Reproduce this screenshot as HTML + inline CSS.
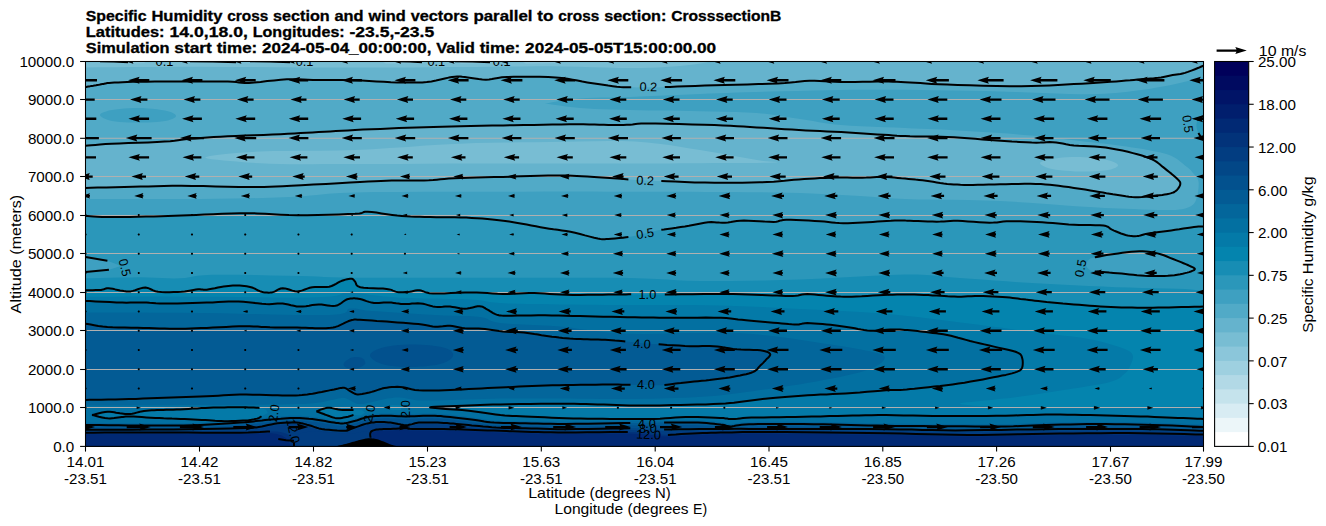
<!DOCTYPE html>
<html><head><meta charset="utf-8"><title>Specific Humidity cross section</title>
<style>html,body{margin:0;padding:0;background:#fff;}body{width:1326px;height:526px;overflow:hidden;font-family:"Liberation Sans",sans-serif;}svg{display:block;}</style>
</head><body>
<svg width="1326" height="526" viewBox="0 0 1326 526" font-family="'Liberation Sans', sans-serif">
<rect width="1326" height="526" fill="#fff"/>
<defs><clipPath id="ax"><rect x="85.5" y="61.5" width="1118.0" height="384.9"/></clipPath></defs>
<g clip-path="url(#ax)">
<g shape-rendering="geometricPrecision">
<rect x="83.5" y="59.5" width="1122.0" height="388.9" fill="#65b3cd"/>
<path d="M83.5 59.5 L83.5 67.4 L85.5 67.4 L97.5 67.3 L113.7 67.2 L133.1 67.0 L154.6 66.9 L177.2 66.8 L200.0 66.8 L224.1 66.9 L250.5 67.0 L278.1 67.2 L305.5 67.4 L331.6 67.5 L355.0 67.6 L375.6 67.6 L394.3 67.5 L411.6 67.4 L428.0 67.3 L443.9 67.1 L460.0 67.0 L476.0 66.9 L491.5 66.7 L506.6 66.5 L521.3 66.4 L535.8 66.3 L550.0 66.3 L564.3 66.5 L578.5 66.8 L592.5 67.2 L605.9 67.6 L618.5 67.9 L630.0 68.0 L640.3 67.9 L649.5 67.7 L657.9 67.4 L665.6 67.0 L672.9 66.5 L680.0 66.0 L687.0 65.3 L693.8 64.4 L700.1 63.4 L705.8 62.4 L710.5 61.6 L714.0 61.0 L720.0 59.5 Z" fill="#78bdd3"/>
<path d="M206.0 157.0 L210.0 156.1 L216.7 155.1 L225.6 154.1 L236.1 153.1 L247.7 152.2 L260.0 151.5 L273.3 151.1 L288.3 150.9 L304.3 150.8 L321.1 150.7 L338.1 150.5 L355.0 150.0 L372.1 149.2 L389.8 148.1 L407.8 146.9 L425.7 145.6 L443.3 144.5 L460.0 143.7 L475.9 143.1 L491.3 142.7 L506.2 142.5 L520.9 142.3 L535.5 142.2 L550.0 142.0 L564.7 141.8 L579.4 141.4 L594.1 141.2 L608.3 141.0 L622.0 141.1 L635.0 141.6 L647.1 142.5 L658.4 143.7 L669.2 145.1 L679.7 146.8 L689.9 148.4 L700.0 150.0 L710.4 151.7 L721.0 153.5 L731.4 155.4 L741.2 157.2 L749.8 158.7 L757.0 160.0 L763.3 160.9 L769.3 161.5 L774.2 161.8 L777.3 162.1 L777.8 162.3 L775.0 162.5 L767.8 162.7 L756.7 162.9 L743.0 163.0 L728.1 163.1 L713.3 163.1 L700.0 163.2 L688.7 163.3 L678.5 163.3 L668.4 163.4 L657.6 163.4 L645.1 163.5 L630.0 163.5 L612.0 163.5 L591.7 163.5 L569.7 163.5 L546.7 163.5 L523.2 163.5 L500.0 163.5 L475.9 163.6 L450.2 163.6 L424.1 163.8 L398.7 163.9 L375.3 163.9 L355.0 164.0 L338.2 164.1 L323.9 164.1 L311.6 164.2 L300.6 164.2 L290.2 164.2 L280.0 164.0 L269.9 163.7 L260.5 163.3 L251.8 162.8 L243.8 162.2 L236.5 161.6 L230.0 161.0 L223.6 160.4 L217.2 159.8 L211.5 159.2 L207.3 158.5 L205.2 157.8 Z" fill="#78bdd3"/>
<path d="M1040.0 163.0 L1040.8 162.1 L1042.6 161.3 L1045.2 160.5 L1048.3 159.7 L1051.6 159.1 L1055.0 158.5 L1058.6 158.0 L1062.6 157.6 L1066.9 157.3 L1071.3 157.1 L1075.7 157.0 L1080.0 157.0 L1084.3 157.2 L1088.8 157.4 L1093.2 157.8 L1097.6 158.3 L1101.5 158.9 L1105.0 159.5 L1108.1 160.2 L1111.1 161.1 L1113.7 162.1 L1115.8 163.1 L1117.3 164.1 L1118.0 165.0 L1117.9 165.9 L1117.0 166.8 L1115.6 167.8 L1113.5 168.6 L1111.0 169.4 L1108.0 170.0 L1104.4 170.5 L1100.0 170.9 L1095.1 171.2 L1090.0 171.4 L1084.9 171.5 L1080.0 171.5 L1075.1 171.4 L1070.1 171.1 L1065.0 170.7 L1060.1 170.2 L1055.7 169.7 L1052.0 169.0 L1048.8 168.2 L1045.8 167.2 L1043.3 166.1 L1041.4 165.0 L1040.3 164.0 Z" fill="#78bdd3"/>
<path d="M120.0 60.5 L148.0 60.5 L144.0 63.1 L126.0 63.4 Z" fill="#8bc6da"/>
<path d="M380.0 60.5 L420.0 60.5 L416.0 63.1 L386.0 63.4 Z" fill="#8bc6da"/>
<path d="M455.0 60.5 L485.0 60.5 L481.0 63.1 L461.0 63.4 Z" fill="#8bc6da"/>
<path d="M520.0 60.5 L560.0 60.5 L556.0 63.1 L526.0 63.4 Z" fill="#8bc6da"/>
<path d="M83.5 87.6 L85.5 87.1 L86.2 87.0 L87.1 86.8 L88.2 86.6 L89.5 86.4 L90.8 86.1 L92.0 85.9 L93.3 85.7 L94.6 85.4 L96.0 85.2 L97.4 84.9 L98.8 84.7 L100.0 84.5 L101.2 84.2 L102.3 84.0 L103.3 83.9 L104.3 83.7 L105.2 83.5 L106.0 83.4 L106.4 83.3 L106.5 83.2 L106.4 83.2 L106.6 83.2 L107.3 83.1 L109.0 83.0 L111.5 82.8 L114.5 82.6 L118.1 82.4 L122.4 82.2 L127.2 82.0 L132.8 81.8 L139.3 81.7 L146.8 81.7 L154.9 81.6 L163.4 81.6 L171.8 81.6 L180.0 81.6 L188.2 81.6 L196.9 81.5 L205.5 81.4 L213.8 81.4 L221.4 81.4 L227.8 81.5 L232.7 81.7 L236.2 82.0 L239.0 82.4 L241.6 82.7 L244.7 82.9 L248.9 82.9 L254.3 82.5 L260.5 81.9 L267.2 81.1 L274.1 80.4 L280.7 79.7 L286.9 79.3 L292.5 79.2 L297.8 79.3 L302.9 79.5 L307.9 79.7 L313.1 80.0 L318.6 80.1 L324.3 80.1 L330.2 80.1 L336.1 80.1 L342.3 80.1 L348.5 80.2 L355.0 80.3 L361.8 80.6 L369.1 81.0 L376.5 81.4 L383.9 81.8 L390.8 82.2 L397.2 82.4 L402.9 82.5 L408.2 82.6 L413.1 82.6 L417.7 82.6 L422.3 82.4 L426.8 82.0 L431.4 81.4 L436.0 80.5 L440.5 79.5 L444.8 78.5 L448.7 77.6 L452.1 77.0 L454.8 76.7 L457.0 76.5 L458.7 76.5 L460.4 76.6 L462.3 76.8 L464.8 77.0 L467.8 77.4 L471.2 77.9 L474.8 78.5 L478.6 79.1 L482.3 79.5 L485.9 79.7 L489.1 79.5 L491.9 79.1 L494.7 78.5 L497.9 77.9 L501.9 77.3 L507.0 77.0 L513.7 76.8 L521.8 76.7 L530.6 76.7 L539.6 76.8 L548.2 77.0 L555.6 77.4 L561.9 78.0 L567.5 78.8 L572.6 79.7 L577.5 80.6 L582.3 81.6 L587.3 82.4 L592.5 83.2 L597.9 84.0 L603.1 84.8 L608.2 85.6 L612.8 86.2 L616.8 86.7 L620.0 87.0 L622.6 87.2 L624.8 87.3 L626.8 87.3 L628.8 87.3 L631.2 87.3 L633.9 87.3 L636.6 87.4 L639.5 87.3 L642.3 87.3 L645.2 87.3 L648.0 87.3 L650.4 87.3 L652.4 87.3 L654.3 87.3 L656.8 87.3 L660.1 87.2 L664.8 87.1 L671.0 86.9 L678.4 86.6 L686.7 86.2 L695.7 85.9 L705.0 85.5 L714.5 85.2 L724.6 84.9 L735.8 84.7 L747.3 84.4 L758.5 84.1 L768.9 83.8 L777.8 83.5 L784.9 83.1 L790.7 82.5 L795.6 82.0 L800.1 81.4 L804.6 81.0 L809.5 80.8 L814.6 80.8 L819.6 81.0 L824.6 81.3 L829.8 81.6 L835.2 81.8 L841.1 82.0 L847.7 82.0 L855.0 81.9 L862.6 81.8 L870.1 81.7 L877.1 81.6 L883.4 81.6 L888.6 81.6 L893.0 81.7 L897.0 81.8 L900.9 82.0 L905.1 82.2 L910.0 82.4 L915.2 82.7 L920.3 83.1 L925.6 83.5 L931.7 83.9 L938.8 84.3 L947.2 84.6 L957.6 84.9 L969.9 85.3 L983.2 85.7 L996.7 86.0 L1009.6 86.2 L1021.1 86.2 L1031.2 86.1 L1040.7 85.8 L1049.5 85.4 L1057.9 85.0 L1066.0 84.5 L1073.9 84.1 L1081.8 83.7 L1089.4 83.2 L1096.8 82.8 L1103.8 82.3 L1110.3 81.8 L1116.2 81.4 L1121.4 81.0 L1126.0 80.6 L1130.2 80.3 L1133.9 79.9 L1137.5 79.6 L1141.0 79.3 L1144.4 79.0 L1147.5 78.8 L1150.4 78.6 L1153.1 78.4 L1155.8 78.1 L1158.4 77.8 L1161.0 77.4 L1163.5 76.9 L1165.9 76.4 L1168.2 75.9 L1170.5 75.4 L1172.7 75.0 L1174.8 74.7 L1176.7 74.4 L1178.6 74.2 L1180.5 74.0 L1182.6 73.5 L1185.0 72.9 L1187.9 71.9 L1191.4 70.6 L1195.0 69.2 L1198.5 67.8 L1201.4 66.5 L1203.5 65.7 L1205.5 65.0 L1205.5 448.4 L83.5 448.4 L83.5 187.9 L85.5 187.9 L90.6 187.8 L97.7 187.6 L106.1 187.4 L115.2 187.2 L124.3 187.0 L132.8 186.8 L140.6 186.6 L148.2 186.4 L155.8 186.2 L163.8 186.0 L172.2 185.8 L181.4 185.8 L191.8 185.9 L203.4 186.1 L215.5 186.4 L227.6 186.7 L238.9 186.9 L248.9 187.0 L257.1 187.0 L263.9 186.9 L269.9 186.7 L276.0 186.5 L282.8 186.2 L291.1 185.8 L301.4 185.3 L313.3 184.6 L325.9 183.9 L338.4 183.2 L350.0 182.5 L360.0 182.0 L368.1 181.6 L375.0 181.3 L380.9 181.0 L386.4 180.8 L391.7 180.6 L397.2 180.5 L402.9 180.4 L408.4 180.4 L413.8 180.4 L419.0 180.5 L424.1 180.4 L428.9 180.3 L433.2 180.1 L436.9 179.7 L440.5 179.3 L444.3 178.9 L448.7 178.5 L454.2 178.2 L460.9 177.9 L468.5 177.7 L476.8 177.5 L485.4 177.3 L494.2 177.1 L502.8 176.9 L511.6 176.6 L520.9 176.3 L530.3 176.0 L539.4 175.7 L548.0 175.5 L555.6 175.4 L562.0 175.4 L567.4 175.5 L572.2 175.7 L576.8 175.9 L581.7 176.2 L587.3 176.5 L593.9 176.9 L601.2 177.4 L608.8 177.9 L616.2 178.5 L622.9 179.0 L628.4 179.4 L632.6 179.7 L635.8 179.9 L638.2 180.1 L640.4 180.2 L642.5 180.4 L645.0 180.5 L647.3 180.6 L649.1 180.7 L650.9 180.8 L653.1 180.8 L656.5 180.9 L661.3 181.1 L668.0 181.3 L676.3 181.7 L685.6 182.0 L695.4 182.4 L705.2 182.6 L714.5 182.8 L723.6 182.8 L732.9 182.8 L742.2 182.7 L751.2 182.5 L759.6 182.3 L767.2 182.0 L773.7 181.7 L779.3 181.2 L784.4 180.8 L789.1 180.3 L793.9 179.8 L798.9 179.4 L804.2 179.0 L809.5 178.7 L814.8 178.4 L820.0 178.1 L825.3 177.9 L830.6 177.7 L836.0 177.6 L841.6 177.6 L847.1 177.6 L852.5 177.7 L857.6 177.7 L862.3 177.7 L866.4 177.6 L870.1 177.4 L873.5 177.2 L876.7 177.0 L880.0 176.9 L883.4 176.9 L887.0 177.0 L890.6 177.3 L894.2 177.6 L897.8 177.9 L901.4 178.3 L905.0 178.6 L908.5 178.9 L912.1 179.2 L915.6 179.6 L919.1 179.9 L922.6 180.3 L926.1 180.7 L929.6 181.2 L933.1 181.8 L936.7 182.4 L940.2 183.0 L943.7 183.5 L947.2 183.9 L950.6 184.2 L953.8 184.5 L957.1 184.6 L960.5 184.8 L964.2 184.9 L968.3 184.9 L972.9 184.9 L977.9 184.8 L983.2 184.7 L988.7 184.5 L994.4 184.4 L1000.0 184.3 L1005.8 184.2 L1012.0 184.0 L1018.2 183.9 L1024.4 183.8 L1030.4 183.8 L1035.9 183.9 L1040.9 184.1 L1045.5 184.4 L1049.9 184.8 L1054.2 185.3 L1058.7 185.8 L1063.4 186.4 L1068.5 187.1 L1074.0 187.9 L1079.6 188.7 L1085.1 189.6 L1090.3 190.4 L1095.0 191.2 L1099.2 191.9 L1102.9 192.5 L1106.4 193.2 L1109.7 193.7 L1112.9 194.3 L1116.2 194.8 L1119.5 195.3 L1122.7 195.8 L1125.8 196.3 L1128.9 196.7 L1132.1 197.0 L1135.2 197.2 L1138.4 197.2 L1141.7 197.1 L1145.0 196.8 L1148.2 196.5 L1151.3 196.2 L1154.2 195.9 L1157.0 195.6 L1159.7 195.3 L1162.3 195.0 L1164.7 194.6 L1166.9 194.2 L1168.9 193.8 L1170.6 193.4 L1172.0 192.9 L1173.3 192.5 L1174.4 192.0 L1175.3 191.3 L1176.3 190.6 L1177.2 189.7 L1178.1 188.6 L1178.9 187.4 L1179.6 186.2 L1180.1 185.0 L1180.3 184.0 L1180.3 183.1 L1180.2 182.4 L1179.9 181.8 L1179.3 181.0 L1178.5 180.1 L1177.4 179.0 L1175.8 177.5 L1173.8 175.8 L1171.6 173.9 L1169.2 172.0 L1166.8 170.1 L1164.7 168.4 L1162.8 166.9 L1161.1 165.4 L1159.4 164.0 L1157.7 162.7 L1155.8 161.4 L1153.7 160.2 L1151.5 159.1 L1149.2 158.1 L1146.8 157.1 L1144.1 156.2 L1141.0 155.2 L1137.3 154.2 L1132.9 153.1 L1127.9 151.8 L1122.4 150.6 L1116.7 149.4 L1111.1 148.4 L1105.6 147.5 L1100.2 146.9 L1094.6 146.5 L1089.1 146.2 L1083.7 146.0 L1078.6 145.8 L1073.9 145.4 L1069.8 144.9 L1066.1 144.3 L1062.7 143.6 L1059.4 143.0 L1056.2 142.5 L1052.8 142.2 L1049.5 142.1 L1046.5 142.2 L1043.6 142.4 L1040.3 142.6 L1036.4 142.7 L1031.7 142.6 L1025.9 142.3 L1019.2 141.9 L1011.9 141.5 L1004.4 140.9 L996.8 140.4 L989.5 139.9 L982.4 139.4 L975.2 138.8 L968.0 138.3 L960.9 137.7 L954.0 137.3 L947.2 136.9 L940.6 136.7 L934.0 136.6 L927.6 136.5 L921.4 136.5 L915.5 136.4 L910.0 136.3 L905.1 136.1 L900.9 135.9 L897.0 135.7 L893.0 135.4 L888.6 135.1 L883.4 134.8 L877.3 134.4 L870.5 134.0 L863.2 133.5 L855.8 133.0 L848.3 132.5 L841.1 132.1 L834.1 131.7 L827.0 131.4 L820.0 131.0 L813.0 130.7 L805.9 130.4 L798.9 130.0 L791.9 129.6 L784.8 129.2 L777.8 128.7 L770.8 128.3 L763.7 127.8 L756.7 127.4 L750.0 127.0 L743.6 126.6 L737.2 126.2 L730.4 125.8 L723.0 125.4 L714.5 125.1 L704.1 124.7 L692.0 124.4 L679.1 124.0 L666.6 123.7 L655.5 123.5 L646.9 123.4 L641.2 123.5 L637.7 123.7 L635.6 123.9 L634.1 124.2 L632.5 124.5 L630.0 124.7 L626.8 124.8 L623.5 124.9 L620.1 124.9 L616.5 124.9 L612.6 124.9 L608.4 124.9 L603.9 124.8 L599.4 124.7 L594.5 124.6 L589.2 124.4 L583.3 124.3 L576.7 124.3 L569.2 124.3 L561.1 124.5 L552.3 124.6 L543.1 124.8 L533.6 124.9 L523.9 125.1 L513.8 125.3 L503.2 125.4 L492.2 125.6 L481.3 125.8 L470.7 126.0 L460.6 126.2 L451.2 126.4 L442.2 126.7 L433.5 126.9 L425.0 127.2 L416.5 127.5 L407.8 127.8 L398.8 128.1 L389.6 128.5 L380.4 128.9 L371.4 129.3 L362.9 129.6 L355.0 130.0 L348.0 130.4 L341.7 130.7 L335.9 131.1 L330.2 131.4 L324.6 131.8 L318.6 132.1 L312.5 132.4 L306.6 132.8 L300.6 133.1 L294.4 133.5 L287.8 133.8 L280.6 134.2 L272.5 134.5 L263.5 134.9 L254.2 135.2 L244.9 135.6 L235.9 135.9 L227.8 136.3 L220.5 136.7 L213.6 137.1 L207.1 137.5 L201.0 137.9 L195.2 138.4 L189.8 138.8 L185.2 139.3 L181.4 139.7 L178.1 140.2 L174.5 140.7 L170.2 141.2 L164.5 141.6 L157.0 142.0 L148.0 142.4 L138.2 142.7 L128.3 143.0 L119.3 143.4 L111.7 143.7 L105.5 144.1 L100.0 144.5 L95.3 144.9 L91.3 145.3 L88.0 145.6 L85.5 145.8 L83.5 145.8 Z" fill="#51aac7"/>
<path d="M100.0 115.0 L100.4 114.1 L101.7 113.1 L103.6 112.2 L106.1 111.4 L108.9 110.6 L112.0 110.0 L115.5 109.4 L119.6 108.9 L124.1 108.5 L128.7 108.2 L133.4 108.0 L138.0 108.0 L142.6 108.1 L147.5 108.4 L152.4 108.8 L157.1 109.3 L161.4 109.9 L165.0 110.5 L168.0 111.2 L170.7 112.1 L172.9 113.1 L174.6 114.1 L175.6 115.1 L176.0 116.0 L175.6 116.9 L174.6 117.8 L172.9 118.8 L170.7 119.6 L168.0 120.4 L165.0 121.0 L161.4 121.5 L157.1 121.9 L152.4 122.2 L147.5 122.4 L142.6 122.5 L138.0 122.5 L133.4 122.5 L128.7 122.4 L124.1 122.2 L119.6 121.9 L115.5 121.5 L112.0 121.0 L108.9 120.2 L106.1 119.3 L103.6 118.2 L101.7 117.1 L100.4 116.0 Z" fill="#3ea0c1"/>
<path d="M545.0 103.5 L548.6 102.9 L553.5 102.1 L559.4 101.1 L565.9 100.1 L572.9 99.2 L580.0 98.5 L587.2 98.1 L594.8 97.8 L602.8 97.6 L611.3 97.5 L620.3 97.3 L630.0 97.0 L640.7 96.6 L652.3 96.1 L664.6 95.5 L676.9 95.0 L688.9 94.5 L700.0 94.0 L709.9 93.6 L718.9 93.3 L727.5 92.9 L736.2 92.6 L745.8 92.3 L756.7 92.0 L769.4 91.6 L783.5 91.3 L798.4 90.9 L813.4 90.5 L827.8 90.2 L841.0 90.0 L852.5 89.8 L862.7 89.7 L872.3 89.7 L882.1 89.7 L892.8 89.7 L905.0 89.8 L919.2 90.0 L934.9 90.2 L951.5 90.5 L968.3 90.8 L984.7 91.1 L1000.0 91.5 L1014.6 91.9 L1029.1 92.5 L1043.1 93.1 L1056.4 93.6 L1068.8 94.0 L1080.0 94.2 L1089.6 94.2 L1097.8 94.0 L1105.0 93.7 L1111.7 93.3 L1118.4 92.7 L1125.6 92.0 L1133.3 91.1 L1141.2 90.1 L1149.1 88.9 L1156.8 87.6 L1164.2 86.3 L1171.0 85.0 L1177.5 83.6 L1184.0 82.1 L1190.1 80.6 L1195.6 79.1 L1200.1 77.9 L1203.5 77.0 L1205.5 76.0 L1205.5 448.4 L83.5 448.4 L83.5 199.0 L85.5 199.0 L98.2 199.0 L116.1 199.1 L137.1 199.1 L159.4 199.1 L181.0 199.1 L200.0 199.0 L216.7 198.8 L232.7 198.6 L248.1 198.3 L262.8 197.9 L276.7 197.5 L290.0 197.0 L301.4 196.4 L310.6 195.5 L319.1 194.7 L328.3 193.8 L339.8 193.1 L355.0 192.5 L374.7 192.1 L398.0 191.9 L423.4 191.8 L449.8 191.8 L475.8 191.7 L500.0 191.7 L523.0 191.7 L545.9 191.6 L568.4 191.6 L590.2 191.6 L610.8 191.7 L630.0 191.7 L647.4 191.7 L663.3 191.8 L678.1 191.8 L692.2 191.8 L706.0 191.9 L720.0 192.0 L734.1 192.1 L748.1 192.2 L761.9 192.3 L775.2 192.5 L787.9 192.7 L800.0 193.0 L811.3 193.4 L822.0 193.9 L832.2 194.4 L841.9 194.9 L851.1 195.5 L860.0 196.0 L867.8 196.5 L874.3 197.0 L880.3 197.6 L886.9 198.1 L894.8 198.6 L905.0 199.0 L918.1 199.4 L933.5 199.6 L950.3 199.8 L967.6 200.1 L984.5 200.5 L1000.0 201.0 L1014.6 201.8 L1029.1 202.7 L1043.1 203.7 L1056.4 204.8 L1068.8 205.7 L1080.0 206.5 L1089.6 207.1 L1097.7 207.5 L1105.0 207.9 L1111.7 208.2 L1118.4 208.5 L1125.6 208.8 L1133.5 209.1 L1141.9 209.4 L1150.2 209.7 L1158.1 209.9 L1165.3 210.0 L1171.2 210.0 L1175.8 209.9 L1179.3 209.6 L1182.0 209.3 L1184.1 208.8 L1186.0 208.2 L1188.0 207.5 L1189.9 206.7 L1191.5 205.8 L1192.9 204.7 L1194.1 203.5 L1195.1 201.9 L1196.0 200.0 L1196.8 197.5 L1197.6 194.4 L1198.2 191.1 L1198.5 187.7 L1198.7 184.6 L1198.6 182.0 L1198.1 179.9 L1197.4 178.2 L1196.3 176.8 L1195.2 175.4 L1194.1 174.2 L1193.0 173.0 L1192.1 171.9 L1191.4 171.0 L1190.6 170.1 L1189.7 169.3 L1188.6 168.3 L1187.0 167.0 L1185.0 165.4 L1182.7 163.5 L1180.2 161.4 L1177.4 159.3 L1174.4 157.4 L1171.2 155.8 L1167.9 154.5 L1164.4 153.4 L1160.7 152.5 L1156.7 151.7 L1152.5 150.9 L1148.0 150.0 L1143.1 149.1 L1137.8 148.2 L1132.2 147.4 L1126.5 146.6 L1120.7 145.8 L1115.0 145.0 L1109.3 144.3 L1103.4 143.6 L1097.6 142.9 L1091.7 142.3 L1085.8 141.7 L1080.0 141.0 L1074.4 140.3 L1069.0 139.7 L1063.7 139.0 L1058.2 138.3 L1052.3 137.7 L1046.0 137.0 L1039.1 136.3 L1031.7 135.6 L1024.0 134.9 L1016.1 134.3 L1008.0 133.6 L1000.0 133.0 L991.8 132.4 L983.4 131.9 L974.9 131.4 L966.4 130.9 L958.1 130.4 L950.0 130.0 L942.4 129.6 L935.3 129.3 L928.4 129.0 L921.2 128.7 L913.5 128.4 L905.0 128.0 L895.2 127.6 L884.2 127.2 L872.8 126.8 L861.3 126.3 L850.6 125.7 L841.0 125.0 L832.9 124.2 L825.7 123.2 L819.2 122.2 L813.0 121.1 L806.7 120.0 L800.0 119.0 L793.2 118.0 L786.6 116.9 L780.0 115.8 L773.0 114.7 L765.3 113.8 L756.7 113.0 L746.9 112.4 L736.0 112.0 L724.4 111.7 L712.6 111.4 L701.0 111.2 L690.0 111.0 L679.5 110.8 L669.1 110.6 L659.0 110.5 L649.0 110.4 L639.3 110.2 L630.0 110.0 L620.9 109.8 L612.0 109.5 L603.4 109.2 L595.2 108.9 L587.3 108.5 L580.0 108.0 L572.9 107.3 L565.9 106.5 L559.4 105.6 L553.5 104.8 L548.6 104.0 L545.0 103.5 Z" fill="#3ea0c1"/>
<path d="M83.5 216.0 L85.5 216.0 L87.6 216.1 L90.3 216.3 L93.5 216.5 L97.5 216.7 L102.1 216.9 L107.4 217.0 L113.8 217.0 L121.2 217.0 L129.4 216.9 L137.8 216.7 L146.1 216.6 L153.9 216.4 L161.1 216.2 L167.9 216.0 L174.6 215.7 L181.4 215.4 L188.5 215.2 L196.1 214.9 L204.3 214.6 L213.1 214.2 L222.1 213.8 L231.2 213.5 L240.2 213.3 L248.9 213.2 L257.1 213.4 L265.1 213.8 L272.9 214.2 L280.8 214.7 L288.9 215.1 L297.5 215.3 L307.1 215.3 L317.7 215.1 L328.5 214.8 L338.8 214.5 L347.9 214.1 L355.0 213.8 L359.5 213.4 L361.9 212.9 L363.1 212.4 L363.9 212.0 L365.1 211.7 L367.7 211.7 L371.7 212.0 L376.4 212.6 L381.5 213.4 L386.9 214.2 L392.2 214.9 L397.2 215.5 L401.8 215.9 L406.2 216.2 L410.5 216.5 L415.0 216.7 L419.7 216.8 L424.7 217.0 L430.2 217.1 L436.2 217.2 L442.4 217.2 L448.6 217.2 L454.8 217.2 L460.6 217.4 L466.2 217.6 L471.7 217.9 L477.1 218.3 L482.3 218.6 L487.3 219.1 L492.2 219.5 L496.8 220.0 L501.1 220.5 L505.2 221.0 L509.2 221.6 L513.3 222.2 L517.6 222.9 L522.1 223.7 L526.7 224.5 L531.3 225.4 L535.9 226.3 L540.5 227.2 L545.0 228.0 L549.3 228.7 L553.5 229.3 L557.7 229.8 L561.9 230.4 L566.1 231.0 L570.4 231.8 L575.0 232.8 L580.0 234.0 L585.0 235.4 L589.8 236.6 L594.2 237.7 L597.8 238.5 L600.4 239.0 L602.2 239.2 L603.6 239.3 L604.8 239.2 L606.3 239.1 L608.4 239.0 L611.2 238.8 L614.5 238.6 L618.0 238.3 L621.6 237.9 L625.2 237.5 L628.4 237.1 L631.4 236.6 L634.2 236.0 L636.9 235.4 L639.6 234.8 L642.3 234.1 L645.0 233.5 L647.6 232.9 L650.2 232.2 L652.7 231.6 L655.3 230.9 L658.2 230.3 L661.3 229.7 L664.8 229.1 L668.6 228.6 L672.7 228.1 L676.8 227.6 L680.9 227.1 L684.9 226.5 L688.9 225.8 L692.9 225.0 L696.9 224.2 L700.8 223.4 L704.6 222.7 L708.1 222.3 L711.3 222.1 L714.1 222.2 L716.8 222.4 L719.4 222.6 L722.1 222.7 L725.0 222.7 L727.9 222.5 L730.8 222.1 L733.7 221.6 L736.8 221.1 L740.2 220.8 L744.0 220.6 L748.5 220.7 L753.7 220.9 L759.2 221.2 L764.6 221.6 L769.5 221.8 L773.6 221.9 L776.4 221.7 L778.3 221.3 L779.6 220.8 L781.1 220.4 L783.1 220.0 L786.2 219.8 L790.7 219.8 L796.3 220.0 L802.4 220.2 L808.7 220.6 L814.7 220.9 L820.0 221.2 L824.4 221.5 L828.3 222.0 L831.9 222.4 L835.5 222.8 L839.2 223.1 L843.3 223.3 L847.9 223.3 L852.8 223.1 L857.9 222.8 L863.0 222.5 L868.0 222.2 L872.8 221.9 L877.4 221.6 L882.1 221.3 L886.6 221.0 L890.9 220.8 L894.8 220.5 L898.2 220.4 L900.8 220.4 L902.6 220.4 L904.0 220.4 L905.5 220.6 L907.3 220.7 L910.0 220.8 L913.7 220.9 L918.0 221.1 L922.8 221.3 L927.7 221.5 L932.4 221.6 L936.7 221.7 L940.4 221.6 L943.8 221.4 L946.9 221.2 L950.2 221.0 L953.7 220.8 L957.8 220.8 L962.6 221.0 L968.0 221.4 L973.6 221.8 L979.3 222.2 L984.7 222.5 L989.5 222.7 L993.5 222.6 L996.9 222.4 L1000.1 222.0 L1003.2 221.6 L1006.6 221.3 L1010.6 221.2 L1015.3 221.2 L1020.4 221.3 L1025.7 221.5 L1031.3 221.7 L1036.8 222.0 L1042.2 222.3 L1047.5 222.7 L1052.8 223.1 L1058.2 223.6 L1063.5 224.0 L1068.7 224.5 L1073.9 224.8 L1079.2 225.0 L1084.7 225.1 L1090.2 225.1 L1095.3 225.2 L1099.8 225.3 L1103.5 225.6 L1106.1 226.1 L1107.7 226.7 L1108.8 227.4 L1109.6 228.1 L1110.5 228.9 L1112.0 229.7 L1114.0 230.6 L1116.2 231.5 L1118.6 232.5 L1121.0 233.5 L1123.4 234.3 L1125.6 235.0 L1127.6 235.5 L1129.6 235.8 L1131.4 236.0 L1133.3 236.2 L1135.1 236.2 L1137.0 236.1 L1138.8 235.9 L1140.4 235.5 L1142.0 235.0 L1143.8 234.5 L1145.8 233.9 L1148.4 233.4 L1151.5 232.9 L1155.2 232.4 L1159.1 231.9 L1163.2 231.4 L1167.3 230.9 L1171.2 230.4 L1175.2 229.8 L1179.3 229.2 L1183.4 228.5 L1187.4 227.9 L1191.0 227.4 L1194.0 227.0 L1196.5 226.8 L1198.5 226.6 L1200.2 226.6 L1201.5 226.6 L1202.6 226.6 L1203.5 226.6 L1205.5 226.6 L1205.5 448.4 L83.5 448.4 Z" fill="#2b97ba"/>
<path d="M1204.0 116.0 L1203.4 116.2 L1202.6 116.4 L1201.7 116.6 L1200.7 117.0 L1199.7 117.4 L1199.0 118.0 L1198.4 118.8 L1197.9 119.7 L1197.4 120.7 L1197.0 121.8 L1196.7 122.9 L1196.5 124.0 L1196.4 125.1 L1196.5 126.4 L1196.7 127.6 L1196.9 128.9 L1197.2 130.0 L1197.5 131.0 L1197.8 131.9 L1198.2 132.6 L1198.6 133.3 L1199.0 133.9 L1199.5 134.5 L1200.0 135.0 L1200.6 135.5 L1201.4 136.0 L1202.2 136.5 L1202.9 136.9 L1203.5 137.2 L1204.0 137.5 L1206.0 137.5 L1206.0 116.0 Z" fill="#2b97ba"/>
<path d="M1086.0 264.5 L1086.1 263.6 L1086.5 262.7 L1087.0 261.8 L1087.6 261.0 L1088.3 260.2 L1089.0 259.5 L1089.6 259.0 L1090.2 258.6 L1090.9 258.3 L1091.8 258.0 L1093.0 257.7 L1094.8 257.3 L1097.2 256.8 L1100.0 256.2 L1103.3 255.6 L1106.8 255.0 L1110.5 254.4 L1114.2 253.9 L1118.1 253.4 L1122.4 252.8 L1126.8 252.3 L1131.2 251.8 L1135.5 251.5 L1139.3 251.3 L1142.7 251.3 L1145.9 251.5 L1148.8 251.8 L1151.7 252.2 L1154.5 252.7 L1157.5 253.4 L1160.6 254.3 L1163.8 255.3 L1166.9 256.5 L1170.0 257.8 L1173.0 259.0 L1175.8 260.1 L1178.4 261.1 L1181.0 262.2 L1183.5 263.2 L1185.7 264.1 L1187.8 265.0 L1189.5 265.8 L1191.0 266.5 L1192.4 267.1 L1193.5 267.6 L1194.3 268.2 L1194.8 268.7 L1194.8 269.2 L1194.4 269.8 L1193.5 270.4 L1192.3 270.9 L1190.8 271.5 L1189.1 272.1 L1187.2 272.6 L1185.1 273.1 L1182.7 273.7 L1180.2 274.2 L1177.3 274.7 L1174.4 275.2 L1171.2 275.5 L1167.8 275.8 L1164.1 275.9 L1160.2 276.1 L1156.3 276.1 L1152.3 276.1 L1148.4 276.0 L1144.6 275.8 L1140.8 275.5 L1137.0 275.2 L1133.2 274.8 L1129.4 274.4 L1125.6 274.0 L1121.6 273.6 L1117.5 273.3 L1113.3 272.9 L1109.3 272.6 L1105.7 272.2 L1102.8 272.0 L1100.6 271.8 L1099.0 271.8 L1097.7 271.8 L1096.8 271.7 L1095.8 271.7 L1094.8 271.5 L1093.7 271.3 L1092.6 271.1 L1091.6 270.8 L1090.6 270.4 L1089.8 270.0 L1089.0 269.5 L1088.3 268.8 L1087.6 268.1 L1087.0 267.2 L1086.5 266.3 L1086.1 265.4 Z" fill="#3ea0c1"/>
<path d="M83.5 256.6 L107.4 260.7 L121.0 266.0 L108.9 269.7 L83.5 272.2 Z" fill="#3ea0c1"/>
<path d="M83.5 278.3 L85.5 278.3 L91.6 278.2 L100.2 278.0 L110.2 277.7 L120.9 277.5 L131.1 277.4 L140.0 277.3 L147.6 277.4 L154.7 277.7 L161.4 278.0 L167.8 278.2 L174.0 278.4 L180.0 278.3 L185.1 277.9 L189.2 277.3 L193.0 276.5 L197.5 275.8 L203.5 275.2 L212.0 274.8 L223.8 274.7 L238.4 274.8 L254.6 275.1 L271.0 275.4 L286.6 275.7 L300.0 276.0 L310.0 276.3 L317.4 276.6 L323.9 276.9 L331.2 277.2 L341.0 277.5 L355.0 277.7 L374.1 277.8 L397.2 277.8 L422.8 277.8 L449.4 277.7 L475.7 277.7 L500.0 277.7 L523.2 277.7 L546.7 277.7 L569.7 277.7 L591.7 277.7 L612.0 277.8 L630.0 278.0 L644.8 278.4 L656.7 279.0 L666.9 279.6 L676.7 280.2 L687.3 280.7 L700.0 281.0 L714.9 281.1 L730.9 281.0 L747.8 280.8 L765.2 280.4 L782.7 280.0 L800.0 279.5 L817.8 278.8 L836.5 277.8 L855.3 276.7 L873.5 275.7 L890.3 274.9 L905.0 274.5 L916.9 274.6 L926.4 275.0 L934.6 275.6 L942.3 276.4 L950.4 277.2 L960.0 278.0 L970.8 278.8 L982.2 279.6 L994.0 280.5 L1006.2 281.3 L1018.8 282.2 L1031.7 283.0 L1045.2 283.8 L1059.4 284.5 L1074.0 285.3 L1088.6 286.0 L1102.7 286.6 L1116.0 287.2 L1129.0 287.6 L1142.0 287.9 L1154.6 288.2 L1166.3 288.4 L1176.6 288.7 L1185.0 289.0 L1191.2 289.5 L1195.6 290.0 L1198.6 290.6 L1200.6 291.2 L1202.1 291.7 L1203.5 292.0 L1205.5 292.0 L1205.5 448.4 L83.5 448.4 Z" fill="#178db4"/>
<path d="M83.5 290.3 L85.5 290.3 L87.3 290.3 L89.8 290.2 L92.8 290.2 L95.9 290.1 L98.8 290.0 L101.1 289.9 L102.7 289.6 L103.9 289.3 L104.9 288.9 L105.9 288.5 L107.0 288.2 L108.5 288.2 L110.5 288.4 L112.8 288.8 L115.3 289.4 L117.8 289.9 L120.1 290.4 L122.2 290.8 L123.8 291.1 L125.2 291.3 L126.4 291.5 L127.6 291.6 L129.0 291.6 L130.7 291.4 L132.8 290.9 L135.2 290.2 L137.8 289.3 L140.5 288.4 L143.1 287.8 L145.5 287.6 L147.6 287.9 L149.5 288.6 L151.3 289.5 L153.2 290.4 L155.4 291.3 L158.1 291.8 L161.4 292.1 L165.3 292.2 L169.5 292.2 L173.7 292.1 L177.8 292.0 L181.4 291.8 L184.7 291.5 L187.8 291.0 L190.7 290.5 L193.5 290.0 L196.0 289.6 L198.2 289.3 L200.0 289.2 L201.3 289.4 L202.4 289.5 L203.6 289.7 L204.9 289.8 L206.7 289.7 L209.1 289.3 L211.8 288.8 L214.8 288.2 L217.9 287.5 L220.9 286.9 L223.6 286.5 L226.1 286.2 L228.4 285.9 L230.6 285.7 L232.9 285.6 L235.1 285.5 L237.3 285.5 L239.6 285.6 L242.0 285.8 L244.3 286.0 L246.7 286.3 L248.9 286.7 L251.0 287.2 L252.9 287.8 L254.8 288.7 L256.5 289.6 L258.2 290.5 L259.9 291.2 L261.6 291.8 L263.4 292.2 L265.1 292.5 L266.9 292.6 L268.6 292.7 L270.3 292.6 L272.1 292.4 L273.8 291.9 L275.5 291.1 L277.1 290.1 L278.9 289.2 L280.7 288.5 L282.7 288.2 L284.9 288.4 L287.3 289.0 L289.8 289.8 L292.4 290.6 L295.0 291.2 L297.5 291.4 L299.9 291.1 L302.4 290.4 L304.8 289.5 L307.2 288.6 L309.7 287.8 L312.3 287.2 L315.0 287.0 L317.9 287.0 L320.9 287.1 L323.8 287.1 L326.6 287.1 L329.2 286.7 L331.6 286.0 L333.8 285.0 L336.0 283.9 L338.0 282.7 L339.9 281.6 L341.8 280.8 L343.6 280.2 L345.4 279.6 L347.1 279.2 L348.7 278.9 L350.1 278.7 L351.3 278.7 L352.2 278.8 L352.9 279.2 L353.4 279.6 L353.9 280.2 L354.4 280.8 L355.0 281.5 L355.5 282.3 L355.9 283.3 L356.2 284.4 L356.9 285.5 L358.2 286.4 L360.3 287.2 L363.7 287.7 L368.1 288.0 L373.2 288.2 L378.3 288.4 L383.0 288.6 L386.7 288.9 L389.4 289.4 L391.4 289.9 L392.9 290.6 L394.3 291.1 L395.6 291.6 L397.2 292.0 L398.9 292.2 L400.7 292.3 L402.4 292.3 L404.2 292.2 L406.0 292.1 L407.8 292.0 L409.7 291.8 L411.5 291.4 L413.4 291.0 L415.3 290.6 L417.3 290.3 L419.4 290.3 L421.3 290.6 L422.9 291.2 L424.6 291.9 L426.7 292.6 L429.4 293.2 L433.1 293.5 L438.1 293.5 L444.2 293.4 L451.0 293.1 L458.0 292.7 L464.9 292.5 L471.1 292.4 L476.7 292.5 L482.1 292.8 L487.3 293.1 L492.5 293.5 L497.6 293.8 L502.8 293.9 L508.1 293.9 L513.4 293.7 L518.7 293.5 L523.9 293.3 L529.2 293.1 L534.5 293.1 L539.6 293.3 L544.6 293.6 L549.6 293.9 L554.8 294.3 L560.2 294.6 L566.1 294.8 L572.8 294.9 L580.1 294.9 L587.8 294.8 L595.3 294.7 L602.4 294.7 L608.4 294.6 L613.4 294.6 L617.7 294.5 L621.4 294.4 L624.8 294.4 L628.0 294.3 L631.2 294.3 L634.3 294.3 L637.2 294.3 L640.0 294.4 L642.6 294.4 L645.3 294.5 L648.0 294.5 L650.3 294.5 L652.0 294.6 L653.7 294.6 L656.0 294.6 L659.5 294.6 L664.8 294.6 L672.5 294.5 L682.3 294.4 L693.3 294.2 L704.7 294.0 L715.5 293.9 L725.0 293.9 L733.3 294.0 L741.0 294.2 L748.3 294.5 L755.0 294.7 L761.3 295.0 L767.2 295.2 L772.5 295.4 L777.3 295.6 L781.6 295.8 L785.5 296.0 L789.2 296.0 L792.6 296.0 L795.6 295.8 L798.0 295.4 L800.1 295.0 L802.2 294.6 L804.6 294.2 L807.4 294.1 L810.8 294.2 L814.6 294.5 L818.6 294.9 L822.7 295.3 L826.8 295.7 L830.6 296.0 L834.1 296.2 L837.4 296.4 L840.6 296.6 L844.0 296.7 L847.6 296.7 L851.7 296.7 L856.4 296.5 L861.7 296.3 L867.2 295.9 L872.8 295.6 L878.3 295.2 L883.4 295.0 L888.1 294.8 L892.6 294.7 L897.0 294.5 L901.3 294.4 L905.6 294.4 L910.0 294.4 L914.5 294.5 L919.1 294.7 L923.7 294.9 L928.2 295.1 L932.6 295.4 L936.7 295.6 L940.5 295.8 L944.1 296.0 L947.6 296.3 L951.0 296.5 L954.3 296.6 L957.8 296.7 L961.2 296.7 L964.6 296.5 L967.9 296.3 L971.4 296.2 L975.0 296.0 L978.9 296.0 L983.2 296.1 L988.0 296.3 L992.9 296.5 L997.8 296.7 L1002.4 297.0 L1006.4 297.3 L1009.8 297.6 L1012.7 297.9 L1015.3 298.2 L1017.8 298.5 L1020.4 298.9 L1023.2 299.2 L1026.1 299.6 L1028.9 299.9 L1031.8 300.3 L1034.8 300.7 L1038.3 301.1 L1042.2 301.5 L1046.7 302.0 L1051.8 302.4 L1057.3 302.9 L1062.9 303.5 L1068.5 303.9 L1073.9 304.4 L1079.2 304.8 L1084.5 305.3 L1089.8 305.7 L1095.0 306.1 L1100.3 306.4 L1105.6 306.7 L1110.9 307.0 L1116.2 307.2 L1121.5 307.4 L1126.7 307.5 L1132.0 307.6 L1137.3 307.7 L1142.5 307.7 L1147.7 307.7 L1152.9 307.7 L1158.1 307.6 L1163.5 307.5 L1168.9 307.4 L1174.9 307.3 L1181.5 307.1 L1188.2 307.0 L1194.4 306.8 L1199.7 306.7 L1203.5 306.6 L1205.5 306.6 L1205.5 448.4 L83.5 448.4 Z" fill="#0484ae"/>
<path d="M83.5 296.7 L85.5 296.7 L98.1 296.7 L115.7 296.7 L136.5 296.6 L158.7 296.6 L180.4 296.7 L200.0 296.7 L218.3 296.8 L236.8 297.0 L255.0 297.2 L272.0 297.4 L287.3 297.5 L300.0 297.5 L309.8 297.4 L317.3 297.3 L322.9 297.1 L327.4 296.8 L331.2 296.5 L335.0 296.0 L338.5 295.3 L341.0 294.3 L342.9 293.2 L344.6 292.2 L346.1 291.4 L348.0 291.0 L349.7 291.0 L351.0 291.2 L352.3 291.7 L354.0 292.3 L356.4 292.9 L360.0 293.5 L364.7 294.1 L370.1 294.9 L376.4 295.6 L383.4 296.4 L391.3 297.1 L400.0 297.7 L410.4 298.1 L422.6 298.4 L435.6 298.6 L448.5 298.9 L460.3 299.1 L470.0 299.5 L477.0 300.0 L481.9 300.6 L485.6 301.3 L489.3 301.9 L493.7 302.5 L500.0 303.0 L508.1 303.4 L517.4 303.7 L527.5 303.9 L538.1 304.1 L549.1 304.3 L560.0 304.5 L570.9 304.6 L581.9 304.7 L593.1 304.8 L604.8 304.9 L617.1 304.9 L630.0 305.0 L644.0 305.0 L658.9 305.1 L674.4 305.1 L690.0 305.1 L705.3 305.2 L720.0 305.5 L734.1 305.9 L748.1 306.5 L761.9 307.1 L775.2 307.8 L787.9 308.4 L800.0 309.0 L811.3 309.5 L822.0 310.0 L832.2 310.5 L841.9 311.0 L851.1 311.5 L860.0 312.0 L867.9 312.5 L874.6 312.9 L881.0 313.4 L887.6 313.9 L895.4 314.7 L905.0 315.7 L917.2 317.1 L931.5 318.8 L946.9 320.8 L962.4 322.7 L976.9 324.6 L989.5 326.2 L999.9 327.6 L1009.0 328.8 L1017.1 329.9 L1024.7 331.0 L1032.2 332.0 L1040.0 333.0 L1048.2 334.0 L1056.4 334.8 L1064.5 335.7 L1072.4 336.6 L1079.9 337.6 L1087.0 338.7 L1093.8 340.1 L1100.5 341.6 L1106.8 343.3 L1112.6 344.9 L1117.7 346.5 L1122.0 348.0 L1125.3 349.3 L1127.8 350.4 L1129.7 351.4 L1130.9 352.5 L1131.9 353.6 L1132.6 355.0 L1133.0 356.6 L1132.8 358.5 L1132.3 360.4 L1131.6 362.4 L1130.8 364.3 L1130.0 366.0 L1129.4 367.5 L1128.7 368.8 L1128.0 370.1 L1127.1 371.3 L1126.0 372.5 L1124.5 373.8 L1123.0 375.1 L1121.5 376.5 L1119.8 377.9 L1117.5 379.3 L1114.4 380.6 L1110.0 382.0 L1104.1 383.4 L1096.9 384.7 L1088.9 386.1 L1080.3 387.4 L1071.8 388.7 L1063.7 390.0 L1055.8 391.3 L1047.8 392.5 L1039.8 393.8 L1031.9 394.9 L1024.2 396.0 L1017.0 397.0 L1010.1 397.9 L1003.3 398.6 L996.8 399.3 L990.7 399.9 L985.1 400.5 L980.0 401.0 L975.2 401.5 L970.6 401.9 L966.4 402.3 L963.1 402.7 L960.8 403.1 L960.0 403.5 L960.6 403.9 L962.2 404.4 L965.0 404.8 L968.9 405.3 L973.9 405.7 L980.0 406.0 L987.5 406.3 L996.3 406.5 L1006.2 406.7 L1017.0 406.8 L1028.4 406.9 L1040.0 407.0 L1052.1 407.1 L1065.1 407.1 L1078.5 407.1 L1092.3 407.1 L1106.2 407.0 L1120.0 407.0 L1134.7 406.9 L1150.7 406.9 L1166.8 406.8 L1181.7 406.6 L1194.4 406.6 L1203.5 406.5 L1205.5 406.5 L1205.5 448.4 L83.5 448.4 Z" fill="#047aa8"/>
<path d="M83.5 300.9 L85.5 300.9 L89.7 301.1 L95.6 301.4 L102.5 301.8 L109.8 302.1 L116.6 302.4 L122.2 302.6 L126.6 302.7 L130.4 302.6 L133.7 302.5 L136.8 302.4 L140.0 302.4 L143.3 302.4 L146.6 302.5 L149.6 302.8 L152.6 303.0 L155.9 303.3 L159.8 303.5 L164.5 303.6 L170.4 303.6 L177.4 303.4 L184.9 303.2 L192.6 303.0 L200.0 302.8 L206.7 302.6 L212.6 302.4 L218.2 302.1 L223.5 301.8 L228.5 301.6 L233.5 301.5 L238.4 301.5 L243.3 301.8 L248.2 302.2 L253.0 302.8 L257.6 303.3 L261.9 303.8 L265.8 304.1 L269.2 304.2 L272.2 304.0 L274.9 303.8 L277.5 303.6 L280.0 303.5 L282.7 303.6 L285.5 304.0 L288.3 304.5 L291.0 305.2 L293.8 305.8 L296.7 306.4 L299.6 306.6 L302.7 306.5 L305.9 306.2 L309.1 305.7 L312.3 305.1 L315.5 304.7 L318.6 304.5 L321.6 304.6 L324.6 305.0 L327.6 305.4 L330.4 305.8 L333.1 306.0 L335.5 305.8 L337.7 305.2 L339.6 304.2 L341.4 303.0 L343.0 301.7 L344.6 300.6 L346.0 299.8 L347.3 299.3 L348.4 298.9 L349.4 298.7 L350.3 298.5 L351.3 298.5 L352.4 298.4 L353.5 298.3 L354.6 298.3 L355.7 298.4 L356.9 298.5 L358.3 298.7 L360.0 299.0 L362.0 299.5 L364.2 300.3 L366.5 301.1 L369.0 301.9 L371.5 302.6 L374.0 303.0 L376.4 303.1 L378.9 303.1 L381.3 302.8 L383.8 302.6 L386.3 302.4 L388.8 302.4 L391.2 302.6 L393.7 302.9 L396.1 303.3 L398.5 303.6 L401.0 303.9 L403.6 304.1 L406.3 304.1 L409.2 303.9 L412.1 303.6 L415.0 303.4 L417.8 303.3 L420.5 303.4 L423.1 303.8 L425.6 304.4 L428.0 305.1 L430.4 305.8 L432.8 306.4 L435.2 306.8 L437.7 306.9 L440.1 306.9 L442.6 306.8 L445.1 306.6 L447.5 306.5 L450.0 306.6 L452.5 306.9 L454.9 307.3 L457.4 307.8 L459.9 308.3 L462.3 308.6 L464.8 308.7 L467.4 308.5 L470.0 308.0 L472.7 307.4 L475.2 306.8 L477.6 306.3 L479.6 306.2 L481.2 306.4 L482.5 306.7 L483.6 307.3 L484.7 307.9 L485.7 308.6 L487.0 309.3 L488.5 310.1 L490.0 311.1 L491.6 312.1 L493.2 313.1 L494.8 313.9 L496.5 314.6 L497.9 315.0 L498.9 315.3 L500.0 315.5 L501.4 315.6 L503.6 315.7 L507.0 315.7 L511.7 315.7 L517.5 315.6 L524.0 315.5 L531.0 315.4 L538.1 315.3 L545.0 315.3 L551.7 315.4 L558.6 315.5 L565.5 315.7 L572.6 315.9 L579.9 316.1 L587.3 316.3 L595.1 316.5 L603.2 316.7 L611.5 316.8 L619.7 317.0 L627.6 317.2 L635.0 317.3 L641.7 317.4 L647.8 317.5 L653.5 317.6 L659.3 317.7 L665.5 317.8 L672.2 317.8 L679.9 317.8 L688.4 317.7 L697.2 317.7 L705.9 317.6 L713.9 317.7 L720.8 317.8 L726.3 318.1 L730.7 318.4 L734.5 318.9 L738.1 319.4 L741.8 319.8 L746.1 320.3 L751.2 320.8 L756.7 321.3 L762.3 321.8 L767.9 322.3 L773.2 322.7 L777.8 323.1 L781.8 323.4 L785.4 323.8 L788.6 324.1 L791.6 324.3 L794.3 324.4 L796.8 324.5 L798.9 324.4 L800.5 324.1 L801.8 323.8 L803.2 323.4 L805.0 323.2 L807.4 323.1 L810.6 323.2 L814.3 323.4 L818.3 323.7 L822.6 324.0 L826.7 324.4 L830.6 324.8 L834.3 325.2 L837.9 325.7 L841.4 326.2 L844.9 326.7 L848.3 327.2 L851.7 327.7 L854.9 328.2 L858.0 328.9 L861.1 329.5 L864.1 330.0 L867.3 330.4 L870.7 330.7 L874.4 330.7 L878.4 330.5 L882.5 330.2 L886.5 329.8 L890.4 329.5 L893.9 329.4 L897.0 329.4 L899.8 329.5 L902.4 329.7 L904.9 329.9 L907.4 330.1 L910.0 330.3 L912.6 330.5 L915.2 330.8 L917.7 331.1 L920.4 331.4 L923.1 331.7 L926.1 332.1 L929.3 332.5 L932.7 332.9 L936.2 333.3 L939.8 333.8 L943.5 334.3 L947.2 335.0 L950.9 335.8 L954.5 336.7 L958.2 337.8 L962.0 338.8 L966.0 339.9 L970.1 341.0 L974.6 342.1 L979.4 343.2 L984.4 344.4 L989.3 345.5 L994.0 346.6 L998.2 347.6 L1002.0 348.5 L1005.6 349.3 L1009.0 350.0 L1012.0 350.8 L1014.7 351.5 L1016.9 352.3 L1018.6 353.1 L1019.8 353.8 L1020.6 354.5 L1021.2 355.3 L1021.6 356.2 L1022.0 357.4 L1022.4 358.9 L1022.7 360.7 L1022.8 362.7 L1022.7 364.6 L1022.5 366.4 L1022.0 367.9 L1021.4 369.0 L1020.6 369.9 L1019.6 370.6 L1018.4 371.2 L1016.7 371.9 L1014.6 372.6 L1012.0 373.4 L1009.1 374.1 L1005.8 374.9 L1002.1 375.6 L998.0 376.4 L993.5 377.3 L988.5 378.3 L982.9 379.4 L976.9 380.5 L970.7 381.6 L964.5 382.7 L958.5 383.6 L952.5 384.4 L946.4 385.2 L940.2 386.0 L934.2 386.6 L928.6 387.2 L923.4 387.8 L918.7 388.3 L914.4 388.8 L910.4 389.1 L906.7 389.5 L903.2 389.8 L900.0 390.0 L897.4 390.1 L895.6 390.1 L894.1 390.1 L892.3 390.1 L889.8 390.1 L886.0 390.3 L880.8 390.7 L874.4 391.2 L867.2 391.7 L859.8 392.4 L852.4 392.9 L845.5 393.4 L839.1 393.8 L832.7 394.1 L826.5 394.4 L820.3 394.6 L814.0 394.9 L807.8 395.3 L801.4 395.7 L794.8 396.2 L788.2 396.7 L781.8 397.2 L775.7 397.7 L770.2 398.2 L765.3 398.7 L760.9 399.2 L756.9 399.8 L753.0 400.3 L749.1 400.8 L745.1 401.3 L741.2 401.8 L737.5 402.2 L733.9 402.7 L730.0 403.1 L725.5 403.5 L720.0 403.8 L713.3 404.1 L705.6 404.4 L697.2 404.6 L688.7 404.8 L680.5 404.9 L672.9 405.1 L666.1 405.2 L659.7 405.4 L653.5 405.5 L647.5 405.5 L641.5 405.5 L635.3 405.5 L629.0 405.4 L622.7 405.2 L616.4 405.0 L610.2 404.8 L603.9 404.6 L597.6 404.4 L591.6 404.2 L585.9 404.1 L580.2 403.9 L574.2 403.8 L567.5 403.7 L560.0 403.7 L551.1 403.7 L541.0 403.8 L530.2 403.9 L519.5 404.1 L509.3 404.2 L500.4 404.4 L492.8 404.6 L486.0 404.8 L479.9 405.0 L474.1 405.2 L468.4 405.5 L462.7 405.7 L456.6 406.0 L450.2 406.3 L444.0 406.6 L438.4 406.9 L433.6 407.2 L430.1 407.4 L434.4 407.7 L440.5 408.2 L447.6 408.8 L455.1 409.4 L462.5 410.0 L469.0 410.7 L474.7 411.4 L480.3 412.2 L485.6 413.0 L490.7 413.8 L495.6 414.5 L500.4 415.1 L504.8 415.5 L508.7 415.7 L512.4 415.9 L516.2 416.0 L520.5 416.2 L525.5 416.4 L531.3 416.7 L537.7 417.0 L544.6 417.3 L551.7 417.7 L558.9 418.0 L566.0 418.2 L573.2 418.4 L580.5 418.5 L587.9 418.7 L595.4 418.8 L602.8 418.8 L610.2 418.9 L617.7 419.0 L625.3 419.0 L633.0 419.1 L640.4 419.1 L647.5 419.0 L654.1 418.9 L660.0 418.7 L665.4 418.3 L670.4 417.9 L675.3 417.5 L680.2 417.2 L685.5 417.0 L691.3 417.0 L697.6 417.1 L703.9 417.3 L710.0 417.5 L715.5 417.7 L720.0 417.9 L723.3 418.1 L725.6 418.4 L727.2 418.6 L728.7 418.9 L730.3 419.1 L732.5 419.1 L735.0 419.0 L737.4 418.8 L740.0 418.5 L743.0 418.1 L746.7 417.8 L751.4 417.6 L757.2 417.5 L763.9 417.4 L771.4 417.3 L779.3 417.2 L787.3 417.1 L795.3 417.0 L803.4 416.8 L811.9 416.6 L820.6 416.4 L829.3 416.1 L837.6 415.9 L845.5 415.7 L852.6 415.5 L859.1 415.4 L865.3 415.3 L871.7 415.2 L878.4 415.1 L886.0 415.1 L894.4 415.2 L903.5 415.4 L913.0 415.6 L922.7 415.8 L932.7 416.0 L942.7 416.1 L953.1 416.1 L964.0 416.1 L975.1 416.0 L986.0 415.9 L996.3 415.8 L1005.5 415.7 L1013.5 415.5 L1020.5 415.3 L1026.9 415.1 L1033.1 414.9 L1039.3 414.7 L1046.0 414.6 L1053.1 414.6 L1060.2 414.6 L1067.5 414.7 L1074.9 414.8 L1082.4 415.0 L1090.2 415.1 L1098.4 415.3 L1107.0 415.5 L1115.7 415.7 L1124.4 415.9 L1132.7 416.2 L1140.4 416.4 L1147.5 416.6 L1154.3 416.9 L1160.7 417.2 L1166.8 417.4 L1172.6 417.7 L1178.0 417.9 L1183.2 418.1 L1188.3 418.3 L1193.1 418.5 L1197.3 418.7 L1200.9 418.8 L1203.5 418.9 L1205.5 419.0 L1205.5 448.4 L83.5 448.4 Z" fill="#0370a1"/>
<path d="M92.0 415.0 L93.7 414.6 L96.2 414.0 L99.0 413.3 L102.1 412.6 L105.0 412.1 L107.6 411.8 L109.9 411.8 L112.1 412.0 L114.1 412.3 L116.1 412.7 L118.1 413.0 L120.0 413.3 L121.8 413.5 L123.4 413.7 L125.0 413.9 L126.6 414.1 L128.3 414.1 L130.2 414.0 L132.3 413.7 L134.5 413.2 L136.7 412.6 L139.1 412.0 L141.5 411.4 L144.0 411.0 L146.5 410.7 L149.0 410.5 L151.6 410.3 L154.3 410.2 L157.1 410.1 L160.0 410.0 L163.1 409.9 L166.3 409.8 L169.6 409.7 L173.1 409.7 L176.7 409.5 L180.4 409.4 L184.3 409.2 L188.5 408.9 L192.8 408.6 L197.2 408.4 L201.4 408.1 L205.5 407.9 L209.4 407.7 L213.3 407.6 L217.1 407.5 L220.8 407.4 L224.4 407.4 L227.8 407.3 L231.1 407.3 L234.3 407.2 L237.5 407.2 L240.4 407.2 L243.3 407.3 L246.0 407.3 L248.7 407.4 L251.3 407.5 L253.9 407.6 L256.2 407.7 L258.1 407.8 L259.5 407.9 L266.0 409.5 L268.0 413.0 L261.5 416.2 L261.1 416.5 L260.6 416.8 L259.9 417.3 L259.1 417.8 L258.2 418.2 L257.0 418.6 L255.7 418.9 L254.2 419.3 L252.6 419.6 L250.7 419.9 L248.5 420.2 L246.0 420.4 L243.0 420.6 L239.5 420.8 L235.6 421.0 L231.7 421.1 L227.9 421.2 L224.3 421.2 L221.1 421.1 L218.1 421.0 L215.1 420.8 L212.1 420.5 L209.0 420.3 L205.5 420.1 L201.7 419.9 L197.6 419.7 L193.3 419.5 L189.0 419.3 L184.7 419.1 L180.4 418.9 L176.2 418.7 L172.0 418.6 L167.9 418.4 L163.7 418.3 L159.5 418.1 L155.3 417.9 L150.9 417.7 L146.4 417.4 L141.8 417.1 L137.5 416.8 L133.5 416.6 L130.2 416.5 L127.7 416.5 L125.8 416.6 L124.3 416.7 L123.0 416.9 L121.7 417.0 L120.0 417.2 L118.1 417.4 L116.1 417.7 L114.1 418.0 L112.1 418.2 L109.9 418.4 L107.6 418.3 L105.0 418.0 L102.1 417.4 L99.0 416.7 L96.2 416.0 L93.7 415.4 L92.0 415.0 Z" fill="#047aa8"/>
<path d="M316.5 411.3 L317.7 410.9 L319.4 410.2 L321.4 409.4 L323.5 408.7 L325.7 408.1 L327.8 407.8 L329.8 407.8 L331.9 408.1 L334.0 408.6 L336.1 409.1 L338.3 409.5 L340.4 409.8 L342.7 410.0 L345.2 410.0 L347.7 410.1 L350.1 410.1 L352.1 410.1 L353.5 410.1 L362.0 410.3 L365.0 412.5 L361.0 415.5 L353.5 414.9 L352.8 415.1 L351.9 415.5 L350.7 415.9 L349.5 416.3 L348.1 416.7 L346.7 417.0 L345.2 417.3 L343.6 417.6 L341.9 417.9 L340.1 418.2 L338.3 418.3 L336.6 418.2 L334.9 417.9 L333.3 417.5 L331.6 417.0 L329.9 416.3 L328.3 415.7 L326.6 415.1 L324.8 414.5 L322.9 413.7 L320.9 413.0 L319.1 412.3 L317.6 411.7 L316.5 411.3 Z" fill="#047aa8"/>
<path d="M384.5 407.6 L392.0 405.0 L401.0 405.5 L401.0 410.0 L392.0 410.2 Z" fill="#047aa8"/>
<path d="M85.5 312.5 L97.8 312.5 L114.6 312.6 L134.6 312.6 L156.4 312.7 L178.7 312.8 L200.0 313.0 L222.0 313.3 L246.3 313.9 L270.9 314.4 L294.2 314.9 L314.5 315.1 L330.0 315.0 L339.7 314.3 L344.7 313.1 L346.8 311.7 L347.3 310.3 L347.8 309.2 L350.0 308.5 L353.1 308.4 L355.7 308.6 L358.3 309.1 L361.6 309.7 L365.9 310.4 L372.0 311.0 L380.3 311.6 L390.6 312.3 L402.1 313.0 L413.8 313.8 L425.1 314.4 L435.0 315.0 L443.8 315.4 L452.3 315.7 L460.2 315.9 L467.5 316.1 L474.2 316.5 L480.0 317.0 L484.3 317.8 L487.0 318.8 L489.1 319.9 L491.3 321.0 L494.6 322.1 L500.0 323.0 L507.7 323.7 L517.0 324.2 L527.5 324.7 L538.5 325.2 L549.5 325.7 L560.0 326.5 L569.9 327.6 L579.6 328.9 L589.4 330.2 L599.3 331.6 L609.4 332.7 L620.0 333.5 L631.4 333.8 L643.4 333.9 L655.8 333.7 L668.0 333.4 L679.5 333.1 L690.0 333.0 L699.2 332.9 L707.4 332.8 L715.0 332.7 L722.2 332.6 L729.5 332.7 L737.0 333.0 L744.8 333.5 L752.6 334.1 L760.4 334.8 L768.1 335.6 L775.9 336.6 L783.7 337.5 L791.6 338.5 L799.7 339.7 L807.8 340.9 L815.7 342.2 L823.3 343.4 L830.4 344.5 L837.1 345.5 L843.6 346.6 L849.7 347.5 L855.4 348.5 L860.7 349.4 L865.5 350.4 L869.9 351.3 L873.9 352.2 L877.5 353.1 L880.5 354.0 L882.8 355.0 L884.2 356.2 L884.7 357.6 L884.4 359.1 L883.3 360.8 L881.7 362.4 L879.6 364.1 L877.2 365.6 L874.5 367.0 L871.5 368.4 L868.0 369.7 L863.9 371.0 L859.2 372.4 L853.8 373.8 L847.4 375.3 L839.9 376.9 L831.9 378.5 L823.5 380.1 L815.1 381.7 L807.0 383.1 L799.2 384.4 L791.4 385.6 L783.6 386.8 L775.9 387.9 L768.1 389.0 L760.3 390.1 L752.5 391.2 L744.7 392.3 L736.9 393.3 L729.1 394.3 L721.3 395.2 L713.5 396.0 L705.7 396.6 L697.9 397.1 L690.1 397.5 L682.4 397.8 L674.6 398.1 L666.8 398.3 L659.2 398.5 L651.7 398.7 L644.2 398.8 L636.6 398.9 L628.6 399.0 L620.0 399.0 L610.8 399.0 L601.0 398.9 L590.8 398.8 L580.5 398.7 L570.2 398.6 L560.0 398.5 L549.9 398.5 L539.6 398.4 L529.4 398.4 L519.3 398.4 L509.4 398.4 L500.0 398.5 L490.9 398.7 L481.9 398.9 L473.1 399.2 L464.8 399.5 L457.1 399.8 L450.0 400.0 L443.7 400.2 L438.1 400.4 L433.1 400.5 L428.5 400.6 L424.2 400.6 L420.0 400.5 L416.0 400.2 L412.4 399.6 L409.1 398.9 L405.9 398.3 L402.9 397.8 L400.0 397.5 L397.2 397.5 L394.6 397.6 L392.1 397.9 L389.7 398.2 L387.3 398.6 L385.0 399.0 L382.7 399.4 L380.6 399.9 L378.4 400.5 L376.3 401.0 L374.2 401.5 L372.0 402.0 L369.7 402.5 L367.4 403.0 L365.0 403.6 L362.6 404.0 L360.3 404.1 L358.0 404.0 L355.8 403.4 L353.5 402.3 L351.3 401.0 L349.1 399.7 L347.0 398.7 L345.0 398.0 L343.1 397.8 L341.5 397.9 L339.9 398.2 L338.2 398.6 L336.3 399.0 L334.0 399.5 L331.5 400.0 L328.9 400.6 L326.0 401.2 L322.8 401.9 L319.2 402.5 L315.0 403.0 L310.6 403.4 L306.2 403.7 L301.3 403.9 L295.6 404.1 L288.6 404.3 L280.0 404.5 L269.7 404.6 L257.9 404.7 L245.0 404.8 L230.9 404.9 L215.9 404.9 L200.0 405.0 L181.6 405.1 L160.1 405.2 L137.8 405.3 L116.5 405.4 L98.4 405.4 L85.5 405.5 L83.5 405.5 L83.5 312.5 Z" fill="#03669b"/>
<path d="M83.5 422.7 L85.5 422.7 L91.2 422.8 L99.1 422.9 L108.4 423.0 L118.4 423.1 L128.6 423.2 L138.0 423.3 L147.0 423.3 L156.1 423.4 L165.3 423.4 L174.4 423.3 L183.3 423.2 L192.0 423.0 L200.7 422.7 L209.5 422.3 L218.2 421.8 L226.4 421.3 L233.8 420.8 L240.0 420.4 L244.8 420.1 L248.4 419.7 L251.2 419.5 L253.6 419.2 L256.0 418.9 L258.8 418.6 L261.9 418.3 L265.1 417.9 L268.2 417.6 L271.3 417.3 L274.5 417.0 L277.6 416.7 L280.7 416.5 L283.9 416.2 L287.1 416.0 L290.2 415.8 L293.4 415.7 L296.5 415.7 L299.6 415.8 L302.8 416.0 L305.9 416.2 L309.0 416.6 L312.2 416.9 L315.3 417.3 L318.5 417.8 L321.9 418.3 L325.3 418.9 L328.5 419.5 L331.5 420.0 L334.1 420.4 L336.3 420.7 L338.0 420.9 L339.6 421.1 L341.0 421.2 L342.5 421.2 L344.1 421.1 L345.9 420.9 L347.7 420.6 L349.6 420.1 L351.5 419.6 L353.4 419.1 L355.4 418.6 L357.4 418.0 L359.4 417.3 L361.4 416.6 L363.5 415.9 L365.7 415.3 L368.0 414.8 L370.4 414.4 L373.0 414.1 L375.6 413.9 L378.3 413.7 L381.2 413.6 L384.3 413.5 L387.6 413.5 L391.0 413.6 L394.6 413.8 L398.3 414.0 L402.1 414.1 L406.0 414.2 L410.1 414.1 L414.4 414.0 L418.9 413.8 L423.3 413.6 L427.5 413.5 L431.4 413.5 L434.8 413.6 L437.9 413.7 L440.8 413.9 L443.7 414.2 L446.8 414.5 L450.2 414.8 L454.1 415.2 L458.3 415.7 L462.8 416.3 L467.2 416.8 L471.4 417.4 L475.3 417.9 L478.7 418.4 L481.6 418.8 L484.3 419.3 L487.1 419.7 L490.3 420.1 L494.1 420.4 L498.5 420.6 L503.3 420.8 L508.4 420.9 L513.9 420.9 L519.6 421.0 L525.5 421.1 L531.4 421.2 L537.4 421.4 L543.7 421.5 L550.4 421.6 L557.8 421.7 L566.0 421.7 L575.9 421.6 L587.4 421.5 L599.6 421.3 L611.5 421.1 L622.1 420.9 L630.3 420.8 L635.8 420.7 L639.4 420.7 L641.6 420.7 L643.2 420.6 L644.7 420.6 L647.0 420.6 L649.6 420.6 L652.0 420.5 L654.5 420.5 L657.1 420.5 L660.3 420.4 L664.1 420.4 L668.9 420.4 L674.6 420.3 L680.7 420.3 L687.0 420.3 L692.8 420.3 L698.0 420.4 L702.5 420.6 L706.7 420.9 L710.5 421.2 L714.0 421.6 L717.2 422.0 L720.0 422.3 L722.3 422.7 L724.0 423.1 L725.4 423.5 L726.7 423.8 L728.2 424.1 L730.0 424.2 L732.0 424.1 L734.0 423.8 L736.2 423.4 L738.6 423.0 L741.5 422.6 L745.0 422.3 L749.0 422.1 L753.4 422.0 L758.2 421.8 L763.5 421.8 L769.6 421.7 L776.5 421.7 L784.5 421.7 L793.6 421.8 L803.4 421.9 L813.5 422.0 L823.5 422.1 L833.0 422.3 L842.0 422.5 L850.8 422.7 L859.5 423.0 L868.2 423.2 L877.0 423.4 L886.0 423.6 L895.2 423.7 L904.4 423.8 L913.7 423.9 L923.2 423.9 L932.9 424.0 L942.7 424.0 L953.1 424.1 L964.0 424.1 L975.1 424.2 L986.0 424.3 L996.3 424.3 L1005.5 424.2 L1013.4 424.1 L1020.3 423.8 L1026.5 423.6 L1032.6 423.3 L1038.9 423.0 L1046.0 422.8 L1053.8 422.6 L1061.9 422.4 L1070.3 422.2 L1078.9 422.1 L1087.6 421.9 L1096.5 421.9 L1105.6 421.9 L1115.1 422.0 L1124.7 422.1 L1134.3 422.3 L1143.8 422.5 L1152.9 422.7 L1162.3 423.0 L1172.1 423.4 L1181.7 423.8 L1190.6 424.2 L1198.1 424.6 L1203.5 424.8 L1205.5 424.8 L1205.5 448.4 L83.5 448.4 Z" fill="#03669b"/>
<path d="M83.5 323.5 L85.5 323.7 L87.7 324.1 L90.7 324.6 L94.2 325.2 L98.3 325.9 L102.7 326.5 L107.4 326.9 L112.6 327.2 L118.5 327.4 L124.7 327.5 L131.1 327.7 L137.4 327.8 L143.3 327.9 L148.8 328.1 L154.2 328.3 L159.4 328.5 L164.6 328.6 L169.8 328.8 L175.0 328.8 L180.2 328.8 L185.3 328.7 L190.5 328.5 L195.7 328.3 L201.1 328.1 L206.7 327.9 L212.8 327.6 L219.4 327.3 L226.1 326.9 L232.7 326.6 L239.0 326.3 L244.7 326.2 L249.6 326.2 L253.8 326.4 L257.7 326.6 L261.6 326.9 L265.6 327.1 L270.0 327.3 L275.1 327.4 L280.6 327.5 L286.2 327.5 L291.8 327.6 L297.1 327.6 L301.7 327.7 L305.7 327.8 L309.1 328.0 L312.3 328.1 L315.1 328.2 L317.9 328.3 L320.7 328.3 L323.4 328.2 L325.9 328.2 L328.4 328.0 L330.7 327.8 L333.1 327.4 L335.5 326.9 L338.0 326.1 L340.6 324.9 L343.2 323.7 L345.7 322.4 L348.1 321.3 L350.3 320.5 L352.0 320.0 L353.3 319.8 L354.4 319.6 L355.7 319.6 L357.5 319.7 L360.0 319.8 L363.4 319.9 L367.5 320.2 L372.0 320.5 L376.8 320.9 L381.8 321.2 L386.7 321.6 L391.9 322.0 L397.4 322.4 L403.1 322.8 L408.7 323.2 L413.8 323.7 L418.3 324.1 L422.0 324.6 L425.1 325.1 L427.8 325.6 L430.3 326.1 L432.7 326.5 L435.2 326.7 L437.8 326.7 L440.3 326.5 L442.7 326.3 L445.1 326.0 L447.6 325.8 L450.0 325.8 L452.4 326.0 L454.9 326.5 L457.3 327.0 L459.7 327.5 L462.2 328.0 L464.8 328.3 L467.4 328.5 L470.1 328.5 L472.9 328.5 L475.7 328.5 L478.6 328.6 L481.7 328.8 L485.0 329.1 L488.4 329.6 L492.0 330.1 L495.6 330.6 L499.2 331.1 L502.8 331.5 L506.3 331.8 L509.8 331.9 L513.4 332.0 L516.9 332.1 L520.4 332.3 L523.9 332.6 L527.4 333.0 L530.9 333.5 L534.4 334.1 L538.0 334.6 L541.5 335.2 L545.0 335.7 L548.5 336.2 L552.0 336.7 L555.5 337.1 L559.1 337.6 L562.6 338.0 L566.1 338.3 L569.6 338.6 L573.2 338.8 L576.7 338.9 L580.2 339.0 L583.8 339.2 L587.3 339.3 L590.9 339.4 L594.5 339.5 L598.1 339.6 L601.7 339.7 L605.1 339.8 L608.4 340.0 L611.5 340.2 L614.4 340.4 L617.1 340.6 L619.8 340.9 L622.5 341.1 L625.3 341.4 L628.1 341.7 L630.9 342.0 L633.7 342.3 L636.4 342.6 L639.2 342.9 L642.0 343.2 L644.6 343.4 L647.0 343.6 L649.4 343.7 L652.0 343.9 L655.0 344.1 L658.6 344.3 L663.1 344.6 L668.3 344.9 L673.9 345.3 L679.6 345.7 L685.1 346.0 L690.1 346.2 L694.5 346.3 L698.5 346.2 L702.3 346.1 L706.0 346.0 L709.7 346.0 L713.5 346.2 L717.4 346.6 L721.3 347.1 L725.2 347.7 L729.1 348.3 L733.0 348.9 L736.9 349.3 L741.0 349.6 L745.2 349.7 L749.4 349.8 L753.5 349.9 L757.2 350.0 L760.3 350.3 L762.9 350.7 L765.1 351.2 L766.9 351.8 L768.4 352.4 L769.4 353.1 L770.1 353.9 L770.3 354.7 L769.9 355.7 L769.1 356.7 L768.1 357.7 L767.0 358.7 L766.1 359.7 L765.3 360.7 L764.3 361.6 L763.4 362.6 L762.4 363.6 L761.4 364.6 L760.3 365.6 L759.3 366.7 L758.4 367.7 L757.5 368.9 L756.4 369.9 L755.0 371.0 L753.3 371.9 L751.2 372.7 L748.8 373.5 L746.1 374.2 L743.2 374.8 L740.1 375.5 L736.9 376.1 L733.4 376.7 L729.6 377.4 L725.6 378.0 L721.6 378.5 L717.5 379.1 L713.5 379.6 L709.6 380.1 L705.8 380.5 L701.9 380.8 L698.1 381.2 L694.1 381.6 L690.1 382.0 L685.9 382.5 L681.4 383.1 L676.9 383.6 L672.5 384.2 L668.3 384.7 L664.4 385.0 L660.9 385.2 L657.6 385.2 L654.6 385.2 L651.6 385.1 L648.8 385.0 L646.0 385.0 L643.3 385.0 L640.9 384.9 L638.5 384.9 L636.0 384.9 L633.4 384.8 L630.5 384.8 L627.4 384.8 L624.4 384.7 L621.1 384.7 L617.5 384.6 L613.3 384.6 L608.4 384.6 L602.5 384.6 L595.7 384.7 L588.4 384.7 L580.8 384.8 L573.3 384.9 L566.1 385.0 L559.2 385.2 L552.3 385.3 L545.5 385.6 L538.8 385.8 L532.1 386.0 L525.5 386.3 L519.0 386.6 L512.7 386.9 L506.5 387.2 L500.3 387.5 L494.0 387.8 L487.8 388.1 L481.5 388.4 L475.0 388.8 L468.6 389.1 L462.3 389.5 L456.1 389.8 L450.2 390.0 L444.5 390.2 L438.8 390.4 L433.3 390.5 L428.1 390.5 L423.2 390.5 L418.8 390.3 L414.9 389.9 L411.5 389.3 L408.4 388.5 L405.6 387.8 L402.8 387.2 L400.0 386.9 L397.2 386.8 L394.4 386.9 L391.8 387.0 L389.2 387.3 L386.7 387.7 L384.3 388.1 L382.0 388.6 L379.9 389.2 L377.9 389.9 L375.9 390.6 L373.8 391.3 L371.7 391.9 L369.4 392.5 L367.0 393.0 L364.5 393.6 L362.1 394.0 L359.8 394.3 L357.9 394.4 L356.3 394.2 L354.9 393.8 L353.7 393.2 L352.6 392.6 L351.5 391.9 L350.4 391.3 L349.3 390.7 L348.3 390.0 L347.4 389.3 L346.4 388.6 L345.4 388.1 L344.1 387.8 L342.7 387.7 L341.4 387.9 L339.9 388.1 L338.2 388.5 L336.3 388.9 L334.1 389.4 L331.4 389.9 L328.4 390.6 L325.1 391.3 L321.7 392.0 L318.4 392.6 L315.3 393.2 L312.5 393.7 L309.9 394.1 L307.3 394.5 L304.7 394.8 L302.0 395.1 L299.0 395.3 L295.9 395.4 L292.8 395.5 L289.6 395.5 L286.1 395.4 L282.2 395.4 L277.6 395.3 L272.2 395.2 L266.1 395.0 L259.5 394.8 L252.8 394.7 L246.2 394.6 L240.0 394.6 L234.3 394.7 L228.9 395.0 L223.6 395.3 L218.3 395.7 L212.7 396.0 L206.7 396.3 L200.2 396.6 L193.3 396.8 L186.2 397.1 L178.9 397.3 L171.6 397.6 L164.5 397.8 L157.4 398.1 L150.2 398.3 L143.0 398.6 L135.9 398.9 L128.9 399.1 L122.2 399.3 L115.3 399.5 L108.2 399.6 L101.2 399.7 L94.8 399.8 L89.4 399.8 L85.5 399.9 L83.5 400.0 Z" fill="#035b94"/>
<path d="M83.5 424.9 L85.5 424.9 L91.2 425.0 L99.1 425.1 L108.4 425.2 L118.4 425.3 L128.6 425.4 L138.0 425.5 L147.0 425.5 L156.1 425.6 L165.3 425.6 L174.4 425.5 L183.3 425.4 L192.0 425.2 L200.7 424.9 L209.5 424.5 L218.2 424.0 L226.4 423.5 L233.8 423.0 L240.0 422.6 L244.8 422.3 L248.4 421.9 L251.2 421.7 L253.6 421.4 L256.0 421.1 L258.8 420.8 L261.9 420.5 L265.1 420.1 L268.2 419.8 L271.3 419.5 L274.5 419.2 L277.6 418.9 L280.7 418.7 L283.9 418.4 L287.1 418.2 L290.2 418.0 L293.4 417.9 L296.5 417.9 L299.6 418.0 L302.8 418.2 L305.9 418.4 L309.0 418.8 L312.2 419.1 L315.3 419.5 L318.5 420.0 L321.9 420.5 L325.3 421.1 L328.5 421.7 L331.5 422.2 L334.1 422.6 L336.3 422.9 L338.0 423.1 L339.6 423.3 L341.0 423.4 L342.5 423.4 L344.1 423.3 L345.9 423.1 L347.7 422.8 L349.6 422.3 L351.5 421.8 L353.4 421.3 L355.4 420.8 L357.4 420.2 L359.4 419.5 L361.4 418.8 L363.5 418.1 L365.7 417.5 L368.0 417.0 L370.4 416.6 L373.0 416.3 L375.6 416.1 L378.3 415.9 L381.2 415.8 L384.3 415.7 L387.6 415.7 L391.0 415.8 L394.6 416.0 L398.3 416.2 L402.1 416.3 L406.0 416.4 L410.1 416.3 L414.4 416.2 L418.9 416.0 L423.3 415.8 L427.5 415.7 L431.4 415.7 L434.8 415.8 L437.9 415.9 L440.8 416.1 L443.7 416.4 L446.8 416.7 L450.2 417.0 L454.1 417.4 L458.3 417.9 L462.8 418.5 L467.2 419.0 L471.4 419.6 L475.3 420.1 L478.7 420.6 L481.6 421.0 L484.3 421.5 L487.1 421.9 L490.3 422.3 L494.1 422.6 L498.5 422.8 L503.3 423.0 L508.4 423.1 L513.9 423.1 L519.6 423.2 L525.5 423.3 L531.4 423.4 L537.4 423.6 L543.7 423.7 L550.4 423.8 L557.8 423.9 L566.0 423.9 L575.9 423.8 L587.4 423.7 L599.6 423.5 L611.5 423.3 L622.1 423.1 L630.3 423.0 L635.8 422.9 L639.4 422.9 L641.6 422.9 L643.2 422.8 L644.7 422.8 L647.0 422.8 L649.6 422.8 L652.0 422.7 L654.5 422.7 L657.1 422.7 L660.3 422.6 L664.1 422.6 L668.9 422.6 L674.6 422.5 L680.7 422.5 L687.0 422.5 L692.8 422.5 L698.0 422.6 L702.5 422.8 L706.7 423.1 L710.5 423.4 L714.0 423.8 L717.2 424.2 L720.0 424.5 L722.3 424.9 L724.0 425.3 L725.4 425.7 L726.7 426.0 L728.2 426.3 L730.0 426.4 L732.0 426.3 L734.0 426.0 L736.2 425.6 L738.6 425.2 L741.5 424.8 L745.0 424.5 L749.0 424.3 L753.4 424.2 L758.2 424.0 L763.5 424.0 L769.6 423.9 L776.5 423.9 L784.5 423.9 L793.6 424.0 L803.4 424.1 L813.5 424.2 L823.5 424.3 L833.0 424.5 L842.0 424.7 L850.8 424.9 L859.5 425.2 L868.2 425.4 L877.0 425.6 L886.0 425.8 L895.2 425.9 L904.4 426.0 L913.7 426.1 L923.2 426.1 L932.9 426.2 L942.7 426.2 L953.1 426.3 L964.0 426.3 L975.1 426.4 L986.0 426.5 L996.3 426.5 L1005.5 426.4 L1013.4 426.3 L1020.3 426.0 L1026.5 425.8 L1032.6 425.5 L1038.9 425.2 L1046.0 425.0 L1053.8 424.8 L1061.9 424.6 L1070.3 424.4 L1078.9 424.3 L1087.6 424.1 L1096.5 424.1 L1105.6 424.1 L1115.1 424.2 L1124.7 424.3 L1134.3 424.5 L1143.8 424.7 L1152.9 424.9 L1162.3 425.2 L1172.1 425.6 L1181.7 426.0 L1190.6 426.4 L1198.1 426.8 L1203.5 427.0 L1205.5 427.0 L1205.5 448.4 L83.5 448.4 Z" fill="#035b94"/>
<path d="M370.0 355.0 L370.8 353.5 L372.4 352.1 L374.9 350.6 L377.9 349.2 L381.3 348.0 L385.0 347.0 L389.1 346.2 L393.9 345.5 L399.1 345.0 L404.4 344.7 L409.8 344.5 L415.0 344.5 L420.3 344.7 L425.8 345.1 L431.4 345.6 L436.6 346.3 L441.3 347.1 L445.0 348.0 L447.8 349.1 L450.1 350.3 L451.7 351.7 L452.7 353.2 L453.1 354.6 L453.0 356.0 L452.2 357.4 L450.9 358.9 L448.9 360.3 L446.4 361.7 L443.4 363.0 L440.0 364.0 L436.0 364.9 L431.2 365.6 L425.9 366.2 L420.5 366.6 L415.1 366.9 L410.0 367.0 L405.0 366.9 L399.9 366.7 L394.9 366.2 L390.1 365.7 L385.7 364.9 L382.0 364.0 L378.8 362.8 L375.8 361.4 L373.3 359.8 L371.4 358.1 L370.3 356.5 Z" fill="#02518e"/>
<path d="M344.0 363.0 L344.7 362.1 L345.9 361.0 L347.2 359.9 L348.8 358.9 L350.4 358.1 L352.0 357.5 L353.6 357.2 L355.4 357.0 L357.3 357.0 L359.1 357.2 L360.7 357.5 L362.0 358.0 L363.0 358.7 L364.0 359.6 L364.7 360.8 L365.1 361.9 L365.3 363.0 L365.0 364.0 L364.2 364.9 L362.9 365.8 L361.3 366.7 L359.5 367.5 L357.7 368.1 L356.0 368.5 L354.3 368.7 L352.4 368.7 L350.6 368.6 L348.8 368.3 L347.2 367.9 L346.0 367.5 L345.1 367.0 L344.4 366.3 L343.9 365.5 L343.6 364.7 L343.7 363.8 Z" fill="#02518e"/>
<path d="M83.5 427.5 L85.5 427.5 L91.2 427.6 L99.1 427.7 L108.4 427.8 L118.4 427.9 L128.6 428.0 L138.0 428.1 L147.0 428.1 L156.1 428.2 L165.3 428.2 L174.4 428.1 L183.3 428.0 L192.0 427.8 L200.7 427.5 L209.5 427.1 L218.2 426.6 L226.4 426.1 L233.8 425.6 L240.0 425.2 L244.8 424.9 L248.4 424.5 L251.2 424.3 L253.6 424.0 L256.0 423.7 L258.8 423.4 L261.9 423.1 L265.1 422.7 L268.2 422.4 L271.3 422.1 L274.5 421.8 L277.6 421.5 L280.7 421.3 L283.9 421.0 L287.1 420.8 L290.2 420.6 L293.4 420.5 L296.5 420.5 L299.6 420.6 L302.8 420.8 L305.9 421.0 L309.0 421.4 L312.2 421.7 L315.3 422.1 L318.5 422.6 L321.9 423.1 L325.3 423.7 L328.5 424.3 L331.5 424.8 L334.1 425.2 L336.3 425.5 L338.0 425.7 L339.6 425.9 L341.0 426.0 L342.5 426.0 L344.1 425.9 L345.9 425.7 L347.7 425.4 L349.6 424.9 L351.5 424.4 L353.4 423.9 L355.4 423.4 L357.4 422.8 L359.4 422.1 L361.4 421.4 L363.5 420.7 L365.7 420.1 L368.0 419.6 L370.4 419.2 L373.0 418.9 L375.6 418.7 L378.3 418.5 L381.2 418.4 L384.3 418.3 L387.6 418.3 L391.0 418.4 L394.6 418.6 L398.3 418.8 L402.1 418.9 L406.0 419.0 L410.1 418.9 L414.4 418.8 L418.9 418.6 L423.3 418.4 L427.5 418.3 L431.4 418.3 L434.8 418.4 L437.9 418.5 L440.8 418.7 L443.7 419.0 L446.8 419.3 L450.2 419.6 L454.1 420.0 L458.3 420.5 L462.8 421.1 L467.2 421.6 L471.4 422.2 L475.3 422.7 L478.7 423.2 L481.6 423.6 L484.3 424.1 L487.1 424.5 L490.3 424.9 L494.1 425.2 L498.5 425.4 L503.3 425.6 L508.4 425.7 L513.9 425.7 L519.6 425.8 L525.5 425.9 L531.4 426.0 L537.4 426.2 L543.7 426.3 L550.4 426.4 L557.8 426.5 L566.0 426.5 L575.9 426.4 L587.4 426.3 L599.6 426.1 L611.5 425.9 L622.1 425.7 L630.3 425.6 L635.8 425.5 L639.4 425.5 L641.6 425.5 L643.2 425.4 L644.7 425.4 L647.0 425.4 L649.6 425.4 L652.0 425.3 L654.5 425.3 L657.1 425.3 L660.3 425.2 L664.1 425.2 L668.9 425.2 L674.6 425.1 L680.7 425.1 L687.0 425.1 L692.8 425.1 L698.0 425.2 L702.5 425.4 L706.7 425.7 L710.5 426.0 L714.0 426.4 L717.2 426.8 L720.0 427.1 L722.3 427.5 L724.0 427.9 L725.4 428.3 L726.7 428.6 L728.2 428.9 L730.0 429.0 L732.0 428.9 L734.0 428.6 L736.2 428.2 L738.6 427.8 L741.5 427.4 L745.0 427.1 L749.0 426.9 L753.4 426.8 L758.2 426.6 L763.5 426.6 L769.6 426.5 L776.5 426.5 L784.5 426.5 L793.6 426.6 L803.4 426.7 L813.5 426.8 L823.5 426.9 L833.0 427.1 L842.0 427.3 L850.8 427.5 L859.5 427.8 L868.2 428.0 L877.0 428.2 L886.0 428.4 L895.2 428.5 L904.4 428.6 L913.7 428.7 L923.2 428.7 L932.9 428.8 L942.7 428.8 L953.1 428.9 L964.0 428.9 L975.1 429.0 L986.0 429.1 L996.3 429.1 L1005.5 429.0 L1013.4 428.9 L1020.3 428.6 L1026.5 428.4 L1032.6 428.1 L1038.9 427.8 L1046.0 427.6 L1053.8 427.4 L1061.9 427.2 L1070.3 427.0 L1078.9 426.9 L1087.6 426.7 L1096.5 426.7 L1105.6 426.7 L1115.1 426.8 L1124.7 426.9 L1134.3 427.1 L1143.8 427.3 L1152.9 427.5 L1162.3 427.8 L1172.1 428.2 L1181.7 428.6 L1190.6 429.0 L1198.1 429.4 L1203.5 429.6 L1205.5 429.6 L1205.5 448.4 L83.5 448.4 Z" fill="#02518e"/>
<path d="M83.5 429.8 L85.5 429.8 L93.5 429.8 L104.6 429.8 L117.8 429.7 L132.0 429.7 L146.4 429.6 L160.0 429.5 L173.7 429.4 L188.5 429.2 L203.5 429.0 L217.7 428.7 L230.1 428.5 L240.0 428.3 L246.7 428.1 L250.8 428.0 L253.2 427.8 L254.8 427.6 L256.4 427.4 L258.8 427.0 L261.9 426.5 L265.1 425.8 L268.2 425.1 L271.3 424.4 L274.5 423.8 L277.6 423.3 L280.8 423.0 L284.1 422.7 L287.4 422.6 L290.7 422.5 L293.7 422.5 L296.5 422.6 L299.0 422.8 L301.1 423.2 L303.1 423.6 L305.1 424.1 L307.0 424.7 L309.0 425.2 L311.0 425.8 L312.8 426.4 L314.7 427.1 L316.7 427.8 L318.9 428.4 L321.6 428.9 L324.9 429.4 L328.9 429.8 L333.1 430.2 L337.2 430.6 L341.0 430.8 L344.1 430.8 L346.3 430.7 L347.9 430.4 L349.1 429.9 L350.2 429.4 L351.4 428.9 L352.9 428.3 L354.8 427.6 L356.8 426.9 L359.0 426.1 L361.2 425.3 L363.4 424.5 L365.5 423.9 L367.6 423.4 L369.7 423.0 L371.7 422.6 L373.8 422.4 L375.9 422.1 L378.0 422.0 L380.1 421.9 L382.1 421.9 L384.1 422.0 L386.2 422.2 L388.3 422.4 L390.6 422.6 L393.0 423.0 L395.6 423.5 L398.3 424.1 L401.0 424.6 L403.6 425.0 L406.0 425.2 L408.2 425.0 L410.2 424.6 L412.2 424.1 L414.2 423.5 L416.3 422.9 L418.8 422.6 L421.6 422.4 L424.6 422.4 L427.8 422.4 L431.1 422.4 L434.4 422.5 L437.6 422.6 L440.7 422.7 L443.9 422.9 L447.1 423.1 L450.2 423.4 L453.4 423.6 L456.5 423.9 L459.6 424.2 L462.5 424.5 L465.5 424.8 L468.6 425.1 L471.8 425.5 L475.3 425.8 L479.1 426.1 L483.2 426.5 L487.5 426.8 L491.8 427.2 L496.1 427.5 L500.4 427.7 L504.4 427.9 L508.2 428.0 L512.0 428.1 L516.0 428.1 L520.4 428.2 L525.5 428.3 L531.1 428.5 L537.0 428.6 L543.3 428.8 L550.2 429.0 L557.7 429.2 L566.0 429.2 L575.9 429.1 L587.4 429.0 L599.6 428.8 L611.5 428.5 L622.1 428.4 L630.3 428.3 L635.8 428.3 L639.4 428.4 L641.6 428.6 L643.2 428.7 L644.7 428.9 L647.0 429.0 L649.4 429.1 L651.2 429.2 L653.1 429.3 L655.5 429.4 L659.0 429.5 L664.1 429.5 L671.2 429.5 L680.1 429.4 L690.0 429.2 L700.4 429.1 L710.6 429.0 L720.0 428.9 L727.9 428.9 L734.7 428.8 L741.2 428.8 L748.7 428.9 L757.9 428.9 L770.0 428.9 L786.1 428.9 L805.5 428.9 L826.8 429.0 L848.3 429.0 L868.6 429.1 L886.0 429.2 L900.0 429.4 L911.8 429.6 L922.2 429.9 L932.3 430.1 L943.1 430.3 L955.3 430.4 L969.4 430.3 L984.8 430.1 L1000.7 429.9 L1016.6 429.6 L1031.9 429.4 L1046.0 429.2 L1059.0 429.1 L1071.3 429.0 L1083.0 428.9 L1094.2 428.9 L1104.8 428.9 L1115.0 428.9 L1124.6 428.9 L1133.7 429.0 L1142.2 429.1 L1150.3 429.2 L1158.0 429.3 L1165.5 429.5 L1173.0 429.7 L1180.5 429.9 L1187.7 430.2 L1194.1 430.4 L1199.5 430.7 L1203.5 430.8 L1205.5 430.8 L1205.5 448.4 L83.5 448.4 Z" fill="#024787"/>
<path d="M83.5 431.5 L85.5 431.5 L93.5 431.5 L104.6 431.5 L117.8 431.4 L132.0 431.4 L146.4 431.3 L160.0 431.2 L173.7 431.1 L188.5 430.9 L203.5 430.7 L217.7 430.4 L230.1 430.2 L240.0 430.0 L246.7 429.8 L250.8 429.7 L253.2 429.5 L254.8 429.3 L256.4 429.1 L258.8 428.7 L261.9 428.2 L265.1 427.5 L268.2 426.8 L271.3 426.1 L274.5 425.5 L277.6 425.0 L280.8 424.7 L284.1 424.4 L287.4 424.3 L290.7 424.2 L293.7 424.2 L296.5 424.3 L299.0 424.5 L301.1 424.9 L303.1 425.3 L305.1 425.8 L307.0 426.4 L309.0 426.9 L311.0 427.5 L312.8 428.1 L314.7 428.8 L316.7 429.5 L318.9 430.1 L321.6 430.6 L324.9 431.1 L328.9 431.5 L333.1 431.9 L337.2 432.3 L341.0 432.5 L344.1 432.5 L346.3 432.4 L347.9 432.1 L349.1 431.6 L350.2 431.1 L351.4 430.6 L352.9 430.0 L354.8 429.3 L356.8 428.6 L359.0 427.8 L361.2 427.0 L363.4 426.2 L365.5 425.6 L367.6 425.1 L369.7 424.7 L371.7 424.3 L373.8 424.1 L375.9 423.8 L378.0 423.7 L380.1 423.6 L382.1 423.6 L384.1 423.7 L386.2 423.9 L388.3 424.1 L390.6 424.3 L393.0 424.7 L395.6 425.2 L398.3 425.8 L401.0 426.3 L403.6 426.7 L406.0 426.9 L408.2 426.7 L410.2 426.3 L412.2 425.8 L414.2 425.2 L416.3 424.6 L418.8 424.3 L421.6 424.1 L424.6 424.1 L427.8 424.1 L431.1 424.1 L434.4 424.2 L437.6 424.3 L440.7 424.4 L443.9 424.6 L447.1 424.8 L450.2 425.1 L453.4 425.3 L456.5 425.6 L459.6 425.9 L462.5 426.2 L465.5 426.5 L468.6 426.8 L471.8 427.2 L475.3 427.5 L479.1 427.8 L483.2 428.2 L487.5 428.5 L491.8 428.9 L496.1 429.2 L500.4 429.4 L504.4 429.6 L508.2 429.7 L512.0 429.8 L516.0 429.8 L520.4 429.9 L525.5 430.0 L531.1 430.2 L537.0 430.3 L543.3 430.5 L550.2 430.7 L557.7 430.9 L566.0 430.9 L575.9 430.8 L587.4 430.7 L599.6 430.5 L611.5 430.2 L622.1 430.1 L630.3 430.0 L635.8 430.0 L639.4 430.1 L641.6 430.3 L643.2 430.4 L644.7 430.6 L647.0 430.7 L649.4 430.8 L651.2 430.9 L653.1 431.0 L655.5 431.1 L659.0 431.2 L664.1 431.2 L671.2 431.2 L680.1 431.1 L690.0 430.9 L700.4 430.8 L710.6 430.7 L720.0 430.6 L727.9 430.6 L734.7 430.5 L741.2 430.5 L748.7 430.6 L757.9 430.6 L770.0 430.6 L786.1 430.6 L805.5 430.6 L826.8 430.7 L848.3 430.7 L868.6 430.8 L886.0 430.9 L900.0 431.1 L911.8 431.3 L922.2 431.6 L932.3 431.8 L943.1 432.0 L955.3 432.1 L969.4 432.0 L984.8 431.8 L1000.7 431.6 L1016.6 431.3 L1031.9 431.1 L1046.0 430.9 L1059.0 430.8 L1071.3 430.7 L1083.0 430.6 L1094.2 430.6 L1104.8 430.6 L1115.0 430.6 L1124.6 430.6 L1133.7 430.7 L1142.2 430.8 L1150.3 430.9 L1158.0 431.0 L1165.5 431.2 L1173.0 431.4 L1180.5 431.6 L1187.7 431.9 L1194.1 432.1 L1199.5 432.4 L1203.5 432.5 L1205.5 432.5 L1205.5 448.4 L83.5 448.4 Z" fill="#023d81"/>
<path d="M83.5 432.7 L85.5 432.7 L93.5 432.7 L104.6 432.6 L117.8 432.6 L132.0 432.5 L146.4 432.5 L160.0 432.5 L173.6 432.5 L188.1 432.6 L202.8 432.7 L216.8 432.7 L229.5 432.7 L240.0 432.7 L248.1 432.5 L254.3 432.3 L259.1 432.0 L263.0 431.7 L266.5 431.5 L270.0 431.4 L273.3 431.5 L276.1 431.6 L278.4 431.8 L280.4 432.1 L282.2 432.5 L284.0 433.0 L285.7 433.6 L287.3 434.3 L288.7 435.0 L290.0 435.9 L291.1 436.9 L292.0 438.0 L292.8 439.4 L293.3 441.0 L293.8 442.8 L294.1 444.5 L294.3 446.0 L294.5 447.0 L83.5 448.4 Z" fill="#02337a"/>
<path d="M83.5 434.3 L85.5 434.3 L93.5 434.3 L104.6 434.2 L117.8 434.2 L132.0 434.1 L146.4 434.1 L160.0 434.1 L173.6 434.1 L188.2 434.2 L202.9 434.3 L217.0 434.3 L229.6 434.3 L240.0 434.3 L247.9 434.2 L253.8 433.9 L258.2 433.6 L261.8 433.4 L264.9 433.2 L268.0 433.2 L271.0 433.3 L273.3 433.5 L275.2 433.7 L276.9 434.1 L278.4 434.5 L280.0 435.0 L281.6 435.6 L283.2 436.4 L284.6 437.2 L285.9 438.1 L287.0 439.0 L288.0 440.0 L288.8 441.1 L289.3 442.4 L289.8 443.8 L290.1 445.1 L290.3 446.2 L290.5 447.0 L83.5 448.4 Z" fill="#012974"/>
<path d="M370.3 447.0 L370.5 437.7 L370.5 437.2 L370.4 436.5 L370.3 435.8 L370.2 434.9 L370.2 434.2 L370.3 433.5 L370.4 433.0 L370.6 432.5 L370.8 432.1 L371.0 431.7 L371.4 431.3 L372.0 431.0 L372.7 430.7 L373.4 430.4 L374.3 430.1 L375.4 429.8 L376.6 429.6 L378.0 429.4 L379.7 429.3 L381.6 429.2 L383.7 429.1 L385.9 429.0 L388.3 429.0 L390.6 428.9 L393.1 428.8 L395.9 428.7 L398.7 428.5 L401.4 428.4 L403.9 428.3 L406.0 428.3 L407.2 428.3 L407.7 428.4 L407.9 428.5 L408.4 428.7 L409.7 428.8 L412.5 428.9 L417.0 429.0 L422.8 429.0 L429.4 429.0 L436.5 429.0 L443.6 429.1 L450.2 429.2 L456.5 429.3 L462.7 429.5 L469.0 429.7 L475.3 430.0 L481.5 430.2 L487.8 430.4 L494.0 430.6 L500.3 430.8 L506.5 431.1 L512.7 431.3 L519.1 431.5 L525.5 431.7 L531.8 431.9 L538.0 432.0 L544.2 432.2 L550.8 432.3 L558.0 432.4 L566.0 432.4 L575.5 432.4 L586.6 432.3 L598.2 432.2 L609.5 432.1 L619.7 432.0 L627.8 432.0 L633.6 432.1 L637.6 432.3 L640.5 432.5 L642.8 432.7 L645.1 433.0 L648.0 433.2 L651.2 433.5 L654.3 433.9 L657.3 434.2 L660.5 434.6 L664.0 434.8 L667.9 434.9 L672.4 434.8 L677.3 434.6 L682.4 434.3 L687.7 433.9 L693.0 433.6 L698.0 433.3 L702.6 433.1 L706.9 433.0 L711.1 432.8 L715.6 432.7 L720.4 432.6 L726.0 432.5 L731.6 432.4 L736.8 432.2 L742.5 432.1 L749.4 432.0 L758.3 432.0 L770.0 432.0 L785.6 432.1 L804.6 432.3 L825.6 432.5 L847.2 432.8 L867.8 433.0 L886.0 433.3 L901.7 433.6 L915.9 433.9 L929.3 434.2 L942.1 434.6 L954.8 434.8 L967.8 434.9 L981.0 434.9 L994.0 434.7 L1006.9 434.5 L1019.8 434.2 L1032.8 434.0 L1046.0 433.8 L1059.5 433.6 L1073.2 433.5 L1087.1 433.3 L1100.9 433.2 L1114.5 433.1 L1127.8 433.1 L1141.6 433.2 L1156.3 433.5 L1170.8 433.8 L1184.1 434.1 L1195.3 434.4 L1203.5 434.6 L1205.5 448.4 Z" fill="#02337a"/>
<path d="M372.5 447.0 L372.5 436.0 L372.0 432.6 L372.6 432.4 L373.3 432.1 L374.2 431.8 L375.3 431.5 L376.5 431.2 L378.0 431.0 L379.7 430.9 L381.6 430.8 L383.7 430.7 L385.9 430.6 L388.3 430.6 L390.6 430.5 L393.1 430.4 L395.9 430.3 L398.7 430.1 L401.4 430.0 L403.9 429.9 L406.0 429.9 L407.2 429.9 L407.7 430.0 L407.9 430.1 L408.4 430.3 L409.7 430.4 L412.5 430.5 L417.0 430.6 L422.8 430.6 L429.4 430.6 L436.5 430.6 L443.6 430.7 L450.2 430.8 L456.5 430.9 L462.7 431.1 L469.0 431.3 L475.3 431.6 L481.5 431.8 L487.8 432.0 L494.0 432.2 L500.3 432.4 L506.5 432.7 L512.7 432.9 L519.1 433.1 L525.5 433.3 L531.8 433.5 L538.0 433.6 L544.2 433.8 L550.8 433.9 L558.0 434.0 L566.0 434.0 L575.5 434.0 L586.6 433.9 L598.2 433.8 L609.5 433.7 L619.7 433.6 L627.8 433.6 L633.6 433.7 L637.6 433.9 L640.5 434.1 L642.8 434.3 L645.1 434.6 L648.0 434.8 L651.2 435.1 L654.3 435.5 L657.3 435.8 L660.5 436.2 L664.0 436.4 L667.9 436.5 L672.4 436.4 L677.3 436.2 L682.4 435.9 L687.7 435.5 L693.0 435.2 L698.0 434.9 L702.6 434.7 L706.9 434.6 L711.1 434.4 L715.6 434.3 L720.4 434.2 L726.0 434.1 L731.6 434.0 L736.8 433.8 L742.5 433.7 L749.4 433.6 L758.3 433.6 L770.0 433.6 L785.6 433.7 L804.6 433.9 L825.6 434.1 L847.2 434.4 L867.8 434.6 L886.0 434.9 L901.7 435.2 L915.9 435.5 L929.3 435.8 L942.1 436.2 L954.8 436.4 L967.8 436.5 L981.0 436.5 L994.0 436.3 L1006.9 436.1 L1019.8 435.8 L1032.8 435.6 L1046.0 435.4 L1059.5 435.2 L1073.2 435.1 L1087.1 434.9 L1100.9 434.8 L1114.5 434.7 L1127.8 434.7 L1141.6 434.8 L1156.3 435.1 L1170.8 435.4 L1184.1 435.7 L1195.3 436.0 L1203.5 436.2 L1205.5 448.4 Z" fill="#012974"/>
<path d="M296.0 447.0 L296.0 445.7 L295.8 443.9 L295.7 441.8 L295.7 439.6 L296.1 437.6 L297.0 436.0 L298.4 434.8 L300.2 433.8 L302.3 433.0 L304.7 432.4 L307.3 431.9 L310.0 431.5 L312.9 431.3 L316.1 431.4 L319.4 431.7 L322.9 432.0 L326.5 432.3 L330.0 432.5 L333.6 432.7 L337.4 432.9 L341.2 433.2 L345.0 433.4 L348.7 433.5 L352.0 433.5 L355.2 433.2 L358.3 432.6 L361.3 431.9 L364.0 431.4 L366.3 431.3 L368.0 432.0 L369.0 433.7 L369.5 436.3 L369.5 439.4 L369.3 442.5 L369.1 445.2 L369.0 447.0 Z" fill="#023d81"/>
<path d="M333.0 447.0 L333.7 446.8 L334.8 446.6 L336.0 446.3 L337.3 446.0 L338.7 445.6 L340.0 445.3 L341.3 445.0 L342.6 444.7 L343.9 444.3 L345.3 444.0 L346.7 443.7 L348.0 443.3 L349.3 442.9 L350.7 442.5 L352.1 442.1 L353.4 441.7 L354.7 441.4 L356.0 441.0 L357.2 440.7 L358.4 440.3 L359.6 440.0 L360.8 439.7 L361.9 439.4 L363.0 439.2 L364.0 439.0 L365.0 438.7 L366.0 438.5 L367.0 438.4 L368.0 438.3 L369.0 438.2 L370.1 438.2 L371.3 438.3 L372.4 438.4 L373.6 438.6 L374.8 438.8 L376.0 439.0 L377.2 439.3 L378.3 439.6 L379.5 440.0 L380.7 440.4 L381.8 440.9 L383.0 441.3 L384.2 441.8 L385.3 442.3 L386.5 442.8 L387.7 443.3 L388.8 443.8 L390.0 444.3 L391.2 444.7 L392.6 445.1 L393.9 445.5 L395.1 445.8 L396.2 446.1 L397.0 446.4 L397.5 446.6 L397.8 446.7 L397.9 446.8 L398.0 446.9 L398.0 447.0 L398.0 447.0 Z" fill="#000"/>
</g>
<g stroke="#b0b0b0" stroke-width="1.07"><line x1="85.5" y1="407.50" x2="1203.5" y2="407.50"/><line x1="85.5" y1="369.50" x2="1203.5" y2="369.50"/><line x1="85.5" y1="330.50" x2="1203.5" y2="330.50"/><line x1="85.5" y1="292.50" x2="1203.5" y2="292.50"/><line x1="85.5" y1="253.50" x2="1203.5" y2="253.50"/><line x1="85.5" y1="215.50" x2="1203.5" y2="215.50"/><line x1="85.5" y1="176.50" x2="1203.5" y2="176.50"/><line x1="85.5" y1="138.30" x2="1203.5" y2="138.30"/><line x1="85.5" y1="99.50" x2="1203.5" y2="99.50"/></g>
<g fill="none" stroke="#000" stroke-width="2" stroke-linejoin="round" stroke-linecap="butt">
<path d="M85.5 87.1 L86.2 87.0 L87.1 86.8 L88.2 86.6 L89.5 86.4 L90.8 86.1 L92.0 85.9 L93.3 85.7 L94.6 85.4 L96.0 85.2 L97.4 84.9 L98.8 84.7 L100.0 84.5 L101.2 84.2 L102.3 84.0 L103.3 83.9 L104.3 83.7 L105.2 83.5 L106.0 83.4 L106.4 83.3 L106.5 83.2 L106.4 83.2 L106.6 83.2 L107.3 83.1 L109.0 83.0 L111.5 82.8 L114.5 82.6 L118.1 82.4 L122.4 82.2 L127.2 82.0 L132.8 81.8 L139.3 81.7 L146.8 81.7 L154.9 81.6 L163.4 81.6 L171.8 81.6 L180.0 81.6 L188.2 81.6 L196.9 81.5 L205.5 81.4 L213.8 81.4 L221.4 81.4 L227.8 81.5 L232.7 81.7 L236.2 82.0 L239.0 82.4 L241.6 82.7 L244.7 82.9 L248.9 82.9 L254.3 82.5 L260.5 81.9 L267.2 81.1 L274.1 80.4 L280.7 79.7 L286.9 79.3 L292.5 79.2 L297.8 79.3 L302.9 79.5 L307.9 79.7 L313.1 80.0 L318.6 80.1 L324.3 80.1 L330.2 80.1 L336.1 80.1 L342.3 80.1 L348.5 80.2 L355.0 80.3 L361.8 80.6 L369.1 81.0 L376.5 81.4 L383.9 81.8 L390.8 82.2 L397.2 82.4 L402.9 82.5 L408.2 82.6 L413.1 82.6 L417.7 82.6 L422.3 82.4 L426.8 82.0 L431.4 81.4 L436.0 80.5 L440.5 79.5 L444.8 78.5 L448.7 77.6 L452.1 77.0 L454.8 76.7 L457.0 76.5 L458.7 76.5 L460.4 76.6 L462.3 76.8 L464.8 77.0 L467.8 77.4 L471.2 77.9 L474.8 78.5 L478.6 79.1 L482.3 79.5 L485.9 79.7 L489.1 79.5 L491.9 79.1 L494.7 78.5 L497.9 77.9 L501.9 77.3 L507.0 77.0 L513.7 76.8 L521.8 76.7 L530.6 76.7 L539.6 76.8 L548.2 77.0 L555.6 77.4 L561.9 78.0 L567.5 78.8 L572.6 79.7 L577.5 80.6 L582.3 81.6 L587.3 82.4 L592.5 83.2 L597.9 84.0 L603.1 84.8 L608.2 85.6 L612.8 86.2 L616.8 86.7 L620.2 87.0 L623.3 87.2 L625.8 87.3 L628.0 87.3 L629.8 87.3 L631.2 87.3"/>
<path d="M664.8 87.1 L670.0 86.9 L677.2 86.6 L685.7 86.3 L695.1 85.9 L704.9 85.5 L714.5 85.2 L724.6 84.9 L735.8 84.7 L747.3 84.4 L758.5 84.1 L768.9 83.8 L777.8 83.5 L784.9 83.1 L790.7 82.5 L795.6 82.0 L800.1 81.4 L804.6 81.0 L809.5 80.8 L814.6 80.8 L819.6 81.0 L824.6 81.3 L829.8 81.6 L835.2 81.8 L841.1 82.0 L847.7 82.0 L855.0 81.9 L862.6 81.8 L870.1 81.7 L877.1 81.6 L883.4 81.6 L888.6 81.6 L893.0 81.7 L897.0 81.8 L900.9 82.0 L905.1 82.2 L910.0 82.4 L915.2 82.7 L920.3 83.1 L925.6 83.5 L931.7 83.9 L938.8 84.3 L947.2 84.6 L957.6 84.9 L969.9 85.3 L983.2 85.7 L996.7 86.0 L1009.6 86.2 L1021.1 86.2 L1031.2 86.1 L1040.7 85.8 L1049.5 85.4 L1057.9 85.0 L1066.0 84.5 L1073.9 84.1 L1081.8 83.7 L1089.4 83.2 L1096.8 82.8 L1103.8 82.3 L1110.3 81.8 L1116.2 81.4 L1121.4 81.0 L1126.0 80.6 L1130.2 80.3 L1133.9 79.9 L1137.5 79.6 L1141.0 79.3 L1144.4 79.0 L1147.5 78.8 L1150.4 78.6 L1153.1 78.4 L1155.8 78.1 L1158.4 77.8 L1161.0 77.4 L1163.5 76.9 L1165.9 76.4 L1168.2 75.9 L1170.5 75.4 L1172.7 75.0 L1174.8 74.7 L1176.7 74.4 L1178.6 74.2 L1180.5 74.0 L1182.6 73.5 L1185.0 72.9 L1187.9 71.9 L1191.4 70.6 L1195.0 69.2 L1198.5 67.8 L1201.4 66.5 L1203.5 65.7"/>
<path d="M85.5 145.8 L88.0 145.6 L91.3 145.3 L95.3 144.9 L100.0 144.5 L105.5 144.1 L111.7 143.7 L119.3 143.4 L128.3 143.0 L138.2 142.7 L148.0 142.4 L157.0 142.0 L164.5 141.6 L170.2 141.2 L174.5 140.7 L178.1 140.2 L181.4 139.7 L185.2 139.3 L189.8 138.8 L195.2 138.4 L201.0 137.9 L207.1 137.5 L213.6 137.1 L220.5 136.7 L227.8 136.3 L235.9 135.9 L244.9 135.6 L254.2 135.2 L263.5 134.9 L272.5 134.5 L280.6 134.2 L287.8 133.8 L294.4 133.5 L300.6 133.1 L306.6 132.8 L312.5 132.4 L318.6 132.1 L324.6 131.8 L330.2 131.4 L335.9 131.1 L341.7 130.7 L348.0 130.4 L355.0 130.0 L362.9 129.6 L371.4 129.3 L380.4 128.9 L389.6 128.5 L398.8 128.1 L407.8 127.8 L416.5 127.5 L425.0 127.2 L433.5 126.9 L442.2 126.7 L451.2 126.4 L460.6 126.2 L470.7 126.0 L481.3 125.8 L492.2 125.6 L503.2 125.4 L513.8 125.3 L523.9 125.1 L533.6 124.9 L543.1 124.8 L552.3 124.6 L561.1 124.5 L569.2 124.3 L576.7 124.3 L583.3 124.3 L589.2 124.4 L594.5 124.6 L599.4 124.7 L603.9 124.8 L608.4 124.9 L612.6 124.9 L616.5 124.9 L620.1 124.9 L623.5 124.9 L626.8 124.8 L630.0 124.7 L632.5 124.5 L634.1 124.2 L635.6 123.9 L637.7 123.7 L641.2 123.5 L646.9 123.4 L655.5 123.5 L666.6 123.7 L679.1 124.0 L692.0 124.4 L704.1 124.7 L714.5 125.1 L723.0 125.4 L730.4 125.8 L737.2 126.2 L743.6 126.6 L750.0 127.0 L756.7 127.4 L763.7 127.8 L770.8 128.3 L777.8 128.7 L784.8 129.2 L791.9 129.6 L798.9 130.0 L805.9 130.4 L813.0 130.7 L820.0 131.0 L827.0 131.4 L834.1 131.7 L841.1 132.1 L848.3 132.5 L855.8 133.0 L863.2 133.5 L870.5 134.0 L877.3 134.4 L883.4 134.8 L888.6 135.1 L893.0 135.4 L897.0 135.7 L900.9 135.9 L905.1 136.1 L910.0 136.3 L915.5 136.4 L921.4 136.5 L927.6 136.5 L934.0 136.6 L940.6 136.7 L947.2 136.9 L954.0 137.3 L960.9 137.7 L968.0 138.3 L975.2 138.8 L982.4 139.4 L989.5 139.9 L996.8 140.4 L1004.4 140.9 L1011.9 141.5 L1019.2 141.9 L1025.9 142.3 L1031.7 142.6 L1036.4 142.7 L1040.3 142.6 L1043.6 142.4 L1046.5 142.2 L1049.5 142.1 L1052.8 142.2 L1056.2 142.5 L1059.4 143.0 L1062.7 143.6 L1066.1 144.3 L1069.8 144.9 L1073.9 145.4 L1078.6 145.8 L1083.7 146.0 L1089.1 146.2 L1094.6 146.5 L1100.2 146.9 L1105.6 147.5 L1111.1 148.4 L1116.7 149.4 L1122.4 150.6 L1127.9 151.8 L1132.9 153.1 L1137.3 154.2 L1141.0 155.2 L1144.1 156.2 L1146.8 157.1 L1149.2 158.1 L1151.5 159.1 L1153.7 160.2 L1155.8 161.4 L1157.7 162.7 L1159.4 164.0 L1161.1 165.4 L1162.8 166.9 L1164.7 168.4 L1166.8 170.1 L1169.2 172.0 L1171.6 173.9 L1173.8 175.8 L1175.8 177.5 L1177.4 179.0 L1178.5 180.1 L1179.3 181.0 L1179.9 181.8 L1180.2 182.4 L1180.3 183.1 L1180.3 184.0 L1180.1 185.0 L1179.6 186.2 L1178.9 187.4 L1178.1 188.6 L1177.2 189.7 L1176.3 190.6 L1175.3 191.3 L1174.4 192.0 L1173.3 192.5 L1172.0 192.9 L1170.6 193.4 L1168.9 193.8 L1166.9 194.2 L1164.7 194.6 L1162.3 195.0 L1159.7 195.3 L1157.0 195.6 L1154.2 195.9 L1151.3 196.2 L1148.2 196.5 L1145.0 196.8 L1141.7 197.1 L1138.4 197.2 L1135.2 197.2 L1132.1 197.0 L1128.9 196.7 L1125.8 196.3 L1122.7 195.8 L1119.5 195.3 L1116.2 194.8 L1112.9 194.3 L1109.7 193.7 L1106.4 193.2 L1102.9 192.5 L1099.2 191.9 L1095.0 191.2 L1090.3 190.4 L1085.1 189.6 L1079.6 188.7 L1074.0 187.9 L1068.5 187.1 L1063.4 186.4 L1058.7 185.8 L1054.2 185.3 L1049.9 184.8 L1045.5 184.4 L1040.9 184.1 L1035.9 183.9 L1030.4 183.8 L1024.4 183.8 L1018.2 183.9 L1012.0 184.0 L1005.8 184.2 L1000.0 184.3 L994.4 184.4 L988.7 184.5 L983.2 184.7 L977.9 184.8 L972.9 184.9 L968.3 184.9 L964.2 184.9 L960.5 184.8 L957.1 184.6 L953.8 184.5 L950.6 184.2 L947.2 183.9 L943.7 183.5 L940.2 183.0 L936.7 182.4 L933.1 181.8 L929.6 181.2 L926.1 180.7 L922.6 180.3 L919.1 179.9 L915.6 179.6 L912.1 179.2 L908.5 178.9 L905.0 178.6 L901.4 178.3 L897.8 177.9 L894.2 177.6 L890.6 177.3 L887.0 177.0 L883.4 176.9 L880.0 176.9 L876.7 177.0 L873.5 177.2 L870.1 177.4 L866.4 177.6 L862.3 177.7 L857.6 177.7 L852.5 177.7 L847.1 177.6 L841.6 177.6 L836.0 177.6 L830.6 177.7 L825.3 177.9 L820.0 178.1 L814.8 178.4 L809.5 178.7 L804.2 179.0 L798.9 179.4 L793.9 179.8 L789.1 180.3 L784.4 180.8 L779.3 181.2 L773.7 181.7 L767.2 182.0 L759.6 182.3 L751.2 182.5 L742.2 182.7 L732.9 182.8 L723.6 182.8 L714.5 182.8 L705.0 182.6 L694.8 182.4 L684.6 182.0 L675.1 181.6 L667.1 181.3 L661.3 181.1"/>
<path d="M628.4 179.4 L623.8 179.1 L617.4 178.6 L609.8 178.0 L601.8 177.4 L594.1 176.9 L587.3 176.5 L581.7 176.2 L576.8 175.9 L572.2 175.7 L567.4 175.5 L562.0 175.4 L555.6 175.4 L548.0 175.5 L539.4 175.7 L530.3 176.0 L520.9 176.3 L511.6 176.6 L502.8 176.9 L494.2 177.1 L485.4 177.3 L476.8 177.5 L468.5 177.7 L460.9 177.9 L454.2 178.2 L448.7 178.5 L444.3 178.9 L440.5 179.3 L436.9 179.7 L433.2 180.1 L428.9 180.3 L424.1 180.4 L419.0 180.5 L413.8 180.4 L408.4 180.4 L402.9 180.4 L397.2 180.5 L391.7 180.6 L386.4 180.8 L380.9 181.0 L375.0 181.3 L368.1 181.6 L360.0 182.0 L350.0 182.5 L338.4 183.2 L325.9 183.9 L313.3 184.6 L301.4 185.3 L291.1 185.8 L282.8 186.2 L276.0 186.5 L269.9 186.7 L263.9 186.9 L257.1 187.0 L248.9 187.0 L238.9 186.9 L227.6 186.7 L215.5 186.4 L203.4 186.1 L191.8 185.9 L181.4 185.8 L172.2 185.8 L163.8 186.0 L155.8 186.2 L148.2 186.4 L140.6 186.6 L132.8 186.8 L124.3 187.0 L115.2 187.2 L106.1 187.4 L97.7 187.6 L90.6 187.8 L85.5 187.9"/>
<path d="M85.5 216.0 L87.6 216.1 L90.3 216.3 L93.5 216.5 L97.5 216.7 L102.1 216.9 L107.4 217.0 L113.8 217.0 L121.2 217.0 L129.4 216.9 L137.8 216.7 L146.1 216.6 L153.9 216.4 L161.1 216.2 L167.9 216.0 L174.6 215.7 L181.4 215.4 L188.5 215.2 L196.1 214.9 L204.3 214.6 L213.1 214.2 L222.1 213.8 L231.2 213.5 L240.2 213.3 L248.9 213.2 L257.1 213.4 L265.1 213.8 L272.9 214.2 L280.8 214.7 L288.9 215.1 L297.5 215.3 L307.1 215.3 L317.7 215.1 L328.5 214.8 L338.8 214.5 L347.9 214.1 L355.0 213.8 L359.5 213.4 L361.9 212.9 L363.1 212.4 L363.9 212.0 L365.1 211.7 L367.7 211.7 L371.7 212.0 L376.4 212.6 L381.5 213.4 L386.9 214.2 L392.2 214.9 L397.2 215.5 L401.8 215.9 L406.2 216.2 L410.5 216.5 L415.0 216.7 L419.7 216.8 L424.7 217.0 L430.2 217.1 L436.2 217.2 L442.4 217.2 L448.6 217.2 L454.8 217.2 L460.6 217.4 L466.2 217.6 L471.7 217.9 L477.1 218.3 L482.3 218.6 L487.3 219.1 L492.2 219.5 L496.8 220.0 L501.1 220.5 L505.2 221.0 L509.2 221.6 L513.3 222.2 L517.6 222.9 L522.1 223.7 L526.7 224.5 L531.3 225.4 L535.9 226.3 L540.5 227.2 L545.0 228.0 L549.3 228.7 L553.5 229.3 L557.7 229.8 L561.9 230.4 L566.1 231.0 L570.4 231.8 L575.0 232.8 L580.0 234.0 L585.0 235.4 L589.8 236.6 L594.2 237.7 L597.8 238.5 L600.4 239.0 L602.2 239.2 L603.6 239.3 L604.8 239.2 L606.3 239.1 L608.4 239.0 L611.4 238.8 L615.1 238.5 L619.1 238.1 L622.9 237.7 L626.1 237.3 L628.4 237.1"/>
<path d="M661.3 229.7 L663.9 229.4 L667.4 228.9 L671.6 228.4 L676.2 227.8 L680.7 227.1 L684.9 226.5 L688.9 225.8 L692.9 225.0 L696.9 224.2 L700.8 223.4 L704.6 222.7 L708.1 222.3 L711.3 222.1 L714.1 222.2 L716.8 222.4 L719.4 222.6 L722.1 222.7 L725.0 222.7 L727.9 222.5 L730.8 222.1 L733.7 221.6 L736.8 221.1 L740.2 220.8 L744.0 220.6 L748.5 220.7 L753.7 220.9 L759.2 221.2 L764.6 221.6 L769.5 221.8 L773.6 221.9 L776.4 221.7 L778.3 221.3 L779.6 220.8 L781.1 220.4 L783.1 220.0 L786.2 219.8 L790.7 219.8 L796.3 220.0 L802.4 220.2 L808.7 220.6 L814.7 220.9 L820.0 221.2 L824.4 221.5 L828.3 222.0 L831.9 222.4 L835.5 222.8 L839.2 223.1 L843.3 223.3 L847.9 223.3 L852.8 223.1 L857.9 222.8 L863.0 222.5 L868.0 222.2 L872.8 221.9 L877.4 221.6 L882.1 221.3 L886.6 221.0 L890.9 220.8 L894.8 220.5 L898.2 220.4 L900.8 220.4 L902.6 220.4 L904.0 220.4 L905.5 220.6 L907.3 220.7 L910.0 220.8 L913.7 220.9 L918.0 221.1 L922.8 221.3 L927.7 221.5 L932.4 221.6 L936.7 221.7 L940.4 221.6 L943.8 221.4 L946.9 221.2 L950.2 221.0 L953.7 220.8 L957.8 220.8 L962.6 221.0 L968.0 221.4 L973.6 221.8 L979.3 222.2 L984.7 222.5 L989.5 222.7 L993.5 222.6 L996.9 222.4 L1000.1 222.0 L1003.2 221.6 L1006.6 221.3 L1010.6 221.2 L1015.3 221.2 L1020.4 221.3 L1025.7 221.5 L1031.3 221.7 L1036.8 222.0 L1042.2 222.3 L1047.5 222.7 L1052.8 223.1 L1058.2 223.6 L1063.5 224.0 L1068.7 224.5 L1073.9 224.8 L1079.2 225.0 L1084.7 225.1 L1090.2 225.1 L1095.3 225.2 L1099.8 225.3 L1103.5 225.6 L1106.1 226.1 L1107.7 226.7 L1108.8 227.4 L1109.6 228.1 L1110.5 228.9 L1112.0 229.7 L1114.0 230.6 L1116.2 231.5 L1118.6 232.5 L1121.0 233.5 L1123.4 234.3 L1125.6 235.0 L1127.6 235.5 L1129.6 235.8 L1131.4 236.0 L1133.3 236.2 L1135.1 236.2 L1137.0 236.1 L1138.8 235.9 L1140.4 235.5 L1142.0 235.0 L1143.8 234.5 L1145.8 233.9 L1148.4 233.4 L1151.5 232.9 L1155.2 232.4 L1159.1 231.9 L1163.2 231.4 L1167.3 230.9 L1171.2 230.4 L1175.2 229.8 L1179.3 229.2 L1183.4 228.5 L1187.4 227.9 L1191.0 227.4 L1194.0 227.0 L1196.5 226.8 L1198.5 226.6 L1200.2 226.6 L1201.5 226.6 L1202.6 226.6 L1203.5 226.6"/>
<path d="M1094.8 257.3 L1096.8 256.9 L1099.6 256.4 L1102.9 255.8 L1106.6 255.1 L1110.4 254.5 L1114.2 253.9 L1118.1 253.4 L1122.4 252.8 L1126.8 252.3 L1131.2 251.8 L1135.5 251.5 L1139.3 251.3 L1142.7 251.3 L1145.9 251.5 L1148.8 251.8 L1151.7 252.2 L1154.5 252.7 L1157.5 253.4 L1160.6 254.3 L1163.8 255.3 L1166.9 256.5 L1170.0 257.8 L1173.0 259.0 L1175.8 260.1 L1178.4 261.1 L1181.0 262.2 L1183.5 263.2 L1185.7 264.1 L1187.8 265.0 L1189.5 265.8 L1191.0 266.5 L1192.4 267.1 L1193.5 267.6 L1194.3 268.2 L1194.8 268.7 L1194.8 269.2 L1194.4 269.8 L1193.5 270.4 L1192.3 270.9 L1190.8 271.5 L1189.1 272.1 L1187.2 272.6 L1185.1 273.1 L1182.7 273.7 L1180.2 274.2 L1177.3 274.7 L1174.4 275.2 L1171.2 275.5 L1167.8 275.8 L1164.1 275.9 L1160.2 276.1 L1156.3 276.1 L1152.3 276.1 L1148.4 276.0 L1144.6 275.8 L1140.8 275.5 L1137.0 275.2 L1133.2 274.8 L1129.4 274.4 L1125.6 274.0 L1121.6 273.6 L1117.5 273.3 L1113.3 272.9 L1109.3 272.6 L1105.7 272.2 L1102.8 272.0 L1100.5 271.8 L1098.7 271.7 L1097.4 271.6 L1096.3 271.6 L1095.5 271.5 L1094.8 271.5"/>
<path d="M85.5 256.9 L107.4 260.7"/>
<path d="M85.5 272.0 L108.9 269.7"/>
<path d="M85.5 290.3 L87.3 290.3 L89.8 290.2 L92.8 290.2 L95.9 290.1 L98.8 290.0 L101.1 289.9 L102.7 289.6 L103.9 289.3 L104.9 288.9 L105.9 288.5 L107.0 288.2 L108.5 288.2 L110.5 288.4 L112.8 288.8 L115.3 289.4 L117.8 289.9 L120.1 290.4 L122.2 290.8 L123.8 291.1 L125.2 291.3 L126.4 291.5 L127.6 291.6 L129.0 291.6 L130.7 291.4 L132.8 290.9 L135.2 290.2 L137.8 289.3 L140.5 288.4 L143.1 287.8 L145.5 287.6 L147.6 287.9 L149.5 288.6 L151.3 289.5 L153.2 290.4 L155.4 291.3 L158.1 291.8 L161.4 292.1 L165.3 292.2 L169.5 292.2 L173.7 292.1 L177.8 292.0 L181.4 291.8 L184.7 291.5 L187.8 291.0 L190.7 290.5 L193.5 290.0 L196.0 289.6 L198.2 289.3 L200.0 289.2 L201.3 289.4 L202.4 289.5 L203.6 289.7 L204.9 289.8 L206.7 289.7 L209.1 289.3 L211.8 288.8 L214.8 288.2 L217.9 287.5 L220.9 286.9 L223.6 286.5 L226.1 286.2 L228.4 285.9 L230.6 285.7 L232.9 285.6 L235.1 285.5 L237.3 285.5 L239.6 285.6 L242.0 285.8 L244.3 286.0 L246.7 286.3 L248.9 286.7 L251.0 287.2 L252.9 287.8 L254.8 288.7 L256.5 289.6 L258.2 290.5 L259.9 291.2 L261.6 291.8 L263.4 292.2 L265.1 292.5 L266.9 292.6 L268.6 292.7 L270.3 292.6 L272.1 292.4 L273.8 291.9 L275.5 291.1 L277.1 290.1 L278.9 289.2 L280.7 288.5 L282.7 288.2 L284.9 288.4 L287.3 289.0 L289.8 289.8 L292.4 290.6 L295.0 291.2 L297.5 291.4 L299.9 291.1 L302.4 290.4 L304.8 289.5 L307.2 288.6 L309.7 287.8 L312.3 287.2 L315.0 287.0 L317.9 287.0 L320.9 287.1 L323.8 287.1 L326.6 287.1 L329.2 286.7 L331.6 286.0 L333.8 285.0 L336.0 283.9 L338.0 282.7 L339.9 281.6 L341.8 280.8 L343.6 280.2 L345.4 279.6 L347.1 279.2 L348.7 278.9 L350.1 278.7 L351.3 278.7 L352.2 278.8 L352.9 279.2 L353.4 279.6 L353.9 280.2 L354.4 280.8 L355.0 281.5 L355.5 282.3 L355.9 283.3 L356.2 284.4 L356.9 285.5 L358.2 286.4 L360.3 287.2 L363.7 287.7 L368.1 288.0 L373.2 288.2 L378.3 288.4 L383.0 288.6 L386.7 288.9 L389.4 289.4 L391.4 289.9 L392.9 290.6 L394.3 291.1 L395.6 291.6 L397.2 292.0 L398.9 292.2 L400.7 292.3 L402.4 292.3 L404.2 292.2 L406.0 292.1 L407.8 292.0 L409.7 291.8 L411.5 291.4 L413.4 291.0 L415.3 290.6 L417.3 290.3 L419.4 290.3 L421.3 290.6 L422.9 291.2 L424.6 291.9 L426.7 292.6 L429.4 293.2 L433.1 293.5 L438.1 293.5 L444.2 293.4 L451.0 293.1 L458.0 292.7 L464.9 292.5 L471.1 292.4 L476.7 292.5 L482.1 292.8 L487.3 293.1 L492.5 293.5 L497.6 293.8 L502.8 293.9 L508.1 293.9 L513.4 293.7 L518.7 293.5 L523.9 293.3 L529.2 293.1 L534.5 293.1 L539.6 293.3 L544.6 293.6 L549.6 293.9 L554.8 294.3 L560.2 294.6 L566.1 294.8 L572.8 294.9 L580.1 294.9 L587.8 294.8 L595.3 294.7 L602.4 294.7 L608.4 294.6 L613.6 294.6 L618.3 294.5 L622.4 294.4 L626.0 294.4 L628.9 294.3 L631.2 294.3"/>
<path d="M664.8 294.6 L671.6 294.5 L681.1 294.3 L692.3 294.2 L704.0 294.0 L715.3 293.9 L725.0 293.9 L733.3 294.0 L741.0 294.2 L748.3 294.5 L755.0 294.7 L761.3 295.0 L767.2 295.2 L772.5 295.4 L777.3 295.6 L781.6 295.8 L785.5 296.0 L789.2 296.0 L792.6 296.0 L795.6 295.8 L798.0 295.4 L800.1 295.0 L802.2 294.6 L804.6 294.2 L807.4 294.1 L810.8 294.2 L814.6 294.5 L818.6 294.9 L822.7 295.3 L826.8 295.7 L830.6 296.0 L834.1 296.2 L837.4 296.4 L840.6 296.6 L844.0 296.7 L847.6 296.7 L851.7 296.7 L856.4 296.5 L861.7 296.3 L867.2 295.9 L872.8 295.6 L878.3 295.2 L883.4 295.0 L888.1 294.8 L892.6 294.7 L897.0 294.5 L901.3 294.4 L905.6 294.4 L910.0 294.4 L914.5 294.5 L919.1 294.7 L923.7 294.9 L928.2 295.1 L932.6 295.4 L936.7 295.6 L940.5 295.8 L944.1 296.0 L947.6 296.3 L951.0 296.5 L954.3 296.6 L957.8 296.7 L961.2 296.7 L964.6 296.5 L967.9 296.3 L971.4 296.2 L975.0 296.0 L978.9 296.0 L983.2 296.1 L988.0 296.3 L992.9 296.5 L997.8 296.7 L1002.4 297.0 L1006.4 297.3 L1009.8 297.6 L1012.7 297.9 L1015.3 298.2 L1017.8 298.5 L1020.4 298.9 L1023.2 299.2 L1026.1 299.6 L1028.9 299.9 L1031.8 300.3 L1034.8 300.7 L1038.3 301.1 L1042.2 301.5 L1046.7 302.0 L1051.8 302.4 L1057.3 302.9 L1062.9 303.5 L1068.5 303.9 L1073.9 304.4 L1079.2 304.8 L1084.5 305.3 L1089.8 305.7 L1095.0 306.1 L1100.3 306.4 L1105.6 306.7 L1110.9 307.0 L1116.2 307.2 L1121.5 307.4 L1126.7 307.5 L1132.0 307.6 L1137.3 307.7 L1142.5 307.7 L1147.7 307.7 L1152.9 307.7 L1158.1 307.6 L1163.5 307.5 L1168.9 307.4 L1174.9 307.3 L1181.5 307.1 L1188.2 307.0 L1194.4 306.8 L1199.7 306.7 L1203.5 306.6"/>
<path d="M85.5 300.9 L89.7 301.1 L95.6 301.4 L102.5 301.8 L109.8 302.1 L116.6 302.4 L122.2 302.6 L126.6 302.7 L130.4 302.6 L133.7 302.5 L136.8 302.4 L140.0 302.4 L143.3 302.4 L146.6 302.5 L149.6 302.8 L152.6 303.0 L155.9 303.3 L159.8 303.5 L164.5 303.6 L170.4 303.6 L177.4 303.4 L184.9 303.2 L192.6 303.0 L200.0 302.8 L206.7 302.6 L212.6 302.4 L218.2 302.1 L223.5 301.8 L228.5 301.6 L233.5 301.5 L238.4 301.5 L243.3 301.8 L248.2 302.2 L253.0 302.8 L257.6 303.3 L261.9 303.8 L265.8 304.1 L269.2 304.2 L272.2 304.0 L274.9 303.8 L277.5 303.6 L280.0 303.5 L282.7 303.6 L285.5 304.0 L288.3 304.5 L291.0 305.2 L293.8 305.8 L296.7 306.4 L299.6 306.6 L302.7 306.5 L305.9 306.2 L309.1 305.7 L312.3 305.1 L315.5 304.7 L318.6 304.5 L321.6 304.6 L324.6 305.0 L327.6 305.4 L330.4 305.8 L333.1 306.0 L335.5 305.8 L337.7 305.2 L339.6 304.2 L341.4 303.0 L343.0 301.7 L344.6 300.6 L346.0 299.8 L347.3 299.3 L348.4 298.9 L349.4 298.7 L350.3 298.5 L351.3 298.5 L352.4 298.4 L353.5 298.3 L354.6 298.3 L355.7 298.4 L356.9 298.5 L358.3 298.7 L360.0 299.0 L362.0 299.5 L364.2 300.3 L366.5 301.1 L369.0 301.9 L371.5 302.6 L374.0 303.0 L376.4 303.1 L378.9 303.1 L381.3 302.8 L383.8 302.6 L386.3 302.4 L388.8 302.4 L391.2 302.6 L393.7 302.9 L396.1 303.3 L398.5 303.6 L401.0 303.9 L403.6 304.1 L406.3 304.1 L409.2 303.9 L412.1 303.6 L415.0 303.4 L417.8 303.3 L420.5 303.4 L423.1 303.8 L425.6 304.4 L428.0 305.1 L430.4 305.8 L432.8 306.4 L435.2 306.8 L437.7 306.9 L440.1 306.9 L442.6 306.8 L445.1 306.6 L447.5 306.5 L450.0 306.6 L452.5 306.9 L454.9 307.3 L457.4 307.8 L459.9 308.3 L462.3 308.6 L464.8 308.7 L467.4 308.5 L470.0 308.0 L472.7 307.4 L475.2 306.8 L477.6 306.3 L479.6 306.2 L481.2 306.4 L482.5 306.7 L483.6 307.3 L484.7 307.9 L485.7 308.6 L487.0 309.3 L488.5 310.1 L490.0 311.1 L491.6 312.1 L493.2 313.1 L494.8 313.9 L496.5 314.6 L497.9 315.0 L498.9 315.3 L500.0 315.5 L501.4 315.6 L503.6 315.7 L507.0 315.7 L511.7 315.7 L517.5 315.6 L524.0 315.5 L531.0 315.4 L538.1 315.3 L545.0 315.3 L551.7 315.4 L558.6 315.5 L565.5 315.7 L572.6 315.9 L579.9 316.1 L587.3 316.3 L595.1 316.5 L603.2 316.7 L611.5 316.8 L619.7 317.0 L627.6 317.2 L635.0 317.3 L641.7 317.4 L647.8 317.5 L653.5 317.6 L659.3 317.7 L665.5 317.8 L672.2 317.8 L679.9 317.8 L688.4 317.7 L697.2 317.7 L705.9 317.6 L713.9 317.7 L720.8 317.8 L726.3 318.1 L730.7 318.4 L734.5 318.9 L738.1 319.4 L741.8 319.8 L746.1 320.3 L751.2 320.8 L756.7 321.3 L762.3 321.8 L767.9 322.3 L773.2 322.7 L777.8 323.1 L781.8 323.4 L785.4 323.8 L788.6 324.1 L791.6 324.3 L794.3 324.4 L796.8 324.5 L798.9 324.4 L800.5 324.1 L801.8 323.8 L803.2 323.4 L805.0 323.2 L807.4 323.1 L810.6 323.2 L814.3 323.4 L818.3 323.7 L822.6 324.0 L826.7 324.4 L830.6 324.8 L834.3 325.2 L837.9 325.7 L841.4 326.2 L844.9 326.7 L848.3 327.2 L851.7 327.7 L854.9 328.2 L858.0 328.9 L861.1 329.5 L864.1 330.0 L867.3 330.4 L870.7 330.7 L874.4 330.7 L878.4 330.5 L882.5 330.2 L886.5 329.8 L890.4 329.5 L893.9 329.4 L897.0 329.4 L899.8 329.5 L902.4 329.7 L904.9 329.9 L907.4 330.1 L910.0 330.3 L912.6 330.5 L915.2 330.8 L917.7 331.1 L920.4 331.4 L923.1 331.7 L926.1 332.1 L929.3 332.5 L932.7 332.9 L936.2 333.3 L939.8 333.8 L943.5 334.3 L947.2 335.0 L950.9 335.8 L954.5 336.7 L958.2 337.8 L962.0 338.8 L966.0 339.9 L970.1 341.0 L974.6 342.1 L979.4 343.2 L984.4 344.4 L989.3 345.5 L994.0 346.6 L998.2 347.6 L1002.0 348.5 L1005.6 349.3 L1009.0 350.0 L1012.0 350.8 L1014.7 351.5 L1016.9 352.3 L1018.6 353.1 L1019.8 353.8 L1020.6 354.5 L1021.2 355.3 L1021.6 356.2 L1022.0 357.4 L1022.4 358.9 L1022.7 360.7 L1022.8 362.7 L1022.7 364.6 L1022.5 366.4 L1022.0 367.9 L1021.4 369.0 L1020.6 369.9 L1019.6 370.6 L1018.4 371.2 L1016.7 371.9 L1014.6 372.6 L1012.0 373.4 L1009.1 374.1 L1005.8 374.9 L1002.1 375.6 L998.0 376.4 L993.5 377.3 L988.5 378.3 L982.9 379.4 L976.9 380.5 L970.7 381.6 L964.5 382.7 L958.5 383.6 L952.5 384.4 L946.4 385.2 L940.2 386.0 L934.2 386.6 L928.6 387.2 L923.4 387.8 L918.7 388.3 L914.4 388.8 L910.4 389.1 L906.7 389.5 L903.2 389.8 L900.0 390.0 L897.4 390.1 L895.6 390.1 L894.1 390.1 L892.3 390.1 L889.8 390.1 L886.0 390.3 L880.8 390.7 L874.4 391.2 L867.2 391.7 L859.8 392.4 L852.4 392.9 L845.5 393.4 L839.1 393.8 L832.7 394.1 L826.5 394.4 L820.3 394.6 L814.0 394.9 L807.8 395.3 L801.4 395.7 L794.8 396.2 L788.2 396.7 L781.8 397.2 L775.7 397.7 L770.2 398.2 L765.3 398.7 L760.9 399.2 L756.9 399.8 L753.0 400.3 L749.1 400.8 L745.1 401.3 L741.2 401.8 L737.5 402.2 L733.9 402.7 L730.0 403.1 L725.5 403.5 L720.0 403.8 L713.3 404.1 L705.6 404.4 L697.2 404.6 L688.7 404.8 L680.5 404.9 L672.9 405.1 L666.1 405.2 L659.7 405.4 L653.5 405.5 L647.5 405.5 L641.5 405.5 L635.3 405.5 L629.0 405.4 L622.7 405.2 L616.4 405.0 L610.2 404.8 L603.9 404.6 L597.6 404.4 L591.6 404.2 L585.9 404.1 L580.2 403.9 L574.2 403.8 L567.5 403.7 L560.0 403.7 L551.1 403.7 L541.0 403.8 L530.2 403.9 L519.5 404.1 L509.3 404.2 L500.4 404.4 L492.8 404.6 L486.0 404.8 L479.9 405.0 L474.1 405.2 L468.4 405.5 L462.7 405.7 L456.1 405.9 L448.8 406.2 L441.6 406.4 L435.5 406.7 L431.3 407.0 L430.1 407.4 L432.5 407.8 L438.0 408.3 L445.6 408.9 L453.9 409.5 L462.1 410.1 L469.0 410.7 L474.7 411.4 L480.3 412.2 L485.6 413.0 L490.7 413.8 L495.6 414.5 L500.4 415.1 L504.8 415.5 L508.7 415.7 L512.4 415.9 L516.2 416.0 L520.5 416.2 L525.5 416.4 L531.3 416.7 L537.7 417.0 L544.6 417.3 L551.7 417.7 L558.9 418.0 L566.0 418.2 L573.2 418.4 L580.5 418.5 L587.9 418.7 L595.4 418.8 L602.8 418.8 L610.2 418.9 L617.7 419.0 L625.3 419.0 L633.0 419.1 L640.4 419.1 L647.5 419.0 L654.1 418.9 L660.0 418.7 L665.4 418.3 L670.4 417.9 L675.3 417.5 L680.2 417.2 L685.5 417.0 L691.3 417.0 L697.6 417.1 L703.9 417.3 L710.0 417.5 L715.5 417.7 L720.0 417.9 L723.3 418.1 L725.6 418.4 L727.2 418.6 L728.7 418.9 L730.3 419.1 L732.5 419.1 L735.0 419.0 L737.4 418.8 L740.0 418.5 L743.0 418.1 L746.7 417.8 L751.4 417.6 L757.2 417.5 L763.9 417.4 L771.4 417.3 L779.3 417.2 L787.3 417.1 L795.3 417.0 L803.4 416.8 L811.9 416.6 L820.6 416.4 L829.3 416.1 L837.6 415.9 L845.5 415.7 L852.6 415.5 L859.1 415.4 L865.3 415.3 L871.7 415.2 L878.4 415.1 L886.0 415.1 L894.4 415.2 L903.5 415.4 L913.0 415.6 L922.7 415.8 L932.7 416.0 L942.7 416.1 L953.1 416.1 L964.0 416.1 L975.1 416.0 L986.0 415.9 L996.3 415.8 L1005.5 415.7 L1013.5 415.5 L1020.5 415.3 L1026.9 415.1 L1033.1 414.9 L1039.3 414.7 L1046.0 414.6 L1053.1 414.6 L1060.2 414.6 L1067.5 414.7 L1074.9 414.8 L1082.4 415.0 L1090.2 415.1 L1098.4 415.3 L1107.0 415.5 L1115.7 415.7 L1124.4 415.9 L1132.7 416.2 L1140.4 416.4 L1147.5 416.6 L1154.3 416.9 L1160.7 417.2 L1166.8 417.4 L1172.6 417.7 L1178.0 417.9 L1183.2 418.1 L1188.3 418.3 L1193.1 418.5 L1197.3 418.7 L1200.9 418.8 L1203.5 418.9"/>
<path d="M85.5 323.7 L87.7 324.1 L90.7 324.6 L94.2 325.2 L98.3 325.9 L102.7 326.5 L107.4 326.9 L112.6 327.2 L118.5 327.4 L124.7 327.5 L131.1 327.7 L137.4 327.8 L143.3 327.9 L148.8 328.1 L154.2 328.3 L159.4 328.5 L164.6 328.6 L169.8 328.8 L175.0 328.8 L180.2 328.8 L185.3 328.7 L190.5 328.5 L195.7 328.3 L201.1 328.1 L206.7 327.9 L212.8 327.6 L219.4 327.3 L226.1 326.9 L232.7 326.6 L239.0 326.3 L244.7 326.2 L249.6 326.2 L253.8 326.4 L257.7 326.6 L261.6 326.9 L265.6 327.1 L270.0 327.3 L275.1 327.4 L280.6 327.5 L286.2 327.5 L291.8 327.6 L297.1 327.6 L301.7 327.7 L305.7 327.8 L309.1 328.0 L312.3 328.1 L315.1 328.2 L317.9 328.3 L320.7 328.3 L323.4 328.2 L325.9 328.2 L328.4 328.0 L330.7 327.8 L333.1 327.4 L335.5 326.9 L338.0 326.1 L340.6 324.9 L343.2 323.7 L345.7 322.4 L348.1 321.3 L350.3 320.5 L352.0 320.0 L353.3 319.8 L354.4 319.6 L355.7 319.6 L357.5 319.7 L360.0 319.8 L363.4 319.9 L367.5 320.2 L372.0 320.5 L376.8 320.9 L381.8 321.2 L386.7 321.6 L391.9 322.0 L397.4 322.4 L403.1 322.8 L408.7 323.2 L413.8 323.7 L418.3 324.1 L422.0 324.6 L425.1 325.1 L427.8 325.6 L430.3 326.1 L432.7 326.5 L435.2 326.7 L437.8 326.7 L440.3 326.5 L442.7 326.3 L445.1 326.0 L447.6 325.8 L450.0 325.8 L452.4 326.0 L454.9 326.5 L457.3 327.0 L459.7 327.5 L462.2 328.0 L464.8 328.3 L467.4 328.5 L470.1 328.5 L472.9 328.5 L475.7 328.5 L478.6 328.6 L481.7 328.8 L485.0 329.1 L488.4 329.6 L492.0 330.1 L495.6 330.6 L499.2 331.1 L502.8 331.5 L506.3 331.8 L509.8 331.9 L513.4 332.0 L516.9 332.1 L520.4 332.3 L523.9 332.6 L527.4 333.0 L530.9 333.5 L534.4 334.1 L538.0 334.6 L541.5 335.2 L545.0 335.7 L548.5 336.2 L552.0 336.7 L555.5 337.1 L559.1 337.6 L562.6 338.0 L566.1 338.3 L569.6 338.6 L573.2 338.8 L576.7 338.9 L580.2 339.0 L583.8 339.2 L587.3 339.3 L590.9 339.4 L594.5 339.5 L598.1 339.6 L601.7 339.7 L605.1 339.8 L608.4 340.0 L611.7 340.2 L615.0 340.5 L618.2 340.7 L621.1 341.0 L623.5 341.2 L625.3 341.4"/>
<path d="M658.6 344.3 L662.1 344.5 L667.1 344.9 L672.9 345.2 L679.0 345.6 L685.0 346.0 L690.1 346.2 L694.5 346.3 L698.5 346.2 L702.3 346.1 L706.0 346.0 L709.7 346.0 L713.5 346.2 L717.4 346.6 L721.3 347.1 L725.2 347.7 L729.1 348.3 L733.0 348.9 L736.9 349.3 L741.0 349.6 L745.2 349.7 L749.4 349.8 L753.5 349.9 L757.2 350.0 L760.3 350.3 L762.9 350.7 L765.1 351.2 L766.9 351.8 L768.4 352.4 L769.4 353.1 L770.1 353.9 L770.3 354.7 L769.9 355.7 L769.1 356.7 L768.1 357.7 L767.0 358.7 L766.1 359.7 L765.3 360.7 L764.3 361.6 L763.4 362.6 L762.4 363.6 L761.4 364.6 L760.3 365.6 L759.3 366.7 L758.4 367.7 L757.5 368.9 L756.4 369.9 L755.0 371.0 L753.3 371.9 L751.2 372.7 L748.8 373.5 L746.1 374.2 L743.2 374.8 L740.1 375.5 L736.9 376.1 L733.4 376.7 L729.6 377.4 L725.6 378.0 L721.6 378.5 L717.5 379.1 L713.5 379.6 L709.6 380.1 L705.8 380.5 L701.9 380.8 L698.1 381.2 L694.1 381.6 L690.1 382.0 L685.7 382.5 L680.8 383.1 L675.8 383.6 L671.1 384.2 L667.2 384.7 L664.4 385.0"/>
<path d="M630.5 384.8 L628.3 384.8 L625.5 384.7 L622.1 384.7 L618.1 384.6 L613.5 384.6 L608.4 384.6 L602.5 384.6 L595.7 384.7 L588.4 384.7 L580.8 384.8 L573.3 384.9 L566.1 385.0 L559.2 385.2 L552.3 385.3 L545.5 385.6 L538.8 385.8 L532.1 386.0 L525.5 386.3 L519.0 386.6 L512.7 386.9 L506.5 387.2 L500.3 387.5 L494.0 387.8 L487.8 388.1 L481.5 388.4 L475.0 388.8 L468.6 389.1 L462.3 389.5 L456.1 389.8 L450.2 390.0 L444.5 390.2 L438.8 390.4 L433.3 390.5 L428.1 390.5 L423.2 390.5 L418.8 390.3 L414.9 389.9 L411.5 389.3 L408.4 388.5 L405.6 387.8 L402.8 387.2 L400.0 386.9 L397.2 386.8 L394.4 386.9 L391.8 387.0 L389.2 387.3 L386.7 387.7 L384.3 388.1 L382.0 388.6 L379.9 389.2 L377.9 389.9 L375.9 390.6 L373.8 391.3 L371.7 391.9 L369.4 392.5 L367.0 393.0 L364.5 393.6 L362.1 394.0 L359.8 394.3 L357.9 394.4 L356.3 394.2 L354.9 393.8 L353.7 393.2 L352.6 392.6 L351.5 391.9 L350.4 391.3 L349.3 390.7 L348.3 390.0 L347.4 389.3 L346.4 388.6 L345.4 388.1 L344.1 387.8 L342.7 387.7 L341.4 387.9 L339.9 388.1 L338.2 388.5 L336.3 388.9 L334.1 389.4 L331.4 389.9 L328.4 390.6 L325.1 391.3 L321.7 392.0 L318.4 392.6 L315.3 393.2 L312.5 393.7 L309.9 394.1 L307.3 394.5 L304.7 394.8 L302.0 395.1 L299.0 395.3 L295.9 395.4 L292.8 395.5 L289.6 395.5 L286.1 395.4 L282.2 395.4 L277.6 395.3 L272.2 395.2 L266.1 395.0 L259.5 394.8 L252.8 394.7 L246.2 394.6 L240.0 394.6 L234.3 394.7 L228.9 395.0 L223.6 395.3 L218.3 395.7 L212.7 396.0 L206.7 396.3 L200.2 396.6 L193.3 396.8 L186.2 397.1 L178.9 397.3 L171.6 397.6 L164.5 397.8 L157.4 398.1 L150.2 398.3 L143.0 398.6 L135.9 398.9 L128.9 399.1 L122.2 399.3 L115.3 399.5 L108.2 399.6 L101.2 399.7 L94.8 399.8 L89.4 399.8 L85.5 399.9"/>
<path d="M92.0 415.0 L93.7 414.6 L96.2 414.0 L99.0 413.3 L102.1 412.6 L105.0 412.1 L107.6 411.8 L109.9 411.8 L112.1 412.0 L114.1 412.3 L116.1 412.7 L118.1 413.0 L120.0 413.3 L121.8 413.5 L123.4 413.7 L125.0 413.9 L126.6 414.1 L128.3 414.1 L130.2 414.0 L132.3 413.7 L134.5 413.2 L136.7 412.6 L139.1 412.0 L141.5 411.4 L144.0 411.0 L146.5 410.7 L149.0 410.5 L151.6 410.3 L154.3 410.2 L157.1 410.1 L160.0 410.0 L163.1 409.9 L166.3 409.8 L169.6 409.7 L173.1 409.7 L176.7 409.5 L180.4 409.4 L184.3 409.2 L188.5 408.9 L192.8 408.6 L197.2 408.4 L201.4 408.1 L205.5 407.9 L209.4 407.7 L213.3 407.6 L217.1 407.5 L220.8 407.4 L224.4 407.4 L227.8 407.3 L231.1 407.3 L234.3 407.2 L237.5 407.2 L240.4 407.2 L243.3 407.3 L246.0 407.3 L248.7 407.4 L251.3 407.5 L253.9 407.6 L256.2 407.7 L258.1 407.8 L259.5 407.9"/>
<path d="M92.0 415.0 L93.7 415.4 L96.2 416.0 L99.0 416.7 L102.1 417.4 L105.0 418.0 L107.6 418.3 L109.9 418.4 L112.1 418.2 L114.1 418.0 L116.1 417.7 L118.1 417.4 L120.0 417.2 L121.7 417.0 L123.0 416.9 L124.3 416.7 L125.8 416.6 L127.7 416.5 L130.2 416.5 L133.5 416.6 L137.5 416.8 L141.8 417.1 L146.4 417.4 L150.9 417.7 L155.3 417.9 L159.5 418.1 L163.7 418.3 L167.9 418.4 L172.0 418.6 L176.2 418.7 L180.4 418.9 L184.7 419.1 L189.0 419.3 L193.3 419.5 L197.6 419.7 L201.7 419.9 L205.5 420.1 L209.0 420.3 L212.1 420.5 L215.1 420.8 L218.1 421.0 L221.1 421.1 L224.3 421.2 L227.9 421.2 L231.7 421.1 L235.6 421.0 L239.5 420.8 L243.0 420.6 L246.0 420.4 L248.5 420.2 L250.7 419.9 L252.6 419.6 L254.2 419.3 L255.7 418.9 L257.0 418.6 L258.2 418.2 L259.1 417.8 L259.9 417.3 L260.6 416.8 L261.1 416.5 L261.5 416.2"/>
<path d="M316.5 411.3 L317.7 410.9 L319.4 410.2 L321.4 409.4 L323.5 408.7 L325.7 408.1 L327.8 407.8 L329.8 407.8 L331.9 408.1 L334.0 408.6 L336.1 409.1 L338.3 409.5 L340.4 409.8 L342.7 410.0 L345.2 410.0 L347.7 410.1 L350.1 410.1 L352.1 410.1 L353.5 410.1"/>
<path d="M316.5 411.3 L317.6 411.7 L319.1 412.3 L320.9 413.0 L322.9 413.7 L324.8 414.5 L326.6 415.1 L328.3 415.7 L329.9 416.3 L331.6 417.0 L333.3 417.5 L334.9 417.9 L336.6 418.2 L338.3 418.3 L340.1 418.2 L341.9 417.9 L343.6 417.6 L345.2 417.3 L346.7 417.0 L348.1 416.7 L349.5 416.3 L350.7 415.9 L351.9 415.5 L352.8 415.1 L353.5 414.9"/>
<path d="M85.5 424.9 L91.2 425.0 L99.1 425.1 L108.4 425.2 L118.4 425.3 L128.6 425.4 L138.0 425.5 L147.0 425.5 L156.1 425.6 L165.3 425.6 L174.4 425.5 L183.3 425.4 L192.0 425.2 L200.7 424.9 L209.5 424.5 L218.2 424.0 L226.4 423.5 L233.8 423.0 L240.0 422.6 L244.8 422.3 L248.4 421.9 L251.2 421.7 L253.6 421.4 L256.0 421.1 L258.8 420.8 L261.9 420.5 L265.1 420.1 L268.2 419.8 L271.3 419.5 L274.5 419.2 L277.6 418.9 L280.7 418.7 L283.9 418.4 L287.1 418.2 L290.2 418.0 L293.4 417.9 L296.5 417.9 L299.6 418.0 L302.8 418.2 L305.9 418.4 L309.0 418.8 L312.2 419.1 L315.3 419.5 L318.5 420.0 L321.9 420.5 L325.3 421.1 L328.5 421.7 L331.5 422.2 L334.1 422.6 L336.3 422.9 L338.0 423.1 L339.6 423.3 L341.0 423.4 L342.5 423.4 L344.1 423.3 L345.9 423.1 L347.7 422.8 L349.6 422.3 L351.5 421.8 L353.4 421.3 L355.4 420.8 L357.4 420.2 L359.4 419.5 L361.4 418.8 L363.5 418.1 L365.7 417.5 L368.0 417.0 L370.4 416.6 L373.0 416.3 L375.6 416.1 L378.3 415.9 L381.2 415.8 L384.3 415.7 L387.6 415.7 L391.0 415.8 L394.6 416.0 L398.3 416.2 L402.1 416.3 L406.0 416.4 L410.1 416.3 L414.4 416.2 L418.9 416.0 L423.3 415.8 L427.5 415.7 L431.4 415.7 L434.8 415.8 L437.9 415.9 L440.8 416.1 L443.7 416.4 L446.8 416.7 L450.2 417.0 L454.1 417.4 L458.3 417.9 L462.8 418.5 L467.2 419.0 L471.4 419.6 L475.3 420.1 L478.7 420.6 L481.6 421.0 L484.3 421.5 L487.1 421.9 L490.3 422.3 L494.1 422.6 L498.5 422.8 L503.3 423.0 L508.4 423.1 L513.9 423.1 L519.6 423.2 L525.5 423.3 L531.4 423.4 L537.4 423.6 L543.7 423.7 L550.4 423.8 L557.8 423.9 L566.0 423.9 L576.1 423.8 L588.1 423.7 L600.7 423.5 L612.7 423.3 L623.0 423.1 L630.3 423.0"/>
<path d="M664.1 422.6 L667.9 422.6 L673.3 422.5 L679.7 422.5 L686.3 422.5 L692.6 422.5 L698.0 422.6 L702.5 422.8 L706.7 423.1 L710.5 423.4 L714.0 423.8 L717.2 424.2 L720.0 424.5 L722.3 424.9 L724.0 425.3 L725.4 425.7 L726.7 426.0 L728.2 426.3 L730.0 426.4 L732.0 426.3 L734.0 426.0 L736.2 425.6 L738.6 425.2 L741.5 424.8 L745.0 424.5 L749.0 424.3 L753.4 424.2 L758.2 424.0 L763.5 424.0 L769.6 423.9 L776.5 423.9 L784.5 423.9 L793.6 424.0 L803.4 424.1 L813.5 424.2 L823.5 424.3 L833.0 424.5 L842.0 424.7 L850.8 424.9 L859.5 425.2 L868.2 425.4 L877.0 425.6 L886.0 425.8 L895.2 425.9 L904.4 426.0 L913.7 426.1 L923.2 426.1 L932.9 426.2 L942.7 426.2 L953.1 426.3 L964.0 426.3 L975.1 426.4 L986.0 426.5 L996.3 426.5 L1005.5 426.4 L1013.4 426.3 L1020.3 426.0 L1026.5 425.8 L1032.6 425.5 L1038.9 425.2 L1046.0 425.0 L1053.8 424.8 L1061.9 424.6 L1070.3 424.4 L1078.9 424.3 L1087.6 424.1 L1096.5 424.1 L1105.6 424.1 L1115.1 424.2 L1124.7 424.3 L1134.3 424.5 L1143.8 424.7 L1152.9 424.9 L1162.3 425.2 L1172.1 425.6 L1181.7 426.0 L1190.6 426.4 L1198.1 426.8 L1203.5 427.0"/>
<path d="M85.5 429.8 L93.5 429.8 L104.6 429.8 L117.8 429.7 L132.0 429.7 L146.4 429.6 L160.0 429.5 L173.7 429.4 L188.5 429.2 L203.5 429.0 L217.7 428.7 L230.1 428.5 L240.0 428.3 L246.7 428.1 L250.8 428.0 L253.2 427.8 L254.8 427.6 L256.4 427.4 L258.8 427.0 L261.9 426.5 L265.1 425.8 L268.2 425.1 L271.3 424.4 L274.5 423.8 L277.6 423.3 L280.8 423.0 L284.1 422.7 L287.4 422.6 L290.7 422.5 L293.7 422.5 L296.5 422.6 L299.0 422.8 L301.1 423.2 L303.1 423.6 L305.1 424.1 L307.0 424.7 L309.0 425.2 L311.0 425.8 L312.8 426.4 L314.7 427.1 L316.7 427.8 L318.9 428.4 L321.6 428.9 L324.9 429.4 L328.9 429.8 L333.1 430.2 L337.2 430.6 L341.0 430.8 L344.1 430.8 L346.3 430.7 L347.9 430.4 L349.1 429.9 L350.2 429.4 L351.4 428.9 L352.9 428.3 L354.8 427.6 L356.8 426.9 L359.0 426.1 L361.2 425.3 L363.4 424.5 L365.5 423.9 L367.6 423.4 L369.7 423.0 L371.7 422.6 L373.8 422.4 L375.9 422.1 L378.0 422.0 L380.1 421.9 L382.1 421.9 L384.1 422.0 L386.2 422.2 L388.3 422.4 L390.6 422.6 L393.0 423.0 L395.6 423.5 L398.3 424.1 L401.0 424.6 L403.6 425.0 L406.0 425.2 L408.2 425.0 L410.2 424.6 L412.2 424.1 L414.2 423.5 L416.3 422.9 L418.8 422.6 L421.6 422.4 L424.6 422.4 L427.8 422.4 L431.1 422.4 L434.4 422.5 L437.6 422.6 L440.7 422.7 L443.9 422.9 L447.1 423.1 L450.2 423.4 L453.4 423.6 L456.5 423.9 L459.6 424.2 L462.5 424.5 L465.5 424.8 L468.6 425.1 L471.8 425.5 L475.3 425.8 L479.1 426.1 L483.2 426.5 L487.5 426.8 L491.8 427.2 L496.1 427.5 L500.4 427.7 L504.4 427.9 L508.2 428.0 L512.0 428.1 L516.0 428.1 L520.4 428.2 L525.5 428.3 L531.1 428.5 L537.0 428.6 L543.3 428.8 L550.2 429.0 L557.7 429.2 L566.0 429.2 L576.1 429.1 L588.1 429.0 L600.7 428.8 L612.7 428.6 L623.0 428.4 L630.3 428.3"/>
<path d="M664.1 429.5 L670.2 429.4 L678.8 429.3 L688.9 429.2 L699.7 429.1 L710.4 429.0 L720.0 428.9 L727.9 428.9 L734.7 428.8 L741.2 428.8 L748.7 428.9 L757.9 428.9 L770.0 428.9 L786.1 428.9 L805.5 428.9 L826.8 429.0 L848.3 429.0 L868.6 429.1 L886.0 429.2 L900.0 429.4 L911.8 429.6 L922.2 429.9 L932.3 430.1 L943.1 430.3 L955.3 430.4 L969.4 430.3 L984.8 430.1 L1000.7 429.9 L1016.6 429.6 L1031.9 429.4 L1046.0 429.2 L1059.0 429.1 L1071.3 429.0 L1083.0 428.9 L1094.2 428.9 L1104.8 428.9 L1115.0 428.9 L1124.6 428.9 L1133.7 429.0 L1142.2 429.1 L1150.3 429.2 L1158.0 429.3 L1165.5 429.5 L1173.0 429.7 L1180.5 429.9 L1187.7 430.2 L1194.1 430.4 L1199.5 430.7 L1203.5 430.8"/>
<path d="M85.5 432.7 L93.5 432.7 L104.6 432.6 L117.8 432.6 L132.0 432.5 L146.4 432.5 L160.0 432.5 L173.6 432.5 L188.1 432.6 L202.8 432.7 L216.8 432.7 L229.5 432.7 L240.0 432.7 L248.2 432.6 L254.8 432.3 L260.0 432.1 L264.1 431.8 L267.3 431.6 L270.0 431.4"/>
<path d="M370.5 437.7 L370.5 437.2 L370.4 436.5 L370.3 435.8 L370.2 434.9 L370.2 434.2 L370.3 433.5 L370.4 433.0 L370.6 432.5 L370.8 432.1 L371.0 431.7 L371.4 431.3 L372.0 431.0 L372.7 430.7 L373.4 430.4 L374.3 430.1 L375.4 429.8 L376.6 429.6 L378.0 429.4 L379.7 429.3 L381.6 429.2 L383.7 429.1 L385.9 429.0 L388.3 429.0 L390.6 428.9 L393.1 428.8 L395.9 428.7 L398.7 428.5 L401.4 428.4 L403.9 428.3 L406.0 428.3 L407.2 428.3 L407.7 428.4 L407.9 428.5 L408.4 428.7 L409.7 428.8 L412.5 428.9 L417.0 429.0 L422.8 429.0 L429.4 429.0 L436.5 429.0 L443.6 429.1 L450.2 429.2 L456.5 429.3 L462.7 429.5 L469.0 429.7 L475.3 430.0 L481.5 430.2 L487.8 430.4 L494.0 430.6 L500.3 430.8 L506.5 431.1 L512.7 431.3 L519.1 431.5 L525.5 431.7 L531.8 431.9 L538.0 432.0 L544.2 432.2 L550.8 432.3 L558.0 432.4 L566.0 432.4 L575.8 432.4 L587.3 432.3 L599.4 432.2 L611.0 432.1 L620.8 432.1 L627.8 432.0"/>
<path d="M667.9 434.9 L671.2 434.7 L675.8 434.5 L681.2 434.1 L687.0 433.8 L692.8 433.5 L698.0 433.3 L702.6 433.1 L706.9 433.0 L711.1 432.8 L715.6 432.7 L720.4 432.6 L726.0 432.5 L731.6 432.4 L736.8 432.2 L742.5 432.1 L749.4 432.0 L758.3 432.0 L770.0 432.0 L785.6 432.1 L804.6 432.3 L825.6 432.5 L847.2 432.8 L867.8 433.0 L886.0 433.3 L901.7 433.6 L915.9 433.9 L929.3 434.2 L942.1 434.6 L954.8 434.8 L967.8 434.9 L981.0 434.9 L994.0 434.7 L1006.9 434.5 L1019.8 434.2 L1032.8 434.0 L1046.0 433.8 L1059.5 433.6 L1073.2 433.5 L1087.1 433.3 L1100.9 433.2 L1114.5 433.1 L1127.8 433.1 L1141.6 433.2 L1156.3 433.5 L1170.8 433.8 L1184.1 434.1 L1195.3 434.4 L1203.5 434.6"/>
<path d="M278.3 439.0 L286.0 440.3 L294.0 440.8"/>
<path d="M294.0 442.7 L294.0 446.0"/>
<path d="M1203.5 116.2 L1199.0 118.2 L1197.4 120.4"/>
<path d="M1198.4 133.0 L1200.5 136.5 L1203.5 138.6"/>
<path d="M100.0 61.2 L114.0 61.6 L128.0 62.2"/>
<path d="M190.0 61.2 L213.0 61.6 L236.0 62.2"/>
<path d="M250.0 61.2 L270.0 61.6 L290.0 62.2"/>
<path d="M398.0 61.2 L410.0 61.6 L422.0 62.2"/>
<path d="M455.0 61.2 L472.5 61.6 L490.0 62.2"/>
</g>
<path d="M82.5 59.2 L102.0 59.2 L102.0 61.5 L82.5 61.5 Z M155.4 61.5 L132.4 61.5 L133.5 63.8 L122.0 60.4 L133.5 56.9 L132.4 59.2 L155.4 59.2 Z M207.7 61.5 L186.6 61.5 L187.8 63.8 L176.3 60.4 L187.8 56.9 L186.6 59.2 L207.7 59.2 Z M260.4 61.5 L240.4 61.5 L241.5 63.8 L230.0 60.4 L241.5 56.9 L240.4 59.2 L260.4 59.2 Z M313.7 61.5 L293.6 61.5 L294.8 63.8 L283.3 60.4 L294.8 56.9 L293.6 59.2 L313.7 59.2 Z M366.9 61.5 L346.8 61.5 L348.0 63.8 L336.5 60.4 L348.0 56.9 L346.8 59.2 L366.9 59.2 Z M420.1 61.5 L400.1 61.5 L401.2 63.8 L389.7 60.4 L401.2 56.9 L400.1 59.2 L420.1 59.2 Z M473.4 61.5 L453.3 61.5 L454.5 63.8 L443.0 60.4 L454.5 56.9 L453.3 59.2 L473.4 59.2 Z M526.6 61.5 L506.6 61.5 L507.7 63.8 L496.2 60.4 L507.7 56.9 L506.6 59.2 L526.6 59.2 Z M579.8 61.5 L559.8 61.5 L560.9 63.8 L549.4 60.4 L560.9 56.9 L559.8 59.2 L579.8 59.2 Z M633.1 61.5 L613.0 61.5 L614.2 63.8 L602.7 60.4 L614.2 56.9 L613.0 59.2 L633.1 59.2 Z M686.1 61.5 L666.5 61.5 L667.7 63.8 L656.2 60.4 L667.7 56.9 L666.5 59.2 L686.1 59.2 Z M739.6 61.5 L719.5 61.5 L720.7 63.8 L709.2 60.4 L720.7 56.9 L719.5 59.2 L739.6 59.2 Z M792.3 61.5 L773.2 61.5 L774.4 63.8 L762.9 60.4 L774.4 56.9 L773.2 59.2 L792.3 59.2 Z M846.0 61.5 L826.0 61.5 L827.1 63.8 L815.6 60.4 L827.1 56.9 L826.0 59.2 L846.0 59.2 Z M899.8 61.5 L878.7 61.5 L879.9 63.8 L868.4 60.4 L879.9 56.9 L878.7 59.2 L899.8 59.2 Z M954.0 61.5 L931.0 61.5 L932.1 63.8 L920.6 60.4 L932.1 56.9 L931.0 59.2 L954.0 59.2 Z M1008.5 61.5 L982.9 61.5 L984.1 63.8 L972.6 60.4 L984.1 56.9 L982.9 59.2 L1008.5 59.2 Z M1061.2 61.5 L1036.7 61.5 L1037.8 63.8 L1026.3 60.4 L1037.8 56.9 L1036.7 59.2 L1061.2 59.2 Z M1114.0 61.5 L1090.4 61.5 L1091.6 63.8 L1080.1 60.4 L1091.6 56.9 L1090.4 59.2 L1114.0 59.2 Z M1167.5 61.5 L1143.4 61.5 L1144.6 63.8 L1133.1 60.4 L1144.6 56.9 L1143.4 59.2 L1167.5 59.2 Z M1220.7 61.5 L1196.7 61.5 L1197.8 63.8 L1186.3 60.4 L1197.8 56.9 L1196.7 59.2 L1220.7 59.2 Z M82.5 79.1 L97.0 79.1 L97.0 81.4 L82.5 81.4 Z M149.3 81.4 L138.5 81.4 L139.6 83.7 L128.1 80.3 L139.6 76.8 L138.5 79.1 L149.3 79.1 Z M202.4 81.4 L191.9 81.4 L193.0 83.7 L181.5 80.3 L193.0 76.8 L191.9 79.1 L202.4 79.1 Z M255.7 81.4 L245.1 81.4 L246.3 83.7 L234.8 80.3 L246.3 76.8 L245.1 79.1 L255.7 79.1 Z M308.2 81.4 L299.1 81.4 L300.2 83.7 L288.7 80.3 L300.2 76.8 L299.1 79.1 L308.2 79.1 Z M361.9 81.4 L351.8 81.4 L353.0 83.7 L341.5 80.3 L353.0 76.8 L351.8 79.1 L361.9 79.1 Z M415.4 81.4 L404.8 81.4 L406.0 83.7 L394.5 80.3 L406.0 76.8 L404.8 79.1 L415.4 79.1 Z M468.6 81.4 L458.1 81.4 L459.2 83.7 L447.7 80.3 L459.2 76.8 L458.1 79.1 L468.6 79.1 Z M522.4 81.4 L510.8 81.4 L512.0 83.7 L500.5 80.3 L512.0 76.8 L510.8 79.1 L522.4 79.1 Z M575.1 81.4 L564.5 81.4 L565.7 83.7 L554.2 80.3 L565.7 76.8 L564.5 79.1 L575.1 79.1 Z M628.3 81.4 L617.8 81.4 L618.9 83.7 L607.4 80.3 L618.9 76.8 L617.8 79.1 L628.3 79.1 Z M682.1 81.4 L670.5 81.4 L671.7 83.7 L660.2 80.3 L671.7 76.8 L670.5 79.1 L682.1 79.1 Z M735.3 81.4 L723.8 81.4 L724.9 83.7 L713.4 80.3 L724.9 76.8 L723.8 79.1 L735.3 79.1 Z M788.5 81.4 L777.0 81.4 L778.1 83.7 L766.6 80.3 L778.1 76.8 L777.0 79.1 L788.5 79.1 Z M841.3 81.4 L830.7 81.4 L831.9 83.7 L820.4 80.3 L831.9 76.8 L830.7 79.1 L841.3 79.1 Z M895.5 81.4 L883.0 81.4 L884.1 83.7 L872.6 80.3 L884.1 76.8 L883.0 79.1 L895.5 79.1 Z M948.9 81.4 L936.1 81.4 L937.3 83.7 L925.8 80.3 L937.3 76.8 L936.1 79.1 L948.9 79.1 Z M1003.6 81.4 L987.8 81.4 L988.9 83.7 L977.4 80.3 L988.9 76.8 L987.8 79.1 L1003.6 79.1 Z M1057.4 81.4 L1040.5 81.4 L1041.6 83.7 L1030.1 80.3 L1041.6 76.8 L1040.5 79.1 L1057.4 79.1 Z M1110.8 81.4 L1093.6 81.4 L1094.8 83.7 L1083.3 80.3 L1094.8 76.8 L1093.6 79.1 L1110.8 79.1 Z M1164.4 81.4 L1146.5 81.4 L1147.6 83.7 L1136.1 80.3 L1147.6 76.8 L1146.5 79.1 L1164.4 79.1 Z M1217.7 81.4 L1199.7 81.4 L1200.8 83.7 L1189.3 80.3 L1200.8 76.8 L1199.7 79.1 L1217.7 79.1 Z M82.5 98.4 L94.7 98.4 L94.7 100.7 L82.5 100.7 Z M147.4 100.7 L140.4 100.7 L141.5 103.0 L130.0 99.5 L141.5 96.1 L140.4 98.4 L147.4 98.4 Z M200.4 100.7 L193.9 100.7 L195.0 103.0 L183.5 99.5 L195.0 96.1 L193.9 98.4 L200.4 98.4 Z M253.6 100.7 L247.2 100.7 L248.4 103.0 L236.9 99.5 L248.4 96.1 L247.2 98.4 L253.6 98.4 Z M306.5 100.7 L300.8 100.7 L301.9 103.0 L290.4 99.5 L301.9 96.1 L300.8 98.4 L306.5 98.4 Z M359.7 100.7 L354.0 100.7 L355.1 103.0 L343.6 99.5 L355.1 96.1 L354.0 98.4 L359.7 98.4 Z M413.0 100.7 L407.2 100.7 L408.4 103.0 L396.9 99.5 L408.4 96.1 L407.2 98.4 L413.0 98.4 Z M466.3 100.7 L460.4 100.7 L461.5 103.0 L450.0 99.5 L461.5 96.1 L460.4 98.4 L466.3 98.4 Z M519.7 100.7 L513.5 100.7 L514.7 103.0 L503.2 99.5 L514.7 96.1 L513.5 98.4 L519.7 98.4 Z M573.0 100.7 L566.6 100.7 L567.8 103.0 L556.3 99.5 L567.8 96.1 L566.6 98.4 L573.0 98.4 Z M626.3 100.7 L619.8 100.7 L620.9 103.0 L609.4 99.5 L620.9 96.1 L619.8 98.4 L626.3 98.4 Z M679.5 100.7 L673.1 100.7 L674.3 103.0 L662.8 99.5 L674.3 96.1 L673.1 98.4 L679.5 98.4 Z M732.7 100.7 L726.4 100.7 L727.5 103.0 L716.0 99.5 L727.5 96.1 L726.4 98.4 L732.7 98.4 Z M786.5 100.7 L779.0 100.7 L780.2 103.0 L768.7 99.5 L780.2 96.1 L779.0 98.4 L786.5 98.4 Z M839.7 100.7 L832.3 100.7 L833.4 103.0 L821.9 99.5 L833.4 96.1 L832.3 98.4 L839.7 98.4 Z M893.5 100.7 L885.0 100.7 L886.1 103.0 L874.6 99.5 L886.1 96.1 L885.0 98.4 L893.5 98.4 Z M947.3 100.7 L937.7 100.7 L938.9 103.0 L927.4 99.5 L938.9 96.1 L937.7 98.4 L947.3 98.4 Z M1001.5 100.7 L989.9 100.7 L991.1 103.0 L979.6 99.5 L991.1 96.1 L989.9 98.4 L1001.5 98.4 Z M1055.5 100.7 L1042.4 100.7 L1043.5 103.0 L1032.0 99.5 L1043.5 96.1 L1042.4 98.4 L1055.5 98.4 Z M1109.5 100.7 L1094.9 100.7 L1096.1 103.0 L1084.6 99.5 L1096.1 96.1 L1094.9 98.4 L1109.5 98.4 Z M1162.9 100.7 L1148.0 100.7 L1149.1 103.0 L1137.6 99.5 L1149.1 96.1 L1148.0 98.4 L1162.9 98.4 Z M1215.5 100.7 L1201.9 100.7 L1203.0 103.0 L1191.5 99.5 L1203.0 96.1 L1201.9 98.4 L1215.5 98.4 Z M82.5 117.6 L96.3 117.6 L96.3 119.9 L82.5 119.9 Z M149.1 119.9 L138.7 119.9 L139.9 122.2 L128.4 118.8 L139.9 115.3 L138.7 117.6 L149.1 117.6 Z M201.9 119.9 L192.4 119.9 L193.5 122.2 L182.0 118.8 L193.5 115.3 L192.4 117.6 L201.9 117.6 Z M255.2 119.9 L245.6 119.9 L246.8 122.2 L235.3 118.8 L246.8 115.3 L245.6 117.6 L255.2 117.6 Z M308.2 119.9 L299.1 119.9 L300.2 122.2 L288.7 118.8 L300.2 115.3 L299.1 117.6 L308.2 117.6 Z M361.1 119.9 L352.6 119.9 L353.7 122.2 L342.2 118.8 L353.7 115.3 L352.6 117.6 L361.1 117.6 Z M414.1 119.9 L406.1 119.9 L407.2 122.2 L395.7 118.8 L407.2 115.3 L406.1 117.6 L414.1 117.6 Z M467.4 119.9 L459.3 119.9 L460.5 122.2 L449.0 118.8 L460.5 115.3 L459.3 117.6 L467.4 117.6 Z M520.5 119.9 L512.7 119.9 L513.8 122.2 L502.3 118.8 L513.8 115.3 L512.7 117.6 L520.5 117.6 Z M573.7 119.9 L565.9 119.9 L567.0 122.2 L555.5 118.8 L567.0 115.3 L565.9 117.6 L573.7 117.6 Z M626.8 119.9 L619.3 119.9 L620.5 122.2 L609.0 118.8 L620.5 115.3 L619.3 117.6 L626.8 117.6 Z M679.8 119.9 L672.8 119.9 L673.9 122.2 L662.4 118.8 L673.9 115.3 L672.8 117.6 L679.8 117.6 Z M733.1 119.9 L726.0 119.9 L727.2 122.2 L715.7 118.8 L727.2 115.3 L726.0 117.6 L733.1 117.6 Z M786.5 119.9 L779.0 119.9 L780.2 122.2 L768.7 118.8 L780.2 115.3 L779.0 117.6 L786.5 117.6 Z M839.7 119.9 L832.3 119.9 L833.4 122.2 L821.9 118.8 L833.4 115.3 L832.3 117.6 L839.7 117.6 Z M893.7 119.9 L884.8 119.9 L885.9 122.2 L874.4 118.8 L885.9 115.3 L884.8 117.6 L893.7 117.6 Z M947.3 119.9 L937.7 119.9 L938.9 122.2 L927.4 118.8 L938.9 115.3 L937.7 117.6 L947.3 117.6 Z M1000.5 119.9 L990.9 119.9 L992.1 122.2 L980.6 118.8 L992.1 115.3 L990.9 117.6 L1000.5 117.6 Z M1054.2 119.9 L1043.7 119.9 L1044.8 122.2 L1033.3 118.8 L1044.8 115.3 L1043.7 117.6 L1054.2 117.6 Z M1107.4 119.9 L1097.0 119.9 L1098.2 122.2 L1086.7 118.8 L1098.2 115.3 L1097.0 117.6 L1107.4 117.6 Z M1161.1 119.9 L1149.8 119.9 L1151.0 122.2 L1139.5 118.8 L1151.0 115.3 L1149.8 117.6 L1161.1 117.6 Z M1215.5 119.9 L1201.9 119.9 L1203.0 122.2 L1191.5 118.8 L1203.0 115.3 L1201.9 117.6 L1215.5 117.6 Z M82.5 136.9 L98.9 136.9 L98.9 139.2 L82.5 139.2 Z M151.6 139.2 L136.2 139.2 L137.3 141.5 L125.8 138.1 L137.3 134.6 L136.2 136.9 L151.6 136.9 Z M203.9 139.2 L190.4 139.2 L191.5 141.5 L180.0 138.1 L191.5 134.6 L190.4 136.9 L203.9 136.9 Z M256.2 139.2 L244.6 139.2 L245.8 141.5 L234.3 138.1 L245.8 134.6 L244.6 136.9 L256.2 136.9 Z M308.4 139.2 L298.9 139.2 L300.0 141.5 L288.5 138.1 L300.0 134.6 L298.9 136.9 L308.4 136.9 Z M361.8 139.2 L351.9 139.2 L353.1 141.5 L341.6 138.1 L353.1 134.6 L351.9 136.9 L361.8 136.9 Z M415.2 139.2 L405.0 139.2 L406.2 141.5 L394.7 138.1 L406.2 134.6 L405.0 136.9 L415.2 136.9 Z M468.4 139.2 L458.3 139.2 L459.4 141.5 L447.9 138.1 L459.4 134.6 L458.3 136.9 L468.4 136.9 Z M521.4 139.2 L511.8 139.2 L513.0 141.5 L501.5 138.1 L513.0 134.6 L511.8 136.9 L521.4 136.9 Z M574.8 139.2 L564.8 139.2 L566.0 141.5 L554.5 138.1 L566.0 134.6 L564.8 136.9 L574.8 136.9 Z M628.0 139.2 L618.1 139.2 L619.2 141.5 L607.7 138.1 L619.2 134.6 L618.1 136.9 L628.0 136.9 Z M680.9 139.2 L671.7 139.2 L672.9 141.5 L661.4 138.1 L672.9 134.6 L671.7 136.9 L680.9 136.9 Z M734.0 139.2 L725.1 139.2 L726.2 141.5 L714.7 138.1 L726.2 134.6 L725.1 136.9 L734.0 136.9 Z M787.5 139.2 L778.0 139.2 L779.1 141.5 L767.6 138.1 L779.1 134.6 L778.0 136.9 L787.5 136.9 Z M841.1 139.2 L830.9 139.2 L832.1 141.5 L820.6 138.1 L832.1 134.6 L830.9 136.9 L841.1 136.9 Z M894.5 139.2 L884.0 139.2 L885.1 141.5 L873.6 138.1 L885.1 134.6 L884.0 136.9 L894.5 136.9 Z M947.5 139.2 L937.5 139.2 L938.6 141.5 L927.1 138.1 L938.6 134.6 L937.5 136.9 L947.5 136.9 Z M1000.5 139.2 L990.9 139.2 L992.1 141.5 L980.6 138.1 L992.1 134.6 L990.9 136.9 L1000.5 136.9 Z M1053.5 139.2 L1044.4 139.2 L1045.5 141.5 L1034.0 138.1 L1045.5 134.6 L1044.4 136.9 L1053.5 136.9 Z M1106.6 139.2 L1097.8 139.2 L1099.0 141.5 L1087.5 138.1 L1099.0 134.6 L1097.8 136.9 L1106.6 136.9 Z M1160.0 139.2 L1150.9 139.2 L1152.1 141.5 L1140.6 138.1 L1152.1 134.6 L1150.9 136.9 L1160.0 136.9 Z M1213.5 139.2 L1203.9 139.2 L1205.0 141.5 L1193.5 138.1 L1205.0 134.6 L1203.9 136.9 L1213.5 136.9 Z M82.5 156.2 L96.0 156.2 L96.0 158.5 L82.5 158.5 Z M149.1 158.5 L138.7 158.5 L139.9 160.8 L128.4 157.3 L139.9 153.9 L138.7 156.2 L149.1 156.2 Z M201.4 158.5 L192.9 158.5 L194.0 160.8 L182.5 157.3 L194.0 153.9 L192.9 156.2 L201.4 156.2 Z M254.5 158.5 L246.3 158.5 L247.4 160.8 L235.9 157.3 L247.4 153.9 L246.3 156.2 L254.5 156.2 Z M307.4 158.5 L299.9 158.5 L301.1 160.8 L289.6 157.3 L301.1 153.9 L299.9 156.2 L307.4 156.2 Z M360.0 158.5 L353.7 158.5 L354.8 160.8 L343.3 157.3 L354.8 153.9 L353.7 156.2 L360.0 156.2 Z M412.8 158.5 L407.4 158.5 L408.6 160.8 L397.1 157.3 L408.6 153.9 L407.4 156.2 L412.8 156.2 Z M465.5 158.5 L461.2 158.5 L462.4 160.8 L450.9 157.3 L462.4 153.9 L461.2 156.2 L465.5 156.2 Z M519.1 158.5 L514.1 158.5 L515.3 160.8 L503.8 157.3 L515.3 153.9 L514.1 156.2 L519.1 156.2 Z M572.8 158.5 L566.8 158.5 L568.0 160.8 L556.5 157.3 L568.0 153.9 L566.8 156.2 L572.8 156.2 Z M626.3 158.5 L619.8 158.5 L620.9 160.8 L609.4 157.3 L620.9 153.9 L619.8 156.2 L626.3 156.2 Z M680.0 158.5 L672.6 158.5 L673.7 160.8 L662.2 157.3 L673.7 153.9 L672.6 156.2 L680.0 156.2 Z M733.6 158.5 L725.5 158.5 L726.7 160.8 L715.2 157.3 L726.7 153.9 L725.5 156.2 L733.6 156.2 Z M787.0 158.5 L778.5 158.5 L779.6 160.8 L768.1 157.3 L779.6 153.9 L778.5 156.2 L787.0 156.2 Z M840.5 158.5 L831.5 158.5 L832.7 160.8 L821.2 157.3 L832.7 153.9 L831.5 156.2 L840.5 156.2 Z M894.0 158.5 L884.5 158.5 L885.6 160.8 L874.1 157.3 L885.6 153.9 L884.5 156.2 L894.0 156.2 Z M947.6 158.5 L937.4 158.5 L938.6 160.8 L927.1 157.3 L938.6 153.9 L937.4 156.2 L947.6 156.2 Z M1000.5 158.5 L990.9 158.5 L992.1 160.8 L980.6 157.3 L992.1 153.9 L990.9 156.2 L1000.5 156.2 Z M1053.5 158.5 L1044.4 158.5 L1045.5 160.8 L1034.0 157.3 L1045.5 153.9 L1044.4 156.2 L1053.5 156.2 Z M1105.7 158.5 L1098.7 158.5 L1099.9 160.8 L1088.4 157.3 L1099.9 153.9 L1098.7 156.2 L1105.7 156.2 Z M1157.5 158.5 L1153.4 158.5 L1154.6 160.8 L1143.1 157.3 L1154.6 153.9 L1153.4 156.2 L1157.5 156.2 Z M1212.5 158.5 L1204.9 158.5 L1206.0 160.8 L1194.5 157.3 L1206.0 153.9 L1204.9 156.2 L1212.5 156.2 Z M92.7 177.7 L88.7 177.7 L89.8 180.0 L78.3 176.6 L89.8 173.1 L88.7 175.4 L92.7 175.4 Z M146.0 177.7 L141.8 177.7 L142.9 180.0 L131.4 176.6 L142.9 173.1 L141.8 175.4 L146.0 175.4 Z M199.3 177.7 L195.0 177.7 L196.2 180.0 L184.7 176.6 L196.2 173.1 L195.0 175.4 L199.3 175.4 Z M252.2 177.7 L248.6 177.7 L249.8 180.0 L238.3 176.6 L249.8 173.1 L248.6 175.4 L252.2 175.4 Z M304.7 177.7 L302.6 177.7 L303.7 180.0 L292.2 176.6 L303.7 173.1 L302.6 175.4 L304.7 175.4 Z M357.4 177.7 L356.3 177.7 L357.4 180.0 L345.9 176.6 L357.4 173.1 L356.3 175.4 L357.4 175.4 Z M409.9 177.6 L408.9 177.6 L409.9 179.6 L400.0 176.6 L409.9 173.6 L408.9 175.6 L409.9 175.6 Z M463.1 177.6 L462.1 177.6 L463.1 179.5 L453.3 176.6 L463.1 173.7 L462.1 175.6 L463.1 175.6 Z M516.3 177.6 L515.3 177.6 L516.3 179.5 L506.5 176.6 L516.3 173.7 L515.3 175.6 L516.3 175.6 Z M569.3 177.5 L568.4 177.5 L569.3 179.4 L560.0 176.6 L569.3 173.8 L568.4 175.7 L569.3 175.7 Z M623.6 177.7 L622.5 177.7 L623.6 180.0 L612.1 176.6 L623.6 173.1 L622.5 175.4 L623.6 175.4 Z M678.6 177.7 L674.0 177.7 L675.2 180.0 L663.7 176.6 L675.2 173.1 L674.0 175.4 L678.6 175.4 Z M732.0 177.7 L727.1 177.7 L728.2 180.0 L716.7 176.6 L728.2 173.1 L727.1 175.4 L732.0 175.4 Z M785.7 177.7 L779.8 177.7 L780.9 180.0 L769.4 176.6 L780.9 173.1 L779.8 175.4 L785.7 175.4 Z M838.7 177.7 L833.3 177.7 L834.5 180.0 L823.0 176.6 L834.5 173.1 L833.3 175.4 L838.7 175.4 Z M892.4 177.7 L886.1 177.7 L887.2 180.0 L875.7 176.6 L887.2 173.1 L886.1 175.4 L892.4 175.4 Z M945.5 177.7 L939.5 177.7 L940.7 180.0 L929.2 176.6 L940.7 173.1 L939.5 175.4 L945.5 175.4 Z M999.4 177.7 L992.0 177.7 L993.1 180.0 L981.6 176.6 L993.1 173.1 L992.0 175.4 L999.4 175.4 Z M1052.4 177.7 L1045.5 177.7 L1046.7 180.0 L1035.2 176.6 L1046.7 173.1 L1045.5 175.4 L1052.4 175.4 Z M1105.4 177.7 L1099.0 177.7 L1100.2 180.0 L1088.7 176.6 L1100.2 173.1 L1099.0 175.4 L1105.4 175.4 Z M1157.8 177.7 L1153.1 177.7 L1154.2 180.0 L1142.7 176.6 L1154.2 173.1 L1153.1 175.4 L1157.8 175.4 Z M1211.0 177.7 L1206.4 177.7 L1207.5 180.0 L1196.0 176.6 L1207.5 173.1 L1206.4 175.4 L1211.0 175.4 Z M90.0 196.8 L89.1 196.8 L90.0 198.5 L81.0 195.9 L90.0 193.2 L89.1 195.0 L90.0 195.0 Z M143.3 196.8 L142.4 196.8 L143.3 198.6 L134.2 195.9 L143.3 193.1 L142.4 195.0 L143.3 195.0 Z M196.6 196.8 L195.7 196.8 L196.6 198.7 L187.3 195.9 L196.6 193.1 L195.7 194.9 L196.6 194.9 Z M249.7 196.8 L248.8 196.8 L249.7 198.5 L240.8 195.9 L249.7 193.2 L248.8 195.0 L249.7 195.0 Z M302.1 196.6 L301.4 196.6 L302.1 198.1 L294.8 195.9 L302.1 193.7 L301.4 195.1 L302.1 195.1 Z M354.9 196.5 L354.3 196.5 L354.9 197.8 L348.4 195.9 L354.9 193.9 L354.3 195.2 L354.9 195.2 Z M408.3 196.5 L407.6 196.5 L408.3 197.9 L401.5 195.9 L408.3 193.8 L407.6 195.2 L408.3 195.2 Z M461.5 196.5 L460.8 196.5 L461.5 197.8 L454.9 195.9 L461.5 193.9 L460.8 195.2 L461.5 195.2 Z M514.8 196.5 L514.1 196.5 L514.8 197.9 L508.0 195.9 L514.8 193.8 L514.1 195.2 L514.8 195.2 Z M568.3 196.6 L567.6 196.6 L568.3 198.1 L561.0 195.9 L568.3 193.7 L567.6 195.1 L568.3 195.1 Z M622.0 196.7 L621.2 196.7 L622.0 198.4 L613.7 195.9 L622.0 193.4 L621.2 195.0 L622.0 195.0 Z M676.1 196.9 L675.1 196.9 L676.1 198.8 L666.2 195.9 L676.1 192.9 L675.1 194.9 L676.1 194.9 Z M730.1 197.0 L729.0 197.0 L730.1 199.3 L718.6 195.9 L730.1 192.4 L729.0 194.7 L730.1 194.7 Z M784.0 197.0 L781.5 197.0 L782.6 199.3 L771.1 195.9 L782.6 192.4 L781.5 194.7 L784.0 194.7 Z M837.4 197.0 L834.6 197.0 L835.8 199.3 L824.3 195.9 L835.8 192.4 L834.6 194.7 L837.4 194.7 Z M890.6 197.0 L887.9 197.0 L889.0 199.3 L877.5 195.9 L889.0 192.4 L887.9 194.7 L890.6 194.7 Z M944.1 197.0 L940.9 197.0 L942.0 199.3 L930.5 195.9 L942.0 192.4 L940.9 194.7 L944.1 194.7 Z M997.6 197.0 L993.8 197.0 L994.9 199.3 L983.4 195.9 L994.9 192.4 L993.8 194.7 L997.6 194.7 Z M1051.1 197.0 L1046.8 197.0 L1048.0 199.3 L1036.5 195.9 L1048.0 192.4 L1046.8 194.7 L1051.1 194.7 Z M1104.9 197.0 L1099.5 197.0 L1100.7 199.3 L1089.2 195.9 L1100.7 192.4 L1099.5 194.7 L1104.9 194.7 Z M1158.1 197.0 L1152.8 197.0 L1153.9 199.3 L1142.4 195.9 L1153.9 192.4 L1152.8 194.7 L1158.1 194.7 Z M1212.5 197.0 L1204.9 197.0 L1206.0 199.3 L1194.5 195.9 L1206.0 192.4 L1204.9 194.7 L1212.5 194.7 Z M86.7 215.1 L86.1 216.1 L84.9 216.1 L84.3 215.1 L84.9 214.1 L86.1 214.1 Z M139.9 215.1 L139.3 216.1 L138.2 216.1 L137.6 215.1 L138.2 214.1 L139.3 214.1 Z M193.1 215.1 L192.6 216.1 L191.4 216.1 L190.8 215.1 L191.4 214.1 L192.6 214.1 Z M246.4 215.1 L245.8 216.1 L244.6 216.1 L244.1 215.1 L244.6 214.1 L245.8 214.1 Z M299.6 215.1 L299.0 216.1 L297.9 216.1 L297.3 215.1 L297.9 214.1 L299.0 214.1 Z M352.9 215.4 L352.7 215.4 L352.9 215.9 L350.4 215.1 L352.9 214.4 L352.7 214.9 L352.9 214.9 Z M407.3 215.6 L406.8 215.6 L407.3 216.5 L402.6 215.1 L407.3 213.7 L406.8 214.7 L407.3 214.7 Z M460.4 215.6 L460.0 215.6 L460.4 216.5 L455.9 215.1 L460.4 213.8 L460.0 214.7 L460.4 214.7 Z M513.8 215.6 L513.3 215.6 L513.8 216.5 L509.1 215.1 L513.8 213.7 L513.3 214.7 L513.8 214.7 Z M567.5 215.7 L567.0 215.7 L567.5 216.9 L561.7 215.1 L567.5 213.4 L567.0 214.6 L567.5 214.6 Z M621.5 215.9 L620.8 215.9 L621.5 217.3 L614.2 215.1 L621.5 212.9 L620.8 214.4 L621.5 214.4 Z M675.6 216.0 L674.7 216.0 L675.6 217.8 L666.7 215.1 L675.6 212.5 L674.7 214.2 L675.6 214.2 Z M729.3 216.1 L728.3 216.1 L729.3 218.1 L719.4 215.1 L729.3 212.2 L728.3 214.1 L729.3 214.1 Z M783.0 216.2 L781.9 216.2 L783.0 218.4 L772.2 215.1 L783.0 211.9 L781.9 214.1 L783.0 214.1 Z M836.6 216.3 L835.4 216.3 L836.6 218.6 L825.1 215.1 L836.6 211.7 L835.4 214.0 L836.6 214.0 Z M889.8 216.3 L888.7 216.3 L889.8 218.6 L878.3 215.1 L889.8 211.7 L888.7 214.0 L889.8 214.0 Z M943.1 216.3 L941.9 216.3 L943.1 218.6 L931.6 215.1 L943.1 211.7 L941.9 214.0 L943.1 214.0 Z M996.7 216.3 L994.7 216.3 L995.9 218.6 L984.4 215.1 L995.9 211.7 L994.7 214.0 L996.7 214.0 Z M1050.2 216.3 L1047.7 216.3 L1048.8 218.6 L1037.3 215.1 L1048.8 211.7 L1047.7 214.0 L1050.2 214.0 Z M1103.9 216.3 L1100.5 216.3 L1101.7 218.6 L1090.2 215.1 L1101.7 211.7 L1100.5 214.0 L1103.9 214.0 Z M1157.4 216.3 L1153.5 216.3 L1154.7 218.6 L1143.2 215.1 L1154.7 211.7 L1153.5 214.0 L1157.4 214.0 Z M1211.8 216.3 L1205.6 216.3 L1206.8 218.6 L1195.2 215.1 L1206.8 211.7 L1205.6 214.0 L1211.8 214.0 Z M86.7 234.4 L86.1 235.4 L84.9 235.4 L84.3 234.4 L84.9 233.4 L86.1 233.4 Z M139.9 234.4 L139.3 235.4 L138.2 235.4 L137.6 234.4 L138.2 233.4 L139.3 233.4 Z M193.1 234.4 L192.6 235.4 L191.4 235.4 L190.8 234.4 L191.4 233.4 L192.6 233.4 Z M246.4 234.4 L245.8 235.4 L244.6 235.4 L244.1 234.4 L244.6 233.4 L245.8 233.4 Z M299.6 234.4 L299.0 235.4 L297.9 235.4 L297.3 234.4 L297.9 233.4 L299.0 233.4 Z M352.8 234.4 L352.3 235.4 L351.1 235.4 L350.5 234.4 L351.1 233.4 L352.3 233.4 Z M406.2 234.6 L405.9 234.6 L406.2 235.1 L403.7 234.4 L406.2 233.6 L405.9 234.1 L406.2 234.1 Z M459.8 234.7 L459.4 234.7 L459.8 235.4 L456.6 234.4 L459.8 233.4 L459.4 234.1 L459.8 234.1 Z M513.8 234.9 L513.3 234.9 L513.8 235.8 L509.1 234.4 L513.8 233.0 L513.3 233.9 L513.8 233.9 Z M567.7 235.0 L567.1 235.0 L567.7 236.3 L561.5 234.4 L567.7 232.5 L567.1 233.8 L567.7 233.8 Z M622.0 235.2 L621.2 235.2 L622.0 236.9 L613.7 234.4 L622.0 231.9 L621.2 233.6 L622.0 233.6 Z M675.6 235.3 L674.7 235.3 L675.6 237.1 L666.7 234.4 L675.6 231.7 L674.7 233.5 L675.6 233.5 Z M729.3 235.4 L728.3 235.4 L729.3 237.4 L719.4 234.4 L729.3 231.4 L728.3 233.4 L729.3 233.4 Z M782.8 235.4 L781.8 235.4 L782.8 237.5 L772.4 234.4 L782.8 231.3 L781.8 233.4 L782.8 233.4 Z M835.9 235.4 L834.9 235.4 L835.9 237.5 L825.7 234.4 L835.9 231.3 L834.9 233.4 L835.9 233.4 Z M889.3 235.4 L888.2 235.4 L889.3 237.5 L878.9 234.4 L889.3 231.3 L888.2 233.4 L889.3 233.4 Z M942.5 235.4 L941.5 235.4 L942.5 237.5 L932.1 234.4 L942.5 231.3 L941.5 233.4 L942.5 233.4 Z M996.0 235.5 L994.9 235.5 L996.0 237.7 L985.1 234.4 L996.0 231.1 L994.9 233.3 L996.0 233.3 Z M1049.5 235.5 L1048.4 235.5 L1049.5 237.8 L1038.0 234.4 L1049.5 230.9 L1048.4 233.2 L1049.5 233.2 Z M1103.2 235.5 L1101.2 235.5 L1102.4 237.8 L1090.9 234.4 L1102.4 230.9 L1101.2 233.2 L1103.2 233.2 Z M1156.2 235.5 L1154.7 235.5 L1155.8 237.8 L1144.3 234.4 L1155.8 230.9 L1154.7 233.2 L1156.2 233.2 Z M1210.3 235.5 L1207.0 235.5 L1208.2 237.8 L1196.7 234.4 L1208.2 230.9 L1207.0 233.2 L1210.3 233.2 Z M86.7 253.7 L86.1 254.7 L84.9 254.7 L84.3 253.7 L84.9 252.7 L86.1 252.7 Z M139.9 253.7 L139.3 254.7 L138.2 254.7 L137.6 253.7 L138.2 252.7 L139.3 252.7 Z M193.1 253.7 L192.6 254.7 L191.4 254.7 L190.8 253.7 L191.4 252.7 L192.6 252.7 Z M246.4 253.7 L245.8 254.7 L244.6 254.7 L244.1 253.7 L244.6 252.7 L245.8 252.7 Z M299.6 253.7 L299.0 254.7 L297.9 254.7 L297.3 253.7 L297.9 252.7 L299.0 252.7 Z M352.8 253.7 L352.3 254.7 L351.1 254.7 L350.5 253.7 L351.1 252.7 L352.3 252.7 Z M406.1 253.7 L405.5 254.7 L404.4 254.7 L403.8 253.7 L404.4 252.7 L405.5 252.7 Z M459.5 253.9 L459.2 253.9 L459.5 254.5 L456.8 253.7 L459.5 252.9 L459.2 253.4 L459.5 253.4 Z M514.5 254.3 L513.9 254.3 L514.5 255.5 L508.3 253.7 L514.5 251.8 L513.9 253.0 L514.5 253.0 Z M568.6 254.5 L567.8 254.5 L568.6 256.0 L560.7 253.7 L568.6 251.3 L567.8 252.9 L568.6 252.9 Z M622.8 254.7 L621.8 254.7 L622.8 256.6 L612.9 253.7 L622.8 250.7 L621.8 252.7 L622.8 252.7 Z M676.1 254.7 L675.1 254.7 L676.1 256.6 L666.2 253.7 L676.1 250.7 L675.1 252.7 L676.1 252.7 Z M729.7 254.7 L728.6 254.7 L729.7 256.8 L719.1 253.7 L729.7 250.5 L728.6 252.6 L729.7 252.6 Z M783.3 254.8 L782.2 254.8 L783.3 257.1 L771.8 253.7 L783.3 250.2 L782.2 252.5 L783.3 252.5 Z M836.2 254.7 L835.2 254.7 L836.2 256.9 L825.4 253.7 L836.2 250.4 L835.2 252.6 L836.2 252.6 Z M889.3 254.7 L888.2 254.7 L889.3 256.8 L878.9 253.7 L889.3 250.5 L888.2 252.6 L889.3 252.6 Z M942.5 254.7 L941.5 254.7 L942.5 256.8 L932.1 253.7 L942.5 250.5 L941.5 252.6 L942.5 252.6 Z M996.3 254.8 L995.1 254.8 L996.3 257.1 L984.8 253.7 L996.3 250.2 L995.1 252.5 L996.3 252.5 Z M1049.7 254.8 L1048.2 254.8 L1049.3 257.1 L1037.8 253.7 L1049.3 250.2 L1048.2 252.5 L1049.7 252.5 Z M1103.5 254.8 L1100.9 254.8 L1102.1 257.1 L1090.6 253.7 L1102.1 250.2 L1100.9 252.5 L1103.5 252.5 Z M1156.2 254.8 L1154.7 254.8 L1155.8 257.1 L1144.3 253.7 L1155.8 250.2 L1154.7 252.5 L1156.2 252.5 Z M1210.3 254.8 L1207.0 254.8 L1208.2 257.1 L1196.7 253.7 L1208.2 250.2 L1207.0 252.5 L1210.3 252.5 Z M86.7 272.9 L86.1 273.9 L84.9 273.9 L84.3 272.9 L84.9 271.9 L86.1 271.9 Z M139.9 272.9 L139.3 273.9 L138.2 273.9 L137.6 272.9 L138.2 271.9 L139.3 271.9 Z M193.1 272.9 L192.6 273.9 L191.4 273.9 L190.8 272.9 L191.4 271.9 L192.6 271.9 Z M246.4 272.9 L245.8 273.9 L244.6 273.9 L244.1 272.9 L244.6 271.9 L245.8 271.9 Z M299.6 272.9 L299.0 273.9 L297.9 273.9 L297.3 272.9 L297.9 271.9 L299.0 271.9 Z M352.8 272.9 L352.3 273.9 L351.1 273.9 L350.5 272.9 L351.1 271.9 L352.3 271.9 Z M407.3 273.4 L406.8 273.4 L407.3 274.3 L402.6 272.9 L407.3 271.5 L406.8 272.5 L407.3 272.5 Z M461.3 273.6 L460.6 273.6 L461.3 274.8 L455.1 272.9 L461.3 271.1 L460.6 272.3 L461.3 272.3 Z M515.4 273.7 L514.6 273.7 L515.4 275.3 L507.5 272.9 L515.4 270.6 L514.6 272.1 L515.4 272.1 Z M569.3 273.9 L568.4 273.9 L569.3 275.7 L560.0 272.9 L569.3 270.1 L568.4 272.0 L569.3 272.0 Z M623.1 274.0 L622.0 274.0 L623.1 276.1 L612.7 272.9 L623.1 269.8 L622.0 271.9 L623.1 271.9 Z M676.1 273.9 L675.1 273.9 L676.1 275.9 L666.2 272.9 L676.1 270.0 L675.1 271.9 L676.1 271.9 Z M729.3 273.9 L728.3 273.9 L729.3 275.9 L719.4 272.9 L729.3 270.0 L728.3 271.9 L729.3 271.9 Z M782.8 274.0 L781.8 274.0 L782.8 276.1 L772.4 272.9 L782.8 269.8 L781.8 271.9 L782.8 271.9 Z M836.6 274.1 L835.4 274.1 L836.6 276.4 L825.1 272.9 L836.6 269.5 L835.4 271.8 L836.6 271.8 Z M889.8 274.1 L888.7 274.1 L889.8 276.4 L878.3 272.9 L889.8 269.5 L888.7 271.8 L889.8 271.8 Z M943.6 274.1 L941.4 274.1 L942.6 276.4 L931.1 272.9 L942.6 269.5 L941.4 271.8 L943.6 271.8 Z M997.0 274.1 L994.4 274.1 L995.6 276.4 L984.1 272.9 L995.6 269.5 L994.4 271.8 L997.0 271.8 Z M1050.6 274.1 L1047.3 274.1 L1048.5 276.4 L1037.0 272.9 L1048.5 269.5 L1047.3 271.8 L1050.6 271.8 Z M1103.8 274.1 L1100.6 274.1 L1101.7 276.4 L1090.2 272.9 L1101.7 269.5 L1100.6 271.8 L1103.8 271.8 Z M1156.7 274.1 L1154.2 274.1 L1155.3 276.4 L1143.8 272.9 L1155.3 269.5 L1154.2 271.8 L1156.7 271.8 Z M1210.0 274.1 L1207.4 274.1 L1208.5 276.4 L1197.0 272.9 L1208.5 269.5 L1207.4 271.8 L1210.0 271.8 Z M86.7 292.2 L86.1 293.2 L84.9 293.2 L84.3 292.2 L84.9 291.2 L86.1 291.2 Z M139.9 292.2 L139.3 293.2 L138.2 293.2 L137.6 292.2 L138.2 291.2 L139.3 291.2 Z M193.1 292.2 L192.6 293.2 L191.4 293.2 L190.8 292.2 L191.4 291.2 L192.6 291.2 Z M246.4 292.2 L245.8 293.2 L244.6 293.2 L244.1 292.2 L244.6 291.2 L245.8 291.2 Z M299.6 292.2 L299.0 293.2 L297.9 293.2 L297.3 292.2 L297.9 291.2 L299.0 291.2 Z M353.2 292.5 L352.9 292.5 L353.2 293.1 L350.2 292.2 L353.2 291.3 L352.9 291.9 L353.2 291.9 Z M407.9 292.8 L407.3 292.8 L407.9 294.0 L401.9 292.2 L407.9 290.4 L407.3 291.6 L407.9 291.6 Z M461.6 292.9 L460.9 292.9 L461.6 294.2 L454.8 292.2 L461.6 290.2 L460.9 291.5 L461.6 291.5 Z M515.4 293.0 L514.6 293.0 L515.4 294.6 L507.5 292.2 L515.4 289.8 L514.6 291.4 L515.4 291.4 Z M569.3 293.1 L568.4 293.1 L569.3 295.0 L560.0 292.2 L569.3 289.4 L568.4 291.3 L569.3 291.3 Z M622.5 293.1 L621.6 293.1 L622.5 295.0 L613.2 292.2 L622.5 289.4 L621.6 291.3 L622.5 291.3 Z M676.4 293.3 L675.4 293.3 L676.4 295.4 L665.8 292.2 L676.4 289.0 L675.4 291.1 L676.4 291.1 Z M729.3 293.2 L728.3 293.2 L729.3 295.2 L719.4 292.2 L729.3 289.2 L728.3 291.2 L729.3 291.2 Z M782.8 293.2 L781.8 293.2 L782.8 295.3 L772.4 292.2 L782.8 289.1 L781.8 291.2 L782.8 291.2 Z M836.6 293.3 L835.4 293.3 L836.6 295.6 L825.1 292.2 L836.6 288.7 L835.4 291.0 L836.6 291.0 Z M890.3 293.3 L888.2 293.3 L889.3 295.6 L877.8 292.2 L889.3 288.7 L888.2 291.0 L890.3 291.0 Z M944.6 293.3 L940.4 293.3 L941.5 295.6 L930.0 292.2 L941.5 288.7 L940.4 291.0 L944.6 291.0 Z M998.4 293.3 L993.0 293.3 L994.2 295.6 L982.7 292.2 L994.2 288.7 L993.0 291.0 L998.4 291.0 Z M1051.8 293.3 L1046.1 293.3 L1047.2 295.6 L1035.7 292.2 L1047.2 288.7 L1046.1 291.0 L1051.8 291.0 Z M1105.3 293.3 L1099.1 293.3 L1100.3 295.6 L1088.8 292.2 L1100.3 288.7 L1099.1 291.0 L1105.3 291.0 Z M1158.7 293.3 L1152.2 293.3 L1153.4 295.6 L1141.9 292.2 L1153.4 288.7 L1152.2 291.0 L1158.7 291.0 Z M1211.5 293.3 L1205.9 293.3 L1207.0 295.6 L1195.5 292.2 L1207.0 288.7 L1205.9 291.0 L1211.5 291.0 Z M86.7 311.5 L86.1 312.5 L84.9 312.5 L84.3 311.5 L84.9 310.5 L86.1 310.5 Z M139.9 311.5 L139.3 312.5 L138.2 312.5 L137.6 311.5 L138.2 310.5 L139.3 310.5 Z M193.1 311.5 L192.6 312.5 L191.4 312.5 L190.8 311.5 L191.4 310.5 L192.6 310.5 Z M247.8 312.0 L247.3 312.0 L247.8 313.0 L242.7 311.5 L247.8 309.9 L247.3 311.0 L247.8 311.0 Z M301.4 312.0 L300.8 312.0 L301.4 313.2 L295.6 311.5 L301.4 309.7 L300.8 310.9 L301.4 310.9 Z M354.2 312.0 L353.7 312.0 L354.2 313.0 L349.1 311.5 L354.2 309.9 L353.7 311.0 L354.2 311.0 Z M408.9 312.3 L408.1 312.3 L408.9 313.8 L401.0 311.5 L408.9 309.1 L408.1 310.7 L408.9 310.7 Z M463.1 312.4 L462.1 312.4 L463.1 314.4 L453.3 311.5 L463.1 308.5 L462.1 310.5 L463.1 310.5 Z M516.8 312.5 L515.7 312.5 L516.8 314.7 L506.0 311.5 L516.8 308.2 L515.7 310.4 L516.8 310.4 Z M570.7 312.6 L568.9 312.6 L570.1 314.9 L558.6 311.5 L570.1 308.0 L568.9 310.3 L570.7 310.3 Z M624.3 312.6 L621.8 312.6 L622.9 314.9 L611.4 311.5 L622.9 308.0 L621.8 310.3 L624.3 310.3 Z M676.9 312.6 L675.7 312.6 L676.9 314.9 L665.4 311.5 L676.9 308.0 L675.7 310.3 L676.9 310.3 Z M731.2 312.6 L727.9 312.6 L729.1 314.9 L717.6 311.5 L729.1 308.0 L727.9 310.3 L731.2 310.3 Z M784.5 312.6 L781.0 312.6 L782.1 314.9 L770.6 311.5 L782.1 308.0 L781.0 310.3 L784.5 310.3 Z M838.3 312.6 L833.7 312.6 L834.9 314.9 L823.4 311.5 L834.9 308.0 L833.7 310.3 L838.3 310.3 Z M892.4 312.6 L886.1 312.6 L887.2 314.9 L875.7 311.5 L887.2 308.0 L886.1 310.3 L892.4 310.3 Z M945.9 312.6 L939.1 312.6 L940.2 314.9 L928.7 311.5 L940.2 308.0 L939.1 310.3 L945.9 310.3 Z M999.4 312.6 L992.0 312.6 L993.1 314.9 L981.6 311.5 L993.1 308.0 L992.0 310.3 L999.4 310.3 Z M1052.9 312.6 L1045.0 312.6 L1046.2 314.9 L1034.7 311.5 L1046.2 308.0 L1045.0 310.3 L1052.9 310.3 Z M1106.4 312.6 L1098.0 312.6 L1099.2 314.9 L1087.7 311.5 L1099.2 308.0 L1098.0 310.3 L1106.4 310.3 Z M1159.8 312.6 L1151.1 312.6 L1152.2 314.9 L1140.7 311.5 L1152.2 308.0 L1151.1 310.3 L1159.8 310.3 Z M1213.5 312.6 L1203.9 312.6 L1205.0 314.9 L1193.5 311.5 L1205.0 308.0 L1203.9 310.3 L1213.5 310.3 Z M86.7 330.7 L86.1 331.7 L84.9 331.7 L84.3 330.7 L84.9 329.7 L86.1 329.7 Z M139.9 330.7 L139.3 331.7 L138.2 331.7 L137.6 330.7 L138.2 329.7 L139.3 329.7 Z M193.1 330.7 L192.6 331.7 L191.4 331.7 L190.8 330.7 L191.4 329.7 L192.6 329.7 Z M246.7 331.0 L246.4 331.0 L246.7 331.6 L243.7 330.7 L246.7 329.8 L246.4 330.4 L246.7 330.4 Z M300.7 331.2 L300.3 331.2 L300.7 332.1 L296.2 330.7 L300.7 329.4 L300.3 330.3 L300.7 330.3 Z M354.4 331.3 L353.9 331.3 L354.4 332.4 L348.9 330.7 L354.4 329.1 L353.9 330.2 L354.4 330.2 Z M409.1 331.6 L408.2 331.6 L409.1 333.2 L400.8 330.7 L409.1 328.2 L408.2 329.9 L409.1 329.9 Z M463.6 331.8 L462.5 331.8 L463.6 334.0 L452.8 330.7 L463.6 327.5 L462.5 329.7 L463.6 329.7 Z M517.8 331.9 L515.4 331.9 L516.6 334.2 L505.1 330.7 L516.6 327.3 L515.4 329.6 L517.8 329.6 Z M571.6 331.9 L568.0 331.9 L569.2 334.2 L557.7 330.7 L569.2 327.3 L568.0 329.6 L571.6 329.6 Z M625.7 331.9 L620.4 331.9 L621.5 334.2 L610.0 330.7 L621.5 327.3 L620.4 329.6 L625.7 329.6 Z M679.2 331.9 L673.4 331.9 L674.6 334.2 L663.1 330.7 L674.6 327.3 L673.4 329.6 L679.2 329.6 Z M733.3 331.9 L725.8 331.9 L727.0 334.2 L715.5 330.7 L727.0 327.3 L725.8 329.6 L733.3 329.6 Z M787.0 331.9 L778.5 331.9 L779.6 334.2 L768.1 330.7 L779.6 327.3 L778.5 329.6 L787.0 329.6 Z M840.8 331.9 L831.2 331.9 L832.4 334.2 L820.9 330.7 L832.4 327.3 L831.2 329.6 L840.8 329.6 Z M895.5 331.9 L883.0 331.9 L884.1 334.2 L872.6 330.7 L884.1 327.3 L883.0 329.6 L895.5 329.6 Z M947.8 331.9 L937.2 331.9 L938.4 334.2 L926.9 330.7 L938.4 327.3 L937.2 329.6 L947.8 329.6 Z M1001.5 331.9 L989.9 331.9 L991.1 334.2 L979.6 330.7 L991.1 327.3 L989.9 329.6 L1001.5 329.6 Z M1054.2 331.9 L1043.7 331.9 L1044.8 334.2 L1033.3 330.7 L1044.8 327.3 L1043.7 329.6 L1054.2 329.6 Z M1107.3 331.9 L1097.1 331.9 L1098.2 334.2 L1086.7 330.7 L1098.2 327.3 L1097.1 329.6 L1107.3 329.6 Z M1160.5 331.9 L1150.4 331.9 L1151.6 334.2 L1140.1 330.7 L1151.6 327.3 L1150.4 329.6 L1160.5 329.6 Z M1213.5 331.9 L1203.9 331.9 L1205.0 334.2 L1193.5 330.7 L1205.0 327.3 L1203.9 329.6 L1213.5 329.6 Z M86.7 350.0 L86.1 351.0 L84.9 351.0 L84.3 350.0 L84.9 349.0 L86.1 349.0 Z M139.9 350.0 L139.3 351.0 L138.2 351.0 L137.6 350.0 L138.2 349.0 L139.3 349.0 Z M193.1 350.0 L192.6 351.0 L191.4 351.0 L190.8 350.0 L191.4 349.0 L192.6 349.0 Z M246.4 350.0 L245.8 351.0 L244.6 351.0 L244.1 350.0 L244.6 349.0 L245.8 349.0 Z M299.6 350.0 L299.0 351.0 L297.9 351.0 L297.3 350.0 L297.9 349.0 L299.0 349.0 Z M353.5 350.4 L353.1 350.4 L353.5 351.1 L349.9 350.0 L353.5 348.9 L353.1 349.6 L353.5 349.6 Z M408.3 350.7 L407.6 350.7 L408.3 352.0 L401.5 350.0 L408.3 348.0 L407.6 349.3 L408.3 349.3 Z M463.6 351.1 L462.5 351.1 L463.6 353.2 L452.8 350.0 L463.6 346.8 L462.5 348.9 L463.6 348.9 Z M517.8 351.1 L515.4 351.1 L516.6 353.4 L505.1 350.0 L516.6 346.5 L515.4 348.8 L517.8 348.8 Z M571.9 351.1 L567.7 351.1 L568.8 353.4 L557.3 350.0 L568.8 346.5 L567.7 348.8 L571.9 348.8 Z M625.9 351.1 L620.2 351.1 L621.3 353.4 L609.8 350.0 L621.3 346.5 L620.2 348.8 L625.9 348.8 Z M680.6 351.1 L672.0 351.1 L673.2 353.4 L661.7 350.0 L673.2 346.5 L672.0 348.8 L680.6 348.8 Z M734.8 351.1 L724.3 351.1 L725.4 353.4 L713.9 350.0 L725.4 346.5 L724.3 348.8 L734.8 348.8 Z M788.5 351.1 L777.0 351.1 L778.1 353.4 L766.6 350.0 L778.1 346.5 L777.0 348.8 L788.5 348.8 Z M842.3 351.1 L829.7 351.1 L830.9 353.4 L819.4 350.0 L830.9 346.5 L829.7 348.8 L842.3 348.8 Z M895.8 351.1 L882.7 351.1 L883.8 353.4 L872.3 350.0 L883.8 346.5 L882.7 348.8 L895.8 348.8 Z M948.8 351.1 L936.2 351.1 L937.4 353.4 L925.9 350.0 L937.4 346.5 L936.2 348.8 L948.8 348.8 Z M1002.1 351.1 L989.3 351.1 L990.4 353.4 L978.9 350.0 L990.4 346.5 L989.3 348.8 L1002.1 348.8 Z M1054.7 351.1 L1043.2 351.1 L1044.3 353.4 L1032.8 350.0 L1044.3 346.5 L1043.2 348.8 L1054.7 348.8 Z M1107.6 351.1 L1096.8 351.1 L1098.0 353.4 L1086.5 350.0 L1098.0 346.5 L1096.8 348.8 L1107.6 348.8 Z M1160.6 351.1 L1150.3 351.1 L1151.4 353.4 L1139.9 350.0 L1151.4 346.5 L1150.3 348.8 L1160.6 348.8 Z M1213.5 351.1 L1203.9 351.1 L1205.0 353.4 L1193.5 350.0 L1205.0 346.5 L1203.9 348.8 L1213.5 348.8 Z M86.7 369.3 L86.1 370.3 L84.9 370.3 L84.3 369.3 L84.9 368.3 L86.1 368.3 Z M139.9 369.3 L139.3 370.3 L138.2 370.3 L137.6 369.3 L138.2 368.3 L139.3 368.3 Z M193.1 369.3 L192.6 370.3 L191.4 370.3 L190.8 369.3 L191.4 368.3 L192.6 368.3 Z M246.4 369.3 L245.8 370.3 L244.6 370.3 L244.1 369.3 L244.6 368.3 L245.8 368.3 Z M299.6 369.3 L299.0 370.3 L297.9 370.3 L297.3 369.3 L297.9 368.3 L299.0 368.3 Z M354.2 369.8 L353.7 369.8 L354.2 370.8 L349.1 369.3 L354.2 367.7 L353.7 368.8 L354.2 368.8 Z M409.6 370.2 L408.6 370.2 L409.6 372.1 L400.3 369.3 L409.6 366.5 L408.6 368.3 L409.6 368.3 Z M463.6 370.3 L462.5 370.3 L463.6 372.5 L452.8 369.3 L463.6 366.0 L462.5 368.2 L463.6 368.2 Z M517.8 370.4 L515.4 370.4 L516.6 372.7 L505.1 369.3 L516.6 365.8 L515.4 368.1 L517.8 368.1 Z M572.1 370.4 L567.5 370.4 L568.7 372.7 L557.2 369.3 L568.7 365.8 L567.5 368.1 L572.1 368.1 Z M626.6 370.4 L619.5 370.4 L620.7 372.7 L609.2 369.3 L620.7 365.8 L619.5 368.1 L626.6 368.1 Z M680.3 370.4 L672.3 370.4 L673.4 372.7 L661.9 369.3 L673.4 365.8 L672.3 368.1 L680.3 368.1 Z M734.8 370.4 L724.3 370.4 L725.4 372.7 L713.9 369.3 L725.4 365.8 L724.3 368.1 L734.8 368.1 Z M788.0 370.4 L777.5 370.4 L778.6 372.7 L767.1 369.3 L778.6 365.8 L777.5 368.1 L788.0 368.1 Z M841.6 370.4 L830.4 370.4 L831.5 372.7 L820.0 369.3 L831.5 365.8 L830.4 368.1 L841.6 368.1 Z M894.9 370.4 L883.6 370.4 L884.8 372.7 L873.3 369.3 L884.8 365.8 L883.6 368.1 L894.9 368.1 Z M947.8 370.4 L937.2 370.4 L938.4 372.7 L926.9 369.3 L938.4 365.8 L937.2 368.1 L947.8 368.1 Z M1000.8 370.4 L990.6 370.4 L991.8 372.7 L980.3 369.3 L991.8 365.8 L990.6 368.1 L1000.8 368.1 Z M1053.5 370.4 L1044.4 370.4 L1045.5 372.7 L1034.0 369.3 L1045.5 365.8 L1044.4 368.1 L1053.5 368.1 Z M1105.7 370.4 L1098.7 370.4 L1099.8 372.7 L1088.3 369.3 L1099.8 365.8 L1098.7 368.1 L1105.7 368.1 Z M1157.9 370.4 L1153.0 370.4 L1154.1 372.7 L1142.6 369.3 L1154.1 365.8 L1153.0 368.1 L1157.9 368.1 Z M1210.5 370.4 L1206.9 370.4 L1208.0 372.7 L1196.5 369.3 L1208.0 365.8 L1206.9 368.1 L1210.5 368.1 Z M86.7 388.5 L86.1 389.5 L84.9 389.5 L84.3 388.5 L84.9 387.5 L86.1 387.5 Z M139.9 388.5 L139.3 389.5 L138.2 389.5 L137.6 388.5 L138.2 387.5 L139.3 387.5 Z M193.1 388.5 L192.6 389.5 L191.4 389.5 L190.8 388.5 L191.4 387.5 L192.6 387.5 Z M246.4 388.5 L245.8 389.5 L244.6 389.5 L244.1 388.5 L244.6 387.5 L245.8 387.5 Z M299.6 388.5 L299.0 389.5 L297.9 389.5 L297.3 388.5 L297.9 387.5 L299.0 387.5 Z M355.7 389.3 L354.9 389.3 L355.7 390.9 L347.7 388.5 L355.7 386.1 L354.9 387.7 L355.7 387.7 Z M407.7 389.1 L407.1 389.1 L407.7 390.2 L402.2 388.5 L407.7 386.9 L407.1 388.0 L407.7 388.0 Z M461.6 389.2 L460.9 389.2 L461.6 390.6 L454.8 388.5 L461.6 386.5 L460.9 387.9 L461.6 387.9 Z M514.5 389.1 L513.8 389.1 L514.5 390.4 L508.4 388.5 L514.5 386.7 L513.8 387.9 L514.5 387.9 Z M569.6 389.5 L568.6 389.5 L569.6 391.5 L559.7 388.5 L569.6 385.6 L568.6 387.5 L569.6 387.5 Z M624.8 389.7 L621.3 389.7 L622.4 392.0 L610.9 388.5 L622.4 385.1 L621.3 387.4 L624.8 387.4 Z M678.5 389.7 L674.1 389.7 L675.3 392.0 L663.8 388.5 L675.3 385.1 L674.1 387.4 L678.5 387.4 Z M730.3 389.7 L728.8 389.7 L729.9 392.0 L718.4 388.5 L729.9 385.1 L728.8 387.4 L730.3 387.4 Z M783.4 389.7 L782.1 389.7 L783.3 392.0 L771.8 388.5 L783.3 385.1 L782.1 387.4 L783.4 387.4 Z M837.3 389.7 L834.7 389.7 L835.9 392.0 L824.4 388.5 L835.9 385.1 L834.7 387.4 L837.3 387.4 Z M889.5 389.6 L888.4 389.6 L889.5 391.8 L878.6 388.5 L889.5 385.3 L888.4 387.4 L889.5 387.4 Z M942.9 389.6 L941.7 389.6 L942.9 391.9 L931.8 388.5 L942.9 385.2 L941.7 387.4 L942.9 387.4 Z M995.4 389.5 L994.4 389.5 L995.4 391.4 L985.7 388.5 L995.4 385.6 L994.4 387.6 L995.4 387.6 Z M1047.5 389.3 L1046.8 389.3 L1047.5 390.8 L1040.0 388.5 L1047.5 386.3 L1046.8 387.8 L1047.5 387.8 Z M1099.5 389.0 L1099.0 389.0 L1099.5 390.0 L1094.5 388.5 L1099.5 387.0 L1099.0 388.0 L1099.5 388.0 Z M1151.9 388.9 L1151.5 388.9 L1151.9 389.5 L1148.7 388.5 L1151.9 387.6 L1151.5 388.2 L1151.9 388.2 Z M1204.7 388.5 L1204.1 389.5 L1202.9 389.5 L1202.3 388.5 L1202.9 387.5 L1204.1 387.5 Z M86.7 407.8 L86.1 408.8 L84.9 408.8 L84.3 407.8 L84.9 406.8 L86.1 406.8 Z M136.5 408.2 L136.9 408.2 L136.5 409.1 L141.0 407.8 L136.5 406.4 L136.9 407.3 L136.5 407.3 Z M193.1 407.8 L192.6 408.8 L191.4 408.8 L190.8 407.8 L191.4 406.8 L192.6 406.8 Z M246.4 407.8 L245.8 408.8 L244.6 408.8 L244.1 407.8 L244.6 406.8 L245.8 406.8 Z M299.6 407.8 L299.0 408.8 L297.9 408.8 L297.3 407.8 L297.9 406.8 L299.0 406.8 Z M352.8 407.8 L352.3 408.8 L351.1 408.8 L350.5 407.8 L351.1 406.8 L352.3 406.8 Z M455.4 408.3 L456.0 408.3 L455.4 409.4 L460.9 407.8 L455.4 406.1 L456.0 407.2 L455.4 407.2 Z M508.4 408.4 L509.0 408.4 L508.4 409.6 L514.5 407.8 L508.4 406.0 L509.0 407.2 L508.4 407.2 Z M562.2 408.3 L562.7 408.3 L562.2 409.3 L567.1 407.8 L562.2 406.3 L562.7 407.3 L562.2 407.3 Z M619.0 407.8 L618.5 408.8 L617.3 408.8 L616.7 407.8 L617.3 406.8 L618.5 406.8 Z M672.3 407.8 L671.7 408.8 L670.5 408.8 L670.0 407.8 L670.5 406.8 L671.7 406.8 Z M725.5 407.8 L724.9 408.8 L723.8 408.8 L723.2 407.8 L723.8 406.8 L724.9 406.8 Z M776.0 408.1 L776.4 408.1 L776.0 408.7 L779.1 407.8 L776.0 406.9 L776.4 407.5 L776.0 407.5 Z M829.3 408.1 L829.6 408.1 L829.3 408.7 L832.4 407.8 L829.3 406.9 L829.6 407.5 L829.3 407.5 Z M881.8 408.2 L882.3 408.2 L881.8 409.1 L886.3 407.8 L881.8 406.4 L882.3 407.3 L881.8 407.3 Z M935.0 408.3 L935.4 408.3 L935.0 409.2 L939.7 407.8 L935.0 406.4 L935.4 407.3 L935.0 407.3 Z M987.8 408.3 L988.3 408.3 L987.8 409.4 L993.3 407.8 L987.8 406.1 L988.3 407.2 L987.8 407.2 Z M1040.6 408.4 L1041.3 408.4 L1040.6 409.7 L1046.9 407.8 L1040.6 405.9 L1041.3 407.2 L1040.6 407.2 Z M1093.8 408.4 L1094.4 408.4 L1093.8 409.7 L1100.3 407.8 L1093.8 405.8 L1094.4 407.1 L1093.8 407.1 Z M1147.2 408.4 L1147.8 408.4 L1147.2 409.7 L1153.4 407.8 L1147.2 405.9 L1147.8 407.2 L1147.2 407.2 Z M1200.8 408.3 L1201.3 408.3 L1200.8 409.4 L1206.2 407.8 L1200.8 406.1 L1201.3 407.2 L1200.8 407.2 Z M82.5 425.9 L84.7 425.9 L83.5 423.6 L95.0 427.1 L83.5 430.5 L84.7 428.2 L82.5 428.2 Z M126.7 428.2 L140.4 428.2 L139.3 430.5 L150.8 427.1 L139.3 423.6 L140.4 425.9 L126.7 425.9 Z M179.9 428.2 L193.7 428.2 L192.5 430.5 L204.0 427.1 L192.5 423.6 L193.7 425.9 L179.9 425.9 Z M233.3 428.2 L246.8 428.2 L245.7 430.5 L257.2 427.1 L245.7 423.6 L246.8 425.9 L233.3 425.9 Z M288.6 428.2 L298.0 428.2 L296.8 430.5 L308.3 427.1 L296.8 423.6 L298.0 425.9 L288.6 425.9 Z M346.2 428.2 L347.3 428.2 L346.2 430.3 L357.1 427.1 L346.2 423.8 L347.3 426.0 L346.2 426.0 Z M399.5 428.2 L400.6 428.2 L399.5 430.3 L410.4 427.1 L399.5 423.8 L400.6 426.0 L399.5 426.0 Z M449.6 428.2 L456.4 428.2 L455.3 430.5 L466.8 427.1 L455.3 423.6 L456.4 425.9 L449.6 425.9 Z M501.0 428.2 L511.5 428.2 L510.4 430.5 L521.9 427.1 L510.4 423.6 L511.5 425.9 L501.0 425.9 Z M553.2 428.2 L565.7 428.2 L564.6 430.5 L576.1 427.1 L564.6 423.6 L565.7 425.9 L553.2 425.9 Z M605.2 428.2 L620.2 428.2 L619.1 430.5 L630.6 427.1 L619.1 423.6 L620.2 425.9 L605.2 425.9 Z M660.0 428.2 L671.9 428.2 L670.7 430.5 L682.2 427.1 L670.7 423.6 L671.9 425.9 L660.0 425.9 Z M714.9 428.2 L723.5 428.2 L722.3 430.5 L733.8 427.1 L722.3 423.6 L723.5 425.9 L714.9 425.9 Z M767.1 428.2 L777.7 428.2 L776.5 430.5 L788.0 427.1 L776.5 423.6 L777.7 425.9 L767.1 425.9 Z M819.7 428.2 L831.6 428.2 L830.4 430.5 L841.9 427.1 L830.4 423.6 L831.6 425.9 L819.7 425.9 Z M873.1 428.2 L884.7 428.2 L883.5 430.5 L895.0 427.1 L883.5 423.6 L884.7 425.9 L873.1 425.9 Z M926.9 428.2 L937.4 428.2 L936.3 430.5 L947.8 427.1 L936.3 423.6 L937.4 425.9 L926.9 425.9 Z M980.1 428.2 L990.6 428.2 L989.5 430.5 L1001.0 427.1 L989.5 423.6 L990.6 425.9 L980.1 425.9 Z M1032.8 428.2 L1044.4 428.2 L1043.2 430.5 L1054.7 427.1 L1043.2 423.6 L1044.4 425.9 L1032.8 425.9 Z M1086.1 428.2 L1097.6 428.2 L1096.5 430.5 L1108.0 427.1 L1096.5 423.6 L1097.6 425.9 L1086.1 425.9 Z M1139.6 428.2 L1150.6 428.2 L1149.5 430.5 L1161.0 427.1 L1149.5 423.6 L1150.6 425.9 L1139.6 425.9 Z M1192.0 428.2 L1204.6 428.2 L1203.5 430.5 L1215.0 427.1 L1203.5 423.6 L1204.6 425.9 L1192.0 425.9 Z M390.1 408.2 L389.4 408.2 L390.1 409.5 L383.5 407.5 L390.1 405.5 L389.4 406.8 L390.1 406.8 Z" fill="#000"/>
<g transform="translate(648.4 86.8) rotate(1.0)"><text x="-8.9" y="4.3" font-size="12.61" textLength="17.7" lengthAdjust="spacingAndGlyphs" fill="#000">0.2</text></g>
<g transform="translate(645.2 180.6) rotate(2.0)"><text x="-8.9" y="4.3" font-size="12.61" textLength="17.7" lengthAdjust="spacingAndGlyphs" fill="#000">0.2</text></g>
<g transform="translate(645.0 233.6) rotate(-9.0)"><text x="-8.9" y="4.3" font-size="12.61" textLength="17.7" lengthAdjust="spacingAndGlyphs" fill="#000">0.5</text></g>
<g transform="translate(647.4 294.6) rotate(0.0)"><text x="-8.9" y="4.3" font-size="12.61" textLength="17.7" lengthAdjust="spacingAndGlyphs" fill="#000">1.0</text></g>
<g transform="translate(642.0 343.8) rotate(3.0)"><text x="-8.9" y="4.3" font-size="12.61" textLength="17.7" lengthAdjust="spacingAndGlyphs" fill="#000">4.0</text></g>
<g transform="translate(646.0 385.0) rotate(0.0)"><text x="-8.9" y="4.3" font-size="12.61" textLength="17.7" lengthAdjust="spacingAndGlyphs" fill="#000">4.0</text></g>
<g transform="translate(1187.8 124.0) rotate(82.0)"><text x="-8.9" y="4.3" font-size="12.61" textLength="17.7" lengthAdjust="spacingAndGlyphs" fill="#000">0.5</text></g>
<g transform="translate(1080.6 268.3) rotate(-80.0)"><text x="-8.9" y="4.3" font-size="12.61" textLength="17.7" lengthAdjust="spacingAndGlyphs" fill="#000">0.5</text></g>
<g transform="translate(124.8 267.5) rotate(76.0)"><text x="-8.9" y="4.3" font-size="12.61" textLength="17.7" lengthAdjust="spacingAndGlyphs" fill="#000">0.5</text></g>
<g transform="translate(274.0 413.0) rotate(-82.0)"><text x="-8.9" y="4.3" font-size="12.61" textLength="17.7" lengthAdjust="spacingAndGlyphs" fill="#000">2.0</text></g>
<g transform="translate(369.5 413.6) rotate(-78.0)"><text x="-8.9" y="4.3" font-size="12.61" textLength="17.7" lengthAdjust="spacingAndGlyphs" fill="#000">2.0</text></g>
<g transform="translate(405.2 409.0) rotate(-90.0)"><text x="-8.9" y="4.3" font-size="12.61" textLength="17.7" lengthAdjust="spacingAndGlyphs" fill="#000">2.0</text></g>
<g transform="translate(293.0 431.0) rotate(78.0)"><text x="-12.4" y="4.3" font-size="12.61" textLength="24.8" lengthAdjust="spacingAndGlyphs" fill="#000">12.0</text></g>
<g transform="translate(647.0 423.3) rotate(0.0)"><text x="-8.9" y="4.3" font-size="12.61" textLength="17.7" lengthAdjust="spacingAndGlyphs" fill="#000">4.0</text></g>
<g transform="translate(648.0 428.6) rotate(0.0)"><text x="-8.9" y="4.3" font-size="12.61" textLength="17.7" lengthAdjust="spacingAndGlyphs" fill="#000">8.0</text></g>
<g transform="translate(648.5 434.7) rotate(2.0)"><text x="-12.4" y="4.3" font-size="12.61" textLength="24.8" lengthAdjust="spacingAndGlyphs" fill="#000">12.0</text></g>
<g transform="translate(164.5 61.3) rotate(0.0)"><text x="-8.9" y="4.3" font-size="12.61" textLength="17.7" lengthAdjust="spacingAndGlyphs" fill="#000">0.1</text></g>
<g transform="translate(304.6 61.3) rotate(0.0)"><text x="-8.9" y="4.3" font-size="12.61" textLength="17.7" lengthAdjust="spacingAndGlyphs" fill="#000">0.1</text></g>
<g transform="translate(436.3 61.3) rotate(0.0)"><text x="-8.9" y="4.3" font-size="12.61" textLength="17.7" lengthAdjust="spacingAndGlyphs" fill="#000">0.1</text></g>
<g transform="translate(501.7 61.3) rotate(0.0)"><text x="-8.9" y="4.3" font-size="12.61" textLength="17.7" lengthAdjust="spacingAndGlyphs" fill="#000">0.1</text></g>
</g>
<rect x="85.5" y="61.5" width="1118.0" height="384.9" fill="none" stroke="#000" stroke-width="1.07"/>
<g stroke="#000" stroke-width="1.07"><line x1="80.1" y1="446.40" x2="85.5" y2="446.40"/><line x1="80.1" y1="407.50" x2="85.5" y2="407.50"/><line x1="80.1" y1="369.50" x2="85.5" y2="369.50"/><line x1="80.1" y1="330.50" x2="85.5" y2="330.50"/><line x1="80.1" y1="292.50" x2="85.5" y2="292.50"/><line x1="80.1" y1="253.50" x2="85.5" y2="253.50"/><line x1="80.1" y1="215.50" x2="85.5" y2="215.50"/><line x1="80.1" y1="176.50" x2="85.5" y2="176.50"/><line x1="80.1" y1="138.30" x2="85.5" y2="138.30"/><line x1="80.1" y1="99.50" x2="85.5" y2="99.50"/><line x1="80.1" y1="61.50" x2="85.5" y2="61.50"/><line x1="85.50" y1="446.4" x2="85.50" y2="451.6"/><line x1="199.50" y1="446.4" x2="199.50" y2="451.6"/><line x1="313.50" y1="446.4" x2="313.50" y2="451.6"/><line x1="427.50" y1="446.4" x2="427.50" y2="451.6"/><line x1="541.30" y1="446.4" x2="541.30" y2="451.6"/><line x1="655.20" y1="446.4" x2="655.20" y2="451.6"/><line x1="769.00" y1="446.4" x2="769.00" y2="451.6"/><line x1="882.80" y1="446.4" x2="882.80" y2="451.6"/><line x1="996.60" y1="446.4" x2="996.60" y2="451.6"/><line x1="1110.50" y1="446.4" x2="1110.50" y2="451.6"/><line x1="1203.50" y1="446.4" x2="1203.50" y2="451.6"/></g>
<rect x="1214.6" y="61.50" width="34.1" height="384.90" fill="#00005a"/><rect x="1214.6" y="75.76" width="34.1" height="370.64" fill="#000a60"/><rect x="1214.6" y="90.01" width="34.1" height="356.39" fill="#011467"/><rect x="1214.6" y="104.27" width="34.1" height="342.13" fill="#011e6d"/><rect x="1214.6" y="118.52" width="34.1" height="327.88" fill="#012974"/><rect x="1214.6" y="132.78" width="34.1" height="313.62" fill="#02337a"/><rect x="1214.6" y="147.03" width="34.1" height="299.37" fill="#023d81"/><rect x="1214.6" y="161.29" width="34.1" height="285.11" fill="#024787"/><rect x="1214.6" y="175.54" width="34.1" height="270.86" fill="#02518e"/><rect x="1214.6" y="189.80" width="34.1" height="256.60" fill="#035b94"/><rect x="1214.6" y="204.06" width="34.1" height="242.34" fill="#03669b"/><rect x="1214.6" y="218.31" width="34.1" height="228.09" fill="#0370a1"/><rect x="1214.6" y="232.57" width="34.1" height="213.83" fill="#047aa8"/><rect x="1214.6" y="246.82" width="34.1" height="199.58" fill="#0484ae"/><rect x="1214.6" y="261.08" width="34.1" height="185.32" fill="#178db4"/><rect x="1214.6" y="275.33" width="34.1" height="171.07" fill="#2b97ba"/><rect x="1214.6" y="289.59" width="34.1" height="156.81" fill="#3ea0c1"/><rect x="1214.6" y="303.84" width="34.1" height="142.56" fill="#51aac7"/><rect x="1214.6" y="318.10" width="34.1" height="128.30" fill="#65b3cd"/><rect x="1214.6" y="332.36" width="34.1" height="114.04" fill="#78bdd3"/><rect x="1214.6" y="346.61" width="34.1" height="99.79" fill="#8bc6da"/><rect x="1214.6" y="360.87" width="34.1" height="85.53" fill="#9ed0e0"/><rect x="1214.6" y="375.12" width="34.1" height="71.28" fill="#b2d9e6"/><rect x="1214.6" y="389.38" width="34.1" height="57.02" fill="#c5e3ec"/><rect x="1214.6" y="403.63" width="34.1" height="42.77" fill="#d8ecf3"/><rect x="1214.6" y="417.89" width="34.1" height="28.51" fill="#ecf6f9"/><rect x="1214.6" y="432.14" width="34.1" height="14.26" fill="#ffffff"/>
<rect x="1214.6" y="61.5" width="34.100000000000136" height="384.9" fill="none" stroke="#000" stroke-width="1.07"/>
<g stroke="#000" stroke-width="1.07"><line x1="1248.7" y1="446.40" x2="1253.7" y2="446.40"/><line x1="1248.7" y1="403.63" x2="1253.7" y2="403.63"/><line x1="1248.7" y1="360.87" x2="1253.7" y2="360.87"/><line x1="1248.7" y1="318.10" x2="1253.7" y2="318.10"/><line x1="1248.7" y1="275.33" x2="1253.7" y2="275.33"/><line x1="1248.7" y1="232.57" x2="1253.7" y2="232.57"/><line x1="1248.7" y1="189.80" x2="1253.7" y2="189.80"/><line x1="1248.7" y1="147.03" x2="1253.7" y2="147.03"/><line x1="1248.7" y1="104.27" x2="1253.7" y2="104.27"/><line x1="1248.7" y1="61.50" x2="1253.7" y2="61.50"/></g>
<path d="M1216.6 51.8 L1236.5 51.8 L1235.3 54.1 L1246.8 50.6 L1235.3 47.1 L1236.5 49.5 L1216.6 49.5 Z" fill="#000"/>
<text x="85.8" y="20.8" font-size="14.60" font-weight="bold" stroke="#000" stroke-width="0.3" textLength="60.8" lengthAdjust="spacingAndGlyphs" fill="#000">Specific</text><text x="151.4" y="20.8" font-size="14.60" font-weight="bold" stroke="#000" stroke-width="0.3" textLength="71.0" lengthAdjust="spacingAndGlyphs" fill="#000">Humidity</text><text x="227.2" y="20.8" font-size="14.60" font-weight="bold" stroke="#000" stroke-width="0.3" textLength="41.1" lengthAdjust="spacingAndGlyphs" fill="#000">cross</text><text x="273.1" y="20.8" font-size="14.60" font-weight="bold" stroke="#000" stroke-width="0.3" textLength="56.6" lengthAdjust="spacingAndGlyphs" fill="#000">section</text><text x="334.5" y="20.8" font-size="14.60" font-weight="bold" stroke="#000" stroke-width="0.3" textLength="29.1" lengthAdjust="spacingAndGlyphs" fill="#000">and</text><text x="368.5" y="20.8" font-size="14.60" font-weight="bold" stroke="#000" stroke-width="0.3" textLength="37.3" lengthAdjust="spacingAndGlyphs" fill="#000">wind</text><text x="410.7" y="20.8" font-size="14.60" font-weight="bold" stroke="#000" stroke-width="0.3" textLength="57.9" lengthAdjust="spacingAndGlyphs" fill="#000">vectors</text><text x="473.4" y="20.8" font-size="14.60" font-weight="bold" stroke="#000" stroke-width="0.3" textLength="59.1" lengthAdjust="spacingAndGlyphs" fill="#000">parallel</text><text x="537.3" y="20.8" font-size="14.60" font-weight="bold" stroke="#000" stroke-width="0.3" textLength="16.1" lengthAdjust="spacingAndGlyphs" fill="#000">to</text><text x="558.3" y="20.8" font-size="14.60" font-weight="bold" stroke="#000" stroke-width="0.3" textLength="41.1" lengthAdjust="spacingAndGlyphs" fill="#000">cross</text><text x="604.2" y="20.8" font-size="14.60" font-weight="bold" stroke="#000" stroke-width="0.3" textLength="62.2" lengthAdjust="spacingAndGlyphs" fill="#000">section:</text><text x="671.2" y="20.8" font-size="14.60" font-weight="bold" stroke="#000" stroke-width="0.3" textLength="110.2" lengthAdjust="spacingAndGlyphs" fill="#000">CrosssectionB</text>
<text x="85.8" y="36.8" font-size="14.60" font-weight="bold" stroke="#000" stroke-width="0.3" textLength="78.8" lengthAdjust="spacingAndGlyphs" fill="#000">Latitudes:</text><text x="169.4" y="36.8" font-size="14.60" font-weight="bold" stroke="#000" stroke-width="0.3" textLength="78.5" lengthAdjust="spacingAndGlyphs" fill="#000">14.0,18.0,</text><text x="252.7" y="36.8" font-size="14.60" font-weight="bold" stroke="#000" stroke-width="0.3" textLength="92.0" lengthAdjust="spacingAndGlyphs" fill="#000">Longitudes:</text><text x="349.5" y="36.8" font-size="14.60" font-weight="bold" stroke="#000" stroke-width="0.3" textLength="84.7" lengthAdjust="spacingAndGlyphs" fill="#000">-23.5,-23.5</text>
<text x="85.8" y="52.8" font-size="14.60" font-weight="bold" stroke="#000" stroke-width="0.3" textLength="83.7" lengthAdjust="spacingAndGlyphs" fill="#000">Simulation</text><text x="174.3" y="52.8" font-size="14.60" font-weight="bold" stroke="#000" stroke-width="0.3" textLength="37.6" lengthAdjust="spacingAndGlyphs" fill="#000">start</text><text x="216.7" y="52.8" font-size="14.60" font-weight="bold" stroke="#000" stroke-width="0.3" textLength="40.6" lengthAdjust="spacingAndGlyphs" fill="#000">time:</text><text x="262.1" y="52.8" font-size="14.60" font-weight="bold" stroke="#000" stroke-width="0.3" textLength="169.3" lengthAdjust="spacingAndGlyphs" fill="#000">2024-05-04_00:00:00,</text><text x="436.2" y="52.8" font-size="14.60" font-weight="bold" stroke="#000" stroke-width="0.3" textLength="38.6" lengthAdjust="spacingAndGlyphs" fill="#000">Valid</text><text x="479.7" y="52.8" font-size="14.60" font-weight="bold" stroke="#000" stroke-width="0.3" textLength="40.6" lengthAdjust="spacingAndGlyphs" fill="#000">time:</text><text x="525.1" y="52.8" font-size="14.60" font-weight="bold" stroke="#000" stroke-width="0.3" textLength="191.1" lengthAdjust="spacingAndGlyphs" fill="#000">2024-05-05T15:00:00.00</text>
<text x="53.2" y="452.1" font-size="14.60" textLength="21.1" lengthAdjust="spacingAndGlyphs" fill="#000">0.0</text>
<text x="27.9" y="413.2" font-size="14.60" textLength="46.4" lengthAdjust="spacingAndGlyphs" fill="#000">1000.0</text>
<text x="27.9" y="375.2" font-size="14.60" textLength="46.4" lengthAdjust="spacingAndGlyphs" fill="#000">2000.0</text>
<text x="27.9" y="336.2" font-size="14.60" textLength="46.4" lengthAdjust="spacingAndGlyphs" fill="#000">3000.0</text>
<text x="27.9" y="298.2" font-size="14.60" textLength="46.4" lengthAdjust="spacingAndGlyphs" fill="#000">4000.0</text>
<text x="27.9" y="259.2" font-size="14.60" textLength="46.4" lengthAdjust="spacingAndGlyphs" fill="#000">5000.0</text>
<text x="27.9" y="221.2" font-size="14.60" textLength="46.4" lengthAdjust="spacingAndGlyphs" fill="#000">6000.0</text>
<text x="27.9" y="182.2" font-size="14.60" textLength="46.4" lengthAdjust="spacingAndGlyphs" fill="#000">7000.0</text>
<text x="27.9" y="144.0" font-size="14.60" textLength="46.4" lengthAdjust="spacingAndGlyphs" fill="#000">8000.0</text>
<text x="27.9" y="105.2" font-size="14.60" textLength="46.4" lengthAdjust="spacingAndGlyphs" fill="#000">9000.0</text>
<text x="19.4" y="67.2" font-size="14.60" textLength="54.9" lengthAdjust="spacingAndGlyphs" fill="#000">10000.0</text>
<text x="66.5" y="466.7" font-size="14.60" textLength="38.0" lengthAdjust="spacingAndGlyphs" fill="#000">14.01</text>
<text x="64.1" y="483.8" font-size="14.60" textLength="42.8" lengthAdjust="spacingAndGlyphs" fill="#000">-23.51</text>
<text x="180.5" y="466.7" font-size="14.60" textLength="38.0" lengthAdjust="spacingAndGlyphs" fill="#000">14.42</text>
<text x="178.1" y="483.8" font-size="14.60" textLength="42.8" lengthAdjust="spacingAndGlyphs" fill="#000">-23.51</text>
<text x="294.5" y="466.7" font-size="14.60" textLength="38.0" lengthAdjust="spacingAndGlyphs" fill="#000">14.82</text>
<text x="292.1" y="483.8" font-size="14.60" textLength="42.8" lengthAdjust="spacingAndGlyphs" fill="#000">-23.51</text>
<text x="408.5" y="466.7" font-size="14.60" textLength="38.0" lengthAdjust="spacingAndGlyphs" fill="#000">15.23</text>
<text x="406.1" y="483.8" font-size="14.60" textLength="42.8" lengthAdjust="spacingAndGlyphs" fill="#000">-23.51</text>
<text x="522.3" y="466.7" font-size="14.60" textLength="38.0" lengthAdjust="spacingAndGlyphs" fill="#000">15.63</text>
<text x="519.9" y="483.8" font-size="14.60" textLength="42.8" lengthAdjust="spacingAndGlyphs" fill="#000">-23.51</text>
<text x="636.2" y="466.7" font-size="14.60" textLength="38.0" lengthAdjust="spacingAndGlyphs" fill="#000">16.04</text>
<text x="633.8" y="483.8" font-size="14.60" textLength="42.8" lengthAdjust="spacingAndGlyphs" fill="#000">-23.51</text>
<text x="750.0" y="466.7" font-size="14.60" textLength="38.0" lengthAdjust="spacingAndGlyphs" fill="#000">16.45</text>
<text x="747.6" y="483.8" font-size="14.60" textLength="42.8" lengthAdjust="spacingAndGlyphs" fill="#000">-23.51</text>
<text x="863.8" y="466.7" font-size="14.60" textLength="38.0" lengthAdjust="spacingAndGlyphs" fill="#000">16.85</text>
<text x="861.4" y="483.8" font-size="14.60" textLength="42.8" lengthAdjust="spacingAndGlyphs" fill="#000">-23.50</text>
<text x="977.6" y="466.7" font-size="14.60" textLength="38.0" lengthAdjust="spacingAndGlyphs" fill="#000">17.26</text>
<text x="975.2" y="483.8" font-size="14.60" textLength="42.8" lengthAdjust="spacingAndGlyphs" fill="#000">-23.50</text>
<text x="1091.5" y="466.7" font-size="14.60" textLength="38.0" lengthAdjust="spacingAndGlyphs" fill="#000">17.67</text>
<text x="1089.1" y="483.8" font-size="14.60" textLength="42.8" lengthAdjust="spacingAndGlyphs" fill="#000">-23.50</text>
<text x="1184.5" y="466.7" font-size="14.60" textLength="38.0" lengthAdjust="spacingAndGlyphs" fill="#000">17.99</text>
<text x="1182.1" y="483.8" font-size="14.60" textLength="42.8" lengthAdjust="spacingAndGlyphs" fill="#000">-23.50</text>
<text x="528.2" y="497.6" font-size="14.60" textLength="57.0" lengthAdjust="spacingAndGlyphs" fill="#000">Latitude</text><text x="589.6" y="497.6" font-size="14.60" textLength="61.1" lengthAdjust="spacingAndGlyphs" fill="#000">(degrees</text><text x="655.1" y="497.6" font-size="14.60" textLength="15.7" lengthAdjust="spacingAndGlyphs" fill="#000">N)</text>
<text x="554.5" y="513.7" font-size="14.60" textLength="68.7" lengthAdjust="spacingAndGlyphs" fill="#000">Longitude</text><text x="627.6" y="513.7" font-size="14.60" textLength="61.0" lengthAdjust="spacingAndGlyphs" fill="#000">(degrees</text><text x="693.0" y="513.7" font-size="14.60" textLength="14.1" lengthAdjust="spacingAndGlyphs" fill="#000">E)</text>
<g transform="translate(21.2 254.1) rotate(-90)"><text x="-59.3" y="0.0" font-size="14.60" textLength="54.3" lengthAdjust="spacingAndGlyphs" fill="#000">Altitude</text><text x="-0.6" y="0.0" font-size="14.60" textLength="59.9" lengthAdjust="spacingAndGlyphs" fill="#000">(meters)</text></g>
<text x="1257.9" y="452.1" font-size="14.60" textLength="29.5" lengthAdjust="spacingAndGlyphs" fill="#000">0.01</text>
<text x="1257.9" y="409.3" font-size="14.60" textLength="29.5" lengthAdjust="spacingAndGlyphs" fill="#000">0.03</text>
<text x="1257.9" y="366.6" font-size="14.60" textLength="29.5" lengthAdjust="spacingAndGlyphs" fill="#000">0.07</text>
<text x="1257.9" y="323.8" font-size="14.60" textLength="29.5" lengthAdjust="spacingAndGlyphs" fill="#000">0.25</text>
<text x="1257.9" y="281.0" font-size="14.60" textLength="29.5" lengthAdjust="spacingAndGlyphs" fill="#000">0.75</text>
<text x="1257.9" y="238.3" font-size="14.60" textLength="29.5" lengthAdjust="spacingAndGlyphs" fill="#000">2.00</text>
<text x="1257.9" y="195.5" font-size="14.60" textLength="29.5" lengthAdjust="spacingAndGlyphs" fill="#000">6.00</text>
<text x="1257.9" y="152.7" font-size="14.60" textLength="38.0" lengthAdjust="spacingAndGlyphs" fill="#000">12.00</text>
<text x="1257.9" y="110.0" font-size="14.60" textLength="38.0" lengthAdjust="spacingAndGlyphs" fill="#000">18.00</text>
<text x="1257.9" y="67.2" font-size="14.60" textLength="38.0" lengthAdjust="spacingAndGlyphs" fill="#000">25.00</text>
<g transform="translate(1313 254.6) rotate(-90)"><text x="-78.2" y="0.0" font-size="14.60" textLength="54.2" lengthAdjust="spacingAndGlyphs" fill="#000">Specific</text><text x="-19.7" y="0.0" font-size="14.60" textLength="63.1" lengthAdjust="spacingAndGlyphs" fill="#000">Humidity</text><text x="47.8" y="0.0" font-size="14.60" textLength="30.4" lengthAdjust="spacingAndGlyphs" fill="#000">g/kg</text></g>
<text x="1258.8" y="56.0" font-size="14.60" textLength="17.7" lengthAdjust="spacingAndGlyphs" fill="#000">10</text><text x="1280.9" y="56.0" font-size="14.60" textLength="25.4" lengthAdjust="spacingAndGlyphs" fill="#000">m/s</text>
</svg>
</body></html>
